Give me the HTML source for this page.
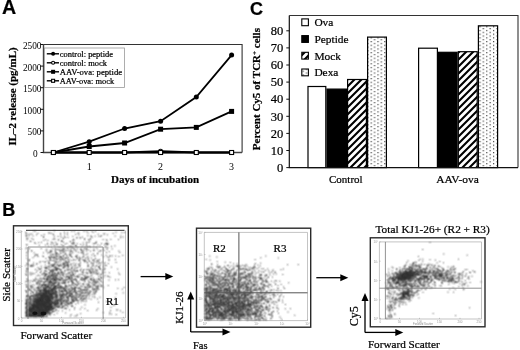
<!DOCTYPE html>
<html><head><meta charset="utf-8"><style>
html,body{margin:0;padding:0;background:#fff;width:520px;height:350px;overflow:hidden}
svg{display:block;filter:grayscale(1)}
text{stroke:#000;stroke-width:0.22px}
</style></head><body>
<svg width="520" height="350" viewBox="0 0 520 350">
<rect width="520" height="350" fill="#fff"/>
<text x="2.1" y="13.9" font-family='"Liberation Sans", sans-serif' font-weight="bold" font-size="19.6">A</text>
<text x="250" y="15.4" font-family='"Liberation Sans", sans-serif' font-weight="bold" font-size="18">C</text>
<text x="2.2" y="216" font-family='"Liberation Sans", sans-serif' font-weight="bold" font-size="18">B</text>
<path d="M43.5 44.5H242.1V152.5" fill="none" stroke="#333" stroke-width="1.1"/>
<path d="M43.5 44.5V152.5H242.1" fill="none" stroke="#444" stroke-width="1.4"/>
<path d="M40.5 152.5H43.5" stroke="#111" stroke-width="1"/>
<text x="37.6" y="157.0" text-anchor="end" font-family='"Liberation Serif", serif' font-size="9.3" style="stroke:none">0</text>
<path d="M40.5 130.9H43.5" stroke="#111" stroke-width="1"/>
<text x="41.5" y="135.4" text-anchor="end" font-family='"Liberation Serif", serif' font-size="9.3" style="stroke:none">500</text>
<path d="M40.5 109.3H43.5" stroke="#111" stroke-width="1"/>
<text x="41.5" y="113.8" text-anchor="end" font-family='"Liberation Serif", serif' font-size="9.3" style="stroke:none">1000</text>
<path d="M40.5 87.7H43.5" stroke="#111" stroke-width="1"/>
<text x="41.5" y="92.2" text-anchor="end" font-family='"Liberation Serif", serif' font-size="9.3" style="stroke:none">1500</text>
<path d="M40.5 66.1H43.5" stroke="#111" stroke-width="1"/>
<text x="41.5" y="70.6" text-anchor="end" font-family='"Liberation Serif", serif' font-size="9.3" style="stroke:none">2000</text>
<path d="M40.5 44.5H43.5" stroke="#111" stroke-width="1"/>
<text x="41.5" y="49.0" text-anchor="end" font-family='"Liberation Serif", serif' font-size="9.3" style="stroke:none">2500</text>
<text x="89.2" y="169.8" text-anchor="middle" font-family='"Liberation Serif", serif' font-size="10" style="stroke:none">1</text>
<text x="160.6" y="169.8" text-anchor="middle" font-family='"Liberation Serif", serif' font-size="10" style="stroke:none">2</text>
<text x="231.4" y="169.8" text-anchor="middle" font-family='"Liberation Serif", serif' font-size="10" style="stroke:none">3</text>
<text x="111" y="182.7" font-family='"Liberation Serif", serif' font-weight="bold" font-size="11">Days of incubation</text>
<text transform="translate(16.2 145.6) rotate(-90)" x="0" y="0" font-family='"Liberation Serif", serif' font-weight="bold" font-size="10.95">IL–2 release (pg/mL)</text>
<polyline points="53.4,152.5 89.2,152.5 124.6,152.5 160.6,152.5 196.3,152.5 231.6,152.5" fill="none" stroke="#000" stroke-width="1.8"/>
<polyline points="53.4,152.5 89.2,146.5 124.6,143.0 160.6,129.2 196.3,127.4 231.6,111.4" fill="none" stroke="#000" stroke-width="1.8"/>
<polyline points="53.4,152.5 89.2,152.5 124.6,152.5 160.6,151.2 196.3,152.5 231.6,152.5" fill="none" stroke="#000" stroke-width="1.8"/>
<polyline points="53.4,152.5 89.2,141.7 124.6,128.5 160.6,121.2 196.3,97.1 231.6,55.1" fill="none" stroke="#000" stroke-width="1.8"/>
<circle cx="53.4" cy="152.5" r="2.5" fill="#000"/>
<circle cx="89.2" cy="141.7" r="2.5" fill="#000"/>
<circle cx="124.6" cy="128.5" r="2.5" fill="#000"/>
<circle cx="160.6" cy="121.2" r="2.5" fill="#000"/>
<circle cx="196.3" cy="97.1" r="2.5" fill="#000"/>
<circle cx="231.6" cy="55.1" r="2.5" fill="#000"/>
<circle cx="53.4" cy="152.5" r="2.0" fill="#fff" stroke="#000" stroke-width="1.1"/>
<circle cx="89.2" cy="152.5" r="2.0" fill="#fff" stroke="#000" stroke-width="1.1"/>
<circle cx="124.6" cy="152.5" r="2.0" fill="#fff" stroke="#000" stroke-width="1.1"/>
<circle cx="160.6" cy="151.2" r="2.0" fill="#fff" stroke="#000" stroke-width="1.1"/>
<circle cx="196.3" cy="152.5" r="2.0" fill="#fff" stroke="#000" stroke-width="1.1"/>
<circle cx="231.6" cy="152.5" r="2.0" fill="#fff" stroke="#000" stroke-width="1.1"/>
<rect x="50.9" y="150.0" width="5.0" height="5.0" fill="#000"/>
<rect x="86.7" y="144.0" width="5.0" height="5.0" fill="#000"/>
<rect x="122.1" y="140.5" width="5.0" height="5.0" fill="#000"/>
<rect x="158.1" y="126.7" width="5.0" height="5.0" fill="#000"/>
<rect x="193.8" y="124.9" width="5.0" height="5.0" fill="#000"/>
<rect x="229.1" y="108.9" width="5.0" height="5.0" fill="#000"/>
<rect x="51.4" y="150.5" width="4.0" height="4.0" fill="#fff" stroke="#000" stroke-width="1.1"/>
<rect x="87.2" y="150.5" width="4.0" height="4.0" fill="#fff" stroke="#000" stroke-width="1.1"/>
<rect x="122.6" y="150.5" width="4.0" height="4.0" fill="#fff" stroke="#000" stroke-width="1.1"/>
<rect x="158.6" y="150.5" width="4.0" height="4.0" fill="#fff" stroke="#000" stroke-width="1.1"/>
<rect x="194.3" y="150.5" width="4.0" height="4.0" fill="#fff" stroke="#000" stroke-width="1.1"/>
<rect x="229.6" y="150.5" width="4.0" height="4.0" fill="#fff" stroke="#000" stroke-width="1.1"/>
<rect x="44.5" y="48" width="80" height="39.5" fill="#fff" stroke="#999" stroke-width="0.8"/>
<path d="M46.8 53.8H59" stroke="#000" stroke-width="1.4"/>
<circle cx="53.1" cy="53.8" r="2.0" fill="#000"/>
<text x="59.8" y="56.7" font-family='"Liberation Serif", serif' font-size="8.45">control: peptide</text>
<path d="M46.8 62.8H59" stroke="#000" stroke-width="1.4"/>
<circle cx="53.1" cy="62.8" r="1.5" fill="#fff" stroke="#000" stroke-width="1.1"/>
<text x="59.8" y="65.7" font-family='"Liberation Serif", serif' font-size="8.45">control: mock</text>
<path d="M46.8 71.8H59" stroke="#000" stroke-width="1.4"/>
<rect x="51.1" y="69.8" width="4.0" height="4.0" fill="#000"/>
<text x="59.8" y="74.7" font-family='"Liberation Serif", serif' font-size="8.45" textLength="62.3" lengthAdjust="spacingAndGlyphs">AAV-ova: peptide</text>
<path d="M46.8 80.8H59" stroke="#000" stroke-width="1.4"/>
<rect x="51.6" y="79.3" width="3.0" height="3.0" fill="#fff" stroke="#000" stroke-width="1.1"/>
<text x="59.8" y="83.7" font-family='"Liberation Serif", serif' font-size="8.45" textLength="54.4" lengthAdjust="spacingAndGlyphs">AAV-ova: mock</text>
<defs><pattern id="hatch" width="7" height="7" patternUnits="userSpaceOnUse"><rect width="7" height="7" fill="#fff"/><path d="M-1 8L8 -1M-4.5 4.5L4.5 -4.5M2.5 11.5L11.5 2.5" stroke="#000" stroke-width="2.1"/></pattern><pattern id="dots" x="370.6" y="0.3" width="6.8" height="3.7" patternUnits="userSpaceOnUse"><rect width="6.8" height="3.7" fill="#fff"/><rect x="0" y="0" width="1.2" height="1.2" fill="#444"/><rect x="3.4" y="1.85" width="1.2" height="1.2" fill="#444"/></pattern><filter id="bl" x="-5%" y="-5%" width="110%" height="110%"><feConvolveMatrix order="3" kernelMatrix="1 2 1 2 4 2 1 2 1" divisor="16" edgeMode="none"/></filter></defs>
<path d="M289.3 15.5H518V167.6" fill="none" stroke="#333" stroke-width="1.1"/>
<rect x="308.0" y="86.5" width="17.8" height="81.1" fill="#fff" stroke="#000" stroke-width="1.2"/>
<rect x="327.0" y="89.1" width="19.4" height="78.5" fill="#000" stroke="#000" stroke-width="1.2"/>
<rect x="347.6" y="79.5" width="18.8" height="88.1" fill="url(#hatch)" stroke="#000" stroke-width="1.2"/>
<rect x="367.6" y="37.1" width="18.8" height="130.5" fill="url(#dots)" stroke="#000" stroke-width="1.2"/>
<rect x="418.6" y="48.2" width="18.8" height="119.4" fill="#fff" stroke="#000" stroke-width="1.2"/>
<rect x="438.6" y="52.3" width="18.5" height="115.3" fill="#000" stroke="#000" stroke-width="1.2"/>
<rect x="458.3" y="51.7" width="18.9" height="115.9" fill="url(#hatch)" stroke="#000" stroke-width="1.2"/>
<rect x="478.4" y="25.8" width="19.2" height="141.8" fill="url(#dots)" stroke="#000" stroke-width="1.2"/>
<path d="M289.3 15.5V167.6H518" fill="none" stroke="#111" stroke-width="1.2"/>
<path d="M286.3 167.6H289.3" stroke="#111" stroke-width="1"/>
<text x="283.2" y="171.8" text-anchor="end" font-family='"Liberation Serif", serif' font-size="12.5">0</text>
<path d="M286.3 150.5H289.3" stroke="#111" stroke-width="1"/>
<text x="283.2" y="154.7" text-anchor="end" font-family='"Liberation Serif", serif' font-size="12.5">10</text>
<path d="M286.3 133.4H289.3" stroke="#111" stroke-width="1"/>
<text x="283.2" y="137.6" text-anchor="end" font-family='"Liberation Serif", serif' font-size="12.5">20</text>
<path d="M286.3 116.3H289.3" stroke="#111" stroke-width="1"/>
<text x="283.2" y="120.5" text-anchor="end" font-family='"Liberation Serif", serif' font-size="12.5">30</text>
<path d="M286.3 99.2H289.3" stroke="#111" stroke-width="1"/>
<text x="283.2" y="103.4" text-anchor="end" font-family='"Liberation Serif", serif' font-size="12.5">40</text>
<path d="M286.3 82.1H289.3" stroke="#111" stroke-width="1"/>
<text x="283.2" y="86.3" text-anchor="end" font-family='"Liberation Serif", serif' font-size="12.5">50</text>
<path d="M286.3 65.0H289.3" stroke="#111" stroke-width="1"/>
<text x="283.2" y="69.2" text-anchor="end" font-family='"Liberation Serif", serif' font-size="12.5">60</text>
<path d="M286.3 47.9H289.3" stroke="#111" stroke-width="1"/>
<text x="283.2" y="52.1" text-anchor="end" font-family='"Liberation Serif", serif' font-size="12.5">70</text>
<path d="M286.3 30.8H289.3" stroke="#111" stroke-width="1"/>
<text x="283.2" y="35.0" text-anchor="end" font-family='"Liberation Serif", serif' font-size="12.5">80</text>
<text x="329" y="182.7" font-family='"Liberation Serif", serif' font-size="11">Control</text>
<text x="436.3" y="182.8" font-family='"Liberation Serif", serif' font-size="11.3" textLength="42.6" lengthAdjust="spacingAndGlyphs">AAV-ova</text>
<text transform="translate(260 150.2) rotate(-90)" font-family='"Liberation Serif", serif' font-weight="bold" font-size="11">Percent Cy5 of TCR<tspan dy="-3.5" font-size="7">+</tspan><tspan dy="3.5"> cells</tspan></text>
<rect x="301.8" y="18.9" width="6.6" height="6.8" fill="#fff" stroke="#000" stroke-width="1.1"/>
<text x="314.4" y="26.2" font-family='"Liberation Serif", serif' font-size="11.4">Ova</text>
<rect x="301.8" y="35.6" width="6.6" height="6.8" fill="#000" stroke="#000" stroke-width="1.1"/>
<text x="314.4" y="42.9" font-family='"Liberation Serif", serif' font-size="11.4">Peptide</text>
<rect x="301.8" y="52.3" width="6.6" height="6.8" fill="url(#hatch)" stroke="#000" stroke-width="1.1"/>
<text x="314.4" y="59.6" font-family='"Liberation Serif", serif' font-size="11.4">Mock</text>
<rect x="301.8" y="69.0" width="6.6" height="6.8" fill="url(#dots)" stroke="#000" stroke-width="1.1"/>
<text x="314.4" y="76.3" font-family='"Liberation Serif", serif' font-size="11.4">Dexa</text>
<rect x="13.5" y="225.8" width="114.80000000000001" height="99.69999999999999" fill="none" stroke="#2a2a2a" stroke-width="1.4"/>
<path d="M21.3 230.4V318H125.5V230.4" fill="none" stroke="#aaa" stroke-width="0.7"/>
<path d="M26 230.4H124.5" stroke="#555" stroke-width="1.2"/>
<text x="18.6" y="233.0" text-anchor="middle" font-family='"Liberation Sans", sans-serif' font-size="3" fill="#999" style="stroke:none">250</text>
<text x="18.6" y="250.3" text-anchor="middle" font-family='"Liberation Sans", sans-serif' font-size="3" fill="#999" style="stroke:none">200</text>
<text x="18.6" y="267.6" text-anchor="middle" font-family='"Liberation Sans", sans-serif' font-size="3" fill="#999" style="stroke:none">150</text>
<text x="18.6" y="284.9" text-anchor="middle" font-family='"Liberation Sans", sans-serif' font-size="3" fill="#999" style="stroke:none">100</text>
<text x="18.6" y="302.2" text-anchor="middle" font-family='"Liberation Sans", sans-serif' font-size="3" fill="#999" style="stroke:none">50</text>
<text x="18.6" y="319.5" text-anchor="middle" font-family='"Liberation Sans", sans-serif' font-size="3" fill="#999" style="stroke:none">0</text>
<path d="M21.3 231.7h1.2M21.3 249.0h1.2M21.3 266.3h1.2M21.3 283.6h1.2M21.3 300.9h1.2M21.3 318.2h1.2" stroke="#999" stroke-width="0.5"/>
<text x="21.6" y="322.3" text-anchor="middle" font-family='"Liberation Sans", sans-serif' font-size="3" fill="#999" style="stroke:none">0</text>
<text x="41.5" y="322.3" text-anchor="middle" font-family='"Liberation Sans", sans-serif' font-size="3" fill="#999" style="stroke:none">50</text>
<text x="61.5" y="322.3" text-anchor="middle" font-family='"Liberation Sans", sans-serif' font-size="3" fill="#999" style="stroke:none">100</text>
<text x="81.4" y="322.3" text-anchor="middle" font-family='"Liberation Sans", sans-serif' font-size="3" fill="#999" style="stroke:none">150</text>
<text x="103.5" y="322.3" text-anchor="middle" font-family='"Liberation Sans", sans-serif' font-size="3" fill="#999" style="stroke:none">200</text>
<text x="123.4" y="322.3" text-anchor="middle" font-family='"Liberation Sans", sans-serif' font-size="3" fill="#999" style="stroke:none">250</text>
<path d="M21.6 318v-1.2M41.5 318v-1.2M61.5 318v-1.2M81.4 318v-1.2M103.5 318v-1.2M123.4 318v-1.2" stroke="#999" stroke-width="0.5"/>
<text x="73" y="323.6" text-anchor="middle" font-family='"Liberation Sans", sans-serif' font-size="3" fill="#888" style="stroke:none">Forward Scatter</text>
<text transform="translate(16.3 274) rotate(-90)" text-anchor="middle" font-family='"Liberation Sans", sans-serif' font-size="3" fill="#888" style="stroke:none">Side Scatter</text>
<path d="M25.8 232.2h0m0 49.5h0m0 21.8h0m0 8.6h0m0 1.4h0m.1-47.7h0m0 24.9h0m0 9.5h0m0 9.8h0m0 2.8h0m.1-38.4h0m0 28.8h0m0 1.4h0m0 2.7h0m0 .1h0m0 4.2h0m.1-62.7h0m0 59h0m0 8h0m.1-82h0m0 1.6h0m0 38.6h0m0 24.7h0m0 2h0m0 1.4h0m0 .8h0m0 1.3h0m0 4.8h0m0 5.8h0m0 .3h0m0 .7h0m0 .6h0m.1-83.2h0m0 37.3h0m0 13.8h0m0 .4h0m0 5.8h0m0 14.2h0m0 2.6h0m0 1.3h0m.1-72h0m0 8.1h0m0 2.9h0m0 24.5h0m0 24.2h0m0 .4h0m0 9.8h0m0 1.9h0m0 4h0m.1-77h0m0 20.1h0m0 36.2h0m0 .2h0m0 8.3h0m0 1.5h0m0 .7h0m0 .9h0m0 3.8h0m0 7.5h0m.1-46.2h0m0 18.8h0m0 4.5h0m0 20.8h0m0 2h0m.1-61.5h0m0 22.4h0m0 10.5h0m0 20.9h0m0 3.6h0m0 1.8h0m.1-73.7h0m0 13.6h0m0 5.9h0m0 20.9h0m0 2.4h0m0 11.5h0m0 2.8h0m0 6.5h0m0 8.4h0m0 3h0m0 1.7h0m.1-46.7h0m0 30.4h0m.1-34.2h0m0 6.4h0m0 15.4h0m0 22.1h0m0 2h0m.1-70.8h0m0 4.9h0m0 57.3h0m0 .3h0m0 1.3h0m0 1h0m0 .9h0m0 .5h0m0 5.3h0m.1-48.1h0m0 0h0m0 33.3h0m0 17.1h0m0 1.2h0m0 1.4h0m0 .4h0m.1-37.7h0m0 16.2h0m0 17.2h0m0 1.7h0m.1-17.8h0m0 14.4h0m0 5.6h0m.1-47h0m0 26.1h0m0 11.1h0m0 5.6h0m0 .3h0m.1-16.4h0m0 3.8h0m0 .4h0m0 .9h0m0 3.2h0m0 5.6h0m0 6h0m.1-47.3h0m0 41.7h0m.1-50.3h0m0 21h0m0 33.4h0m0 1.1h0m.1-77.2h0m0 70.8h0m0 1.9h0m.1-15.9h0m0 10.3h0m0 3.8h0m0 .5h0m0 2h0m0 3.2h0m0 .8h0m0 .9h0m.1-29.4h0m0 11.9h0m0 8.6h0m0 2.1h0m0 5.9h0m.1 1h0m.1-65.7h0m0 29.6h0m0 28.5h0m0 4.6h0m0 1.4h0m.1-15.9h0m0 3.4h0m0 7.1h0m0 6.7h0m0 .3h0m.1-28.4h0m0 14.1h0m0 11.2h0m0 2.4h0m0 .6h0m.1-82.3h0m0 30.4h0m0 31.5h0m0 6.8h0m0 6.9h0m0 6.6h0m.1-31.4h0m0 4.5h0m0 22.2h0m0 1.3h0m0 2.5h0m.1-54.6h0m0 29.9h0m0 15.8h0m0 3.6h0m0 4.6h0m0 1.4h0m.1-80.3h0m0 64.4h0m0 2.1h0m0 0h0m0 1.3h0m0 1.1h0m0 2.1h0m0 2.4h0m0 6.8h0m.1-4.1h0m0 1.9h0m0 2.2h0m.1-67.7h0m0 .2h0m0 40.7h0m0 15.1h0m0 4.1h0m0 3.2h0m0 .2h0m0 2.6h0m0 .8h0m.1-16.4h0m0 13.1h0m.1-52.1h0m0 29.7h0m0 7.7h0m0 3.9h0m0 12.5h0m0 .5h0m.1-18.1h0m0 13.1h0m0 1.2h0m.1-50.6h0m0 37.4h0m0 8.1h0m0 2.3h0m0 0h0m0 1.8h0m.1-6.7h0m0 4h0m.1 3.6h0m0 3.6h0m0 .8h0m.1-41.9h0m0 10h0m0 14.9h0m0 .8h0m0 6h0m0 6.3h0m.1-2h0m0 .3h0m0 2h0m0 .2h0m0 2.7h0m.1-13.8h0m0 2.4h0m0 5.7h0m0 1.1h0m0 1.7h0m.1-36.4h0m0 36.3h0m0 4.8h0m.1-74.8h0m0 63.5h0m0 5.3h0m0 3.2h0m0 3.1h0m.1-82h0m0 31.9h0m0 27.2h0m0 8.6h0m0 1.6h0m0 4.8h0m0 6.2h0m0 .1h0m0 1.9h0m.1-50.6h0m0 32h0m0 1.1h0m0 7.5h0m0 1.2h0m0 2.4h0m0 1h0m0 3h0m0 .5h0m.1-7.8h0m0 1.8h0m0 2.1h0m0 3.2h0m0 1.6h0m0 1h0m.1-28.8h0m0 10.3h0m0 2.4h0m0 10.3h0m0 .2h0m0 .9h0m.1-31h0m0 4.8h0m0 10.4h0m0 3.2h0m0 7h0m0 .4h0m0 2.9h0m0 3.1h0m0 .2h0m0 2.2h0m.1-24.9h0m0 .3h0m.1-48.9h0m0 44.7h0m0 10.2h0m0 2.8h0m0 5.1h0m0 4.7h0m0 2.7h0m0 2.9h0m0 2.2h0m.1-30.6h0m0 15.5h0m0 2.6h0m0 4h0m0 1.2h0m0 .8h0m0 .1h0m0 2.5h0m0 1.5h0m.1-41.5h0m0 20.7h0m0 8.7h0m0 .3h0m0 6.4h0m0 5.9h0m0 1.4h0m.1-20.3h0m0 .2h0m0 13.4h0m0 0h0m0 3h0m0 3.1h0m0 .8h0m.1-12.3h0m0 6.4h0m0 4.2h0m0 .7h0m0 .4h0m.1-27.6h0m0 3.1h0m0 14h0m0 2.4h0m0 .5h0m0 2h0m0 0h0m0 4.6h0m0 1.1h0m.1-10.8h0m0 4.1h0m0 2.5h0m.1-46.6h0m0 33.5h0m0 12.9h0m0 .5h0m.1-61.4h0m0 .3h0m0 14.9h0m0 38.6h0m0 3.8h0m0 .3h0m0 2.5h0m0 5.4h0m.1-50.3h0m0 8.5h0m0 25.7h0m0 11.2h0m0 1.5h0m0 3.4h0m.1-77.9h0m0 57.2h0m0 .2h0m0 13.7h0m0 2h0m.1-77.6h0m0 75.5h0m.1-4.1h0m0 1.4h0m0 .4h0m0 .5h0m0 .7h0m0 5.2h0m0 2.8h0m.1-30h0m0 19.9h0m0 .3h0m0 1.1h0m0 5.8h0m0 2.7h0m.1-24.5h0m0 8.9h0m0 2.3h0m0 1.2h0m0 3.5h0m0 .4h0m0 .5h0m0 .6h0m0 2.3h0m.1-16.1h0m0 16h0m0 1.4h0m.1-27.9h0m0 2.5h0m0 17.9h0m0 1.3h0m0 1.4h0m0 3.1h0m0 1.9h0m.1-31.6h0m0 24.8h0m0 2.3h0m0 .9h0m0 2.5h0m0 2.1h0m0 .5h0m0 .1h0m0 .7h0m0 .5h0m.1-42.5h0m0 33.4h0m0 1.9h0m0 2.4h0m0 1.9h0m.1-48h0m0 31h0m0 2.9h0m0 6.6h0m0 .1h0m0 .6h0m0 .7h0m0 .2h0m0 .8h0m0 1.2h0m0 0h0m0 1.5h0m0 2h0m0 2.6h0m.1-48.8h0m0 26.2h0m0 9.2h0m0 2.5h0m0 3.1h0m0 .7h0m.1-72h0m0 21.7h0m0 40.3h0m0 5.2h0m0 1.8h0m0 .6h0m0 1.6h0m0 .1h0m0 .3h0m0 3.4h0m0 1.2h0m0 .5h0m0 .3h0m0 2.5h0m0 .3h0m.1-23.1h0m0 16.4h0m0 3.7h0m0 0h0m.1-16h0m0 2.9h0m0 1.1h0m0 3.2h0m0 1.3h0m0 .5h0m0 2.8h0m0 2.5h0m0 1.1h0m0 .2h0m0 .5h0m0 .2h0m0 1.7h0m.1-75.2h0m0 52.7h0m0 22h0m.1-17.8h0m0 7.4h0m0 2h0m0 .4h0m0 3.1h0m0 .5h0m0 2.8h0m.1-18.5h0m0 11.9h0m0 .8h0m0 .8h0m0 .2h0m0 .9h0m0 7h0m0 0h0m.1-52.8h0m0 40h0m0 1.1h0m0 3.3h0m0 1.2h0m0 .1h0m0 2.2h0m0 1.7h0m0 2.8h0m0 1.3h0m.1-36.9h0m0 9.6h0m0 8.5h0m0 3.9h0m0 3h0m0 .9h0m0 4.7h0m0 2.9h0m0 1.9h0m.1-50h0m0 39.6h0m0 11.2h0m.1-84.9h0m0 64h0m0 5.8h0m0 .1h0m0 .9h0m0 2.4h0m0 1.7h0m0 2h0m0 4.5h0m0 .6h0m0 1.4h0m0 .7h0m0 1.6h0m.1-35.7h0m0 17.6h0m0 1h0m0 2.7h0m0 .2h0m0 5.6h0m0 6.3h0m0 1.7h0m.1-63.3h0m0 35h0m0 7h0m0 3.9h0m0 2.3h0m0 10.4h0m0 .8h0m0 .3h0m.1-38.9h0m0 23.1h0m0 7.9h0m0 3.4h0m0 1.3h0m0 .3h0m0 .2h0m0 1.8h0m0 .4h0m.1-27h0m0 11.5h0m0 5.3h0m0 5.1h0m0 5h0m0 .7h0m0 1.2h0m0 1.4h0m0 .7h0m.1-12.2h0m0 .2h0m0 .3h0m0 1.1h0m0 .4h0m0 10.6h0m.1-73.6h0m0 13.3h0m0 44.7h0m0 5.2h0m0 .3h0m0 7.3h0m0 .9h0m.1-8.4h0m0 2.3h0m0 1.6h0m0 1.9h0m0 1.8h0m0 .2h0m0 .6h0m.1-34.3h0m0 10.6h0m0 14.4h0m0 8.5h0m.1-18.8h0m0 3.6h0m0 2.1h0m0 .5h0m0 3.6h0m0 .3h0m0 2.9h0m0 .6h0m0 4.1h0m.1-22.7h0m0 8.6h0m0 5.3h0m0 1.9h0m0 .6h0m0 3.9h0m0 3.9h0m.1-15.6h0m0 3.7h0m0 2.6h0m0 2.7h0m0 .2h0m0 .3h0m0 3h0m.1-11h0m0 6.9h0m0 2.9h0m0 1.5h0m0 2h0m0 2.5h0m0 .6h0m.1-22.2h0m0 2.6h0m0 7.6h0m0 2.5h0m0 1.9h0m0 .8h0m0 1.2h0m0 0h0m0 4.4h0m.1-84h0m0 66.7h0m0 1.7h0m0 .2h0m0 2.4h0m0 5.1h0m0 0h0m0 7.6h0m0 1.2h0m.1-46.7h0m0 29.6h0m0 6.1h0m0 1.2h0m0 4.1h0m0 4.8h0m0 1.5h0m.1-61.6h0m0 46.3h0m0 6.2h0m0 2.1h0m0 6.6h0m.1-16h0m0 11.4h0m0 1.5h0m0 .1h0m0 2.1h0m.1-72.1h0m0 11h0m0 23.8h0m0 1h0m0 23.5h0m0 .3h0m0 .6h0m0 2.3h0m0 10.9h0m.1-35.7h0m0 14.2h0m0 1.4h0m0 4.6h0m0 4.7h0m0 .2h0m0 5.7h0m0 0h0m.1-12.4h0m0 1.6h0m0 1.1h0m0 3.2h0m0 .7h0m0 7.7h0m0 1.4h0m.1-19.9h0m0 1h0m0 1.1h0m0 7.6h0m0 .7h0m0 1.4h0m0 3h0m0 1.7h0m0 .5h0m0 1.3h0m0 0h0m0 1h0m.1-24.1h0m0 2.3h0m0 2.3h0m0 .3h0m0 10.8h0m0 .7h0m0 .9h0m0 2.2h0m0 1.1h0m0 .5h0m0 3.1h0m.1-26.4h0m0 14.2h0m0 2.6h0m0 6.3h0m0 1.8h0m0 1.2h0m0 1.8h0m.1-43.9h0m0 22h0m0 3.7h0m0 1h0m0 1.5h0m0 .8h0m0 .4h0m0 3.3h0m0 .6h0m0 1.2h0m0 1.3h0m0 .1h0m.1-14h0m0 8.8h0m0 .5h0m0 2.7h0m0 1h0m0 .2h0m0 1.5h0m0 1.5h0m0 1.7h0m0 .8h0m0 1.6h0m0 1.8h0m0 0h0m.1-24.3h0m0 3h0m0 4.8h0m0 .3h0m0 2h0m0 3.8h0m0 4.2h0m0 2.3h0m0 1.1h0m0 .4h0m0 2.9h0m.1-81.9h0m0 48.3h0m0 18.8h0m0 0h0m0 .8h0m0 1h0m0 1.8h0m0 1.8h0m.1-43h0m0 35.3h0m0 2.1h0m0 2.6h0m0 3.5h0m0 .3h0m0 .3h0m0 2.9h0m.1-19.5h0m0 3.4h0m0 3.2h0m0 1.3h0m0 2.1h0m0 .9h0m0 6.6h0m0 3.7h0m0 .3h0m0 3.2h0m.1-33.8h0m0 .6h0m0 18.4h0m0 .2h0m0 1.1h0m0 4.9h0m0 .2h0m.1-44.7h0m0 29.2h0m0 4.1h0m0 5.4h0m0 1h0m0 1.1h0m0 2.5h0m0 3.2h0m0 1.2h0m.1-35.3h0m0 8.9h0m0 8.9h0m0 7.9h0m0 1h0m0 .6h0m0 .5h0m.1-24.2h0m0 8h0m0 11.8h0m0 .1h0m0 4.4h0m0 3.2h0m0 4.5h0m0 2h0m0 .1h0m0 1.2h0m0 .9h0m.1-60.2h0m0 15.2h0m0 29.5h0m0 1.3h0m0 1.8h0m0 .1h0m0 .6h0m0 .6h0m0 3.8h0m0 1.6h0m0 1.9h0m0 .5h0m0 .9h0m.1-58.6h0m0 43.1h0m0 2.8h0m0 0h0m0 .3h0m0 1.2h0m0 .7h0m0 2.2h0m0 .3h0m0 1.8h0m0 3.4h0m.1-15.8h0m0 1.8h0m0 2.4h0m0 1.5h0m0 .1h0m0 1.7h0m0 .6h0m0 2.8h0m0 1h0m0 .9h0m0 1h0m0 0h0m0 5.9h0m0 2.1h0m.1-28.7h0m0 2.7h0m0 7h0m0 5.2h0m0 0h0m0 1.1h0m0 2.9h0m0 4.5h0m0 3.1h0m0 .3h0m0 0h0m.1-15.6h0m0 .6h0m0 1.3h0m0 .6h0m0 2.5h0m0 .5h0m0 3.8h0m0 .3h0m0 2.5h0m0 2.8h0m0 2.1h0m0 .2h0m.1-21.2h0m0 .9h0m0 .6h0m0 4.1h0m0 1.5h0m0 4.2h0m0 .4h0m0 1.1h0m0 6h0m0 .8h0m0 1.6h0m.1-82.7h0m0 50.2h0m0 4.4h0m0 13.1h0m0 7.7h0m0 2.5h0m0 3.2h0m0 .2h0m0 1.9h0m.1-60h0m0 11.2h0m0 21h0m0 11.1h0m0 1.1h0m0 5.3h0m0 1.3h0m0 1h0m0 .6h0m0 .1h0m0 .3h0m0 1.7h0m0 1.6h0m0 .7h0m0 1.6h0m.1-33.8h0m0 19.3h0m0 1.7h0m0 .2h0m0 1.2h0m0 1.1h0m0 .8h0m0 .6h0m0 .2h0m0 4h0m0 .5h0m.1-9.9h0m0 .1h0m0 3.5h0m0 7.4h0m.1-30.1h0m0 5.3h0m0 5.9h0m0 3.9h0m0 1.3h0m0 .3h0m0 2.7h0m0 .8h0m0 1.4h0m0 2.6h0m0 1.4h0m0 2.1h0m0 3.5h0m0 1.9h0m.1-33.1h0m0 10.8h0m0 2.4h0m0 4.5h0m0 .6h0m0 4.2h0m0 7.3h0m0 .5h0m0 4h0m.1-41.2h0m0 14h0m0 5.1h0m0 7.7h0m0 2.2h0m0 1.4h0m0 2.9h0m0 .7h0m0 6.2h0m.1-29h0m0 8.4h0m0 1.6h0m0 2.5h0m0 1.7h0m0 .2h0m0 1.2h0m0 3h0m0 2.4h0m0 4h0m0 3.6h0m0 .4h0m.1-27.8h0m0 .5h0m0 2.2h0m0 4h0m0 6h0m0 2.6h0m0 3.7h0m0 1.3h0m0 0h0m0 .7h0m0 3.8h0m0 .5h0m0 .8h0m0 1.9h0m0 .6h0m0 .3h0m.1-73.7h0m0 61.2h0m0 1.1h0m0 2.2h0m0 .3h0m0 3.5h0m0 .4h0m0 1.5h0m0 2.7h0m.1-34.8h0m0 12.4h0m0 4.7h0m0 .2h0m0 1.3h0m0 1.1h0m0 1h0m0 1.3h0m0 1.6h0m0 5.1h0m0 1.1h0m0 1h0m0 4.3h0m0 .2h0m.1-25.2h0m0 4.9h0m0 4h0m0 .7h0m0 3.3h0m0 3.5h0m0 3.1h0m0 4.9h0m.1-21.3h0m0 .4h0m0 .6h0m0 4.1h0m0 2.6h0m0 2.8h0m0 4.1h0m0 4h0m0 1.3h0m0 2h0m.1-47.5h0m0 11.6h0m0 5.7h0m0 14.5h0m0 .3h0m0 3.8h0m0 3.4h0m0 .3h0m0 1.9h0m0 1.3h0m0 .2h0m.1-66h0m0 24.1h0m0 13.9h0m0 5.5h0m0 2.4h0m0 7.8h0m0 4.1h0m0 .6h0m0 1.9h0m0 6h0m0 2h0m0 .2h0m0 .9h0m.1-30.7h0m0 13.3h0m0 2.3h0m0 1.3h0m0 2.6h0m0 0h0m0 1.5h0m0 .1h0m0 2.6h0m0 7.2h0m0 .3h0m.1-16.8h0m0 1.4h0m0 1.5h0m0 .2h0m0 .7h0m0 .3h0m0 .4h0m0 5.7h0m0 1.1h0m0 1.4h0m0 1.6h0m.1-14.6h0m0 5.8h0m0 3.1h0m0 1.9h0m0 .4h0m0 .4h0m0 1.2h0m0 .3h0m0 .6h0m0 1.3h0m0 1.3h0m0 1.5h0m.1-27.2h0m0 4.5h0m0 .9h0m0 4.6h0m0 0h0m0 3.2h0m0 5.4h0m0 6.5h0m0 .3h0m0 .6h0m.1-24.3h0m0 6.8h0m0 2.2h0m0 5.9h0m0 2h0m0 1.8h0m0 1h0m0 .5h0m0 .4h0m0 .3h0m0 1.3h0m0 0h0m0 3.8h0m.1-53.8h0m0 16h0m0 14.2h0m0 2h0m0 2.1h0m0 7.6h0m0 2h0m0 .5h0m0 .9h0m0 1.8h0m0 .9h0m0 .4h0m0 1h0m0 1.5h0m.1-37.7h0m0 15.3h0m0 9.7h0m0 .4h0m0 3.3h0m0 4.7h0m0 2.8h0m0 .5h0m0 2.4h0m0 1.1h0m0 .5h0m.1-32.1h0m0 6h0m0 3.8h0m0 2.6h0m0 .3h0m0 .2h0m0 3.4h0m0 3.7h0m0 .5h0m0 4.7h0m0 3.3h0m0 .7h0m0 1.1h0m0 .6h0m0 1.1h0m.1-55.1h0m0 29.2h0m0 5h0m0 3h0m0 .3h0m0 1.5h0m0 1h0m0 2.5h0m0 .9h0m0 .1h0m0 1.5h0m0 .3h0m0 2.6h0m0 .2h0m.1-37.1h0m0 9.1h0m0 16.3h0m0 .7h0m0 2.5h0m0 1.1h0m0 2.5h0m0 1.3h0m0 .5h0m0 6.3h0m.1-20.2h0m0 3.2h0m0 3.5h0m0 1.3h0m0 1h0m0 2.3h0m0 1.7h0m0 2.4h0m0 5.9h0m0 .9h0m0 1.3h0m.1-46.8h0m0 3h0m0 14.6h0m0 3.6h0m0 1.5h0m0 1.5h0m0 2.1h0m0 1.3h0m0 3.8h0m0 .5h0m0 2.6h0m0 1h0m0 3.1h0m0 1.3h0m0 .6h0m0 .3h0m0 .6h0m0 5.3h0m0 .3h0m.1-33.5h0m0 11.7h0m0 1.7h0m0 2.7h0m0 1.3h0m0 1.9h0m0 2.1h0m0 .8h0m0 5.1h0m0 2h0m.1-33.8h0m0 2.7h0m0 6.7h0m0 2.1h0m0 1.9h0m0 7.2h0m0 3.8h0m0 1.3h0m0 1.5h0m0 3.7h0m0 .7h0m0 2.2h0m0 .5h0m0 1.9h0m.1-26.8h0m0 7.6h0m0 3.6h0m0 0h0m0 1.6h0m0 4.9h0m0 5.3h0m0 5.2h0m0 0h0m.1-11.9h0m0 1.5h0m0 3.8h0m0 1.9h0m0 4.1h0m0 1.5h0m.1-23.9h0m0 1.3h0m0 4.7h0m0 1.7h0m0 2.7h0m0 1.7h0m0 1.2h0m0 1h0m0 4.7h0m.1-14.4h0m0 4.3h0m0 3.2h0m0 .2h0m0 1.6h0m0 9.6h0m.1-50.1h0m0 35.2h0m0 .5h0m0 .7h0m0 1.3h0m0 3.7h0m0 .7h0m0 .8h0m0 0h0m0 2.6h0m0 .6h0m.1-63.7h0m0 42.5h0m0 1.3h0m0 5.9h0m0 .5h0m0 .9h0m0 1.6h0m0 0h0m0 1.5h0m0 4.7h0m0 2.6h0m0 .3h0m0 .4h0m0 .8h0m0 .1h0m0 1.3h0m0 1.4h0m0 1.3h0m.1-30.8h0m0 9.2h0m0 .1h0m0 .1h0m0 3.8h0m0 8.2h0m0 .2h0m0 1h0m0 7.3h0m.1-79.2h0m0 6.7h0m0 25.9h0m0 28.6h0m0 .2h0m0 .3h0m0 .1h0m0 2h0m0 .1h0m0 .4h0m0 0h0m0 .2h0m0 .5h0m0 2.8h0m0 .8h0m0 2.8h0m0 1.6h0m0 3.9h0m0 1.2h0m0 2.2h0m0 .1h0m.1-45h0m0 14.9h0m0 4.2h0m0 5.5h0m0 4h0m0 2.1h0m0 1.8h0m0 9.7h0m0 .7h0m0 2.6h0m.1-36.4h0m0 5.6h0m0 12.8h0m0 2h0m0 .3h0m0 .8h0m0 1.4h0m0 7h0m0 .4h0m0 2.7h0m0 0h0m0 3.5h0m.1-42.4h0m0 4.7h0m0 9.9h0m0 7.2h0m0 .4h0m0 .4h0m0 .5h0m0 4.7h0m0 1.3h0m0 3.4h0m0 1.8h0m0 .1h0m0 3.2h0m0 .9h0m0 3.3h0m.1-20.7h0m0 .2h0m0 7.4h0m0 1.9h0m0 .9h0m0 .6h0m0 2h0m0 4.2h0m0 1.5h0m.1-32.4h0m0 18.2h0m0 3.3h0m0 0h0m0 1.4h0m0 1.5h0m0 8.4h0m.1-29h0m0 .3h0m0 4.8h0m0 2h0m0 6.1h0m0 1.4h0m0 1.9h0m0 .4h0m0 3.2h0m0 1.5h0m0 2.7h0m0 2.6h0m.1-22h0m0 1.8h0m0 3.6h0m0 .5h0m0 .1h0m0 1.5h0m0 1.1h0m0 1.3h0m0 .4h0m0 .3h0m0 2.2h0m0 2.9h0m0 .8h0m0 3.6h0m0 1.1h0m0 1.8h0m0 2.7h0m.1-22h0m0 1h0m0 .8h0m0 2h0m0 2.1h0m0 1.5h0m0 3h0m0 .6h0m0 3.7h0m0 2h0m0 5h0m.1-28.5h0m0 8.6h0m0 .4h0m0 1.3h0m0 6.1h0m0 .1h0m0 .7h0m0 .8h0m0 5.9h0m0 .7h0m0 .4h0m0 .8h0m0 .2h0m0 2.3h0m.1-19.6h0m0 .2h0m0 .4h0m0 .2h0m0 4.2h0m0 3h0m0 2.2h0m0 1.3h0m0 2h0m0 .7h0m0 .4h0m0 2.2h0m0 .8h0m0 3h0m.1-22.2h0m0 .2h0m0 .7h0m0 1.2h0m0 .8h0m0 1h0m0 .6h0m0 3h0m0 1.2h0m0 2.3h0m0 3.3h0m0 .4h0m0 .2h0m0 2.4h0m0 .8h0m0 1.7h0m0 2.4h0m.1-31.7h0m0 1h0m0 12.9h0m0 .3h0m0 2.9h0m0 1.7h0m0 5.7h0m0 .7h0m0 6.7h0m0 0h0m.1-41.9h0m0 19.3h0m0 3.1h0m.1-41.1h0m0 5.3h0m0 20.3h0m0 2.7h0m0 7.8h0m0 1.7h0m0 5.1h0m0 1.2h0m0 3.3h0m0 .6h0m0 1.5h0m0 5.1h0m0 3h0m0 2.8h0m.1-38.1h0m0 14.8h0m0 .8h0m0 6.2h0m0 .2h0m0 1.7h0m0 0h0m0 2.2h0m0 .2h0m0 3.2h0m0 .6h0m0 .1h0m0 2.6h0m0 .6h0m0 0h0m0 2.8h0m.1-40.8h0m0 12h0m0 4.2h0m0 2.8h0m0 5.8h0m0 3.3h0m0 .9h0m0 6.5h0m0 1.5h0m.1-19.7h0m0 2.5h0m0 4.4h0m0 1.3h0m0 1.3h0m0 .9h0m0 .8h0m0 2h0m0 .1h0m0 6.7h0m.1-18.3h0m0 3.9h0m0 3.5h0m0 4.8h0m0 1.3h0m0 1.3h0m0 2.8h0m0 2.8h0m0 2.8h0m.1-62.9h0m0 41.6h0m0 1.8h0m0 3.1h0m0 2.6h0m0 2.5h0m0 1.8h0m0 3.1h0m0 5h0m0 .7h0m0 .6h0m0 1.1h0m.1-60.2h0m0 30.7h0m0 8.7h0m0 1.8h0m0 1.6h0m0 2h0m0 2.1h0m0 1.5h0m0 4.7h0m0 .6h0m0 1.5h0m0 4.2h0m.1-79.5h0m0 .9h0m0 50.5h0m0 1.5h0m0 .8h0m0 3h0m0 1.8h0m0 .4h0m0 4.1h0m0 3.6h0m0 2.4h0m0 2.3h0m0 2.8h0m.1-70.3h0m0 44.1h0m0 5h0m0 10.2h0m0 5.3h0m0 1.8h0m0 5.2h0m.1-29.5h0m0 1.5h0m0 3.9h0m0 3.1h0m0 3h0m0 4h0m0 .5h0m0 2.2h0m0 5h0m0 .3h0m0 5.5h0m0 .6h0m0 1.4h0m.1-40.1h0m0 17.5h0m0 2.5h0m0 .2h0m0 5h0m0 2.7h0m0 4.6h0m0 .3h0m0 .5h0m.1-28.2h0m0 9.7h0m0 0h0m0 3.1h0m0 .5h0m0 1.7h0m0 1.3h0m0 4.6h0m0 1.4h0m0 3h0m0 .9h0m0 2.4h0m0 2.8h0m0 .7h0m0 .8h0m0 .9h0m0 2.7h0m.1-80.4h0m0 42.5h0m0 12.6h0m0 3.4h0m0 1.9h0m0 .2h0m0 1h0m0 1.1h0m0 .1h0m0 7.9h0m0 2.2h0m0 8.5h0m.1-42.6h0m0 5.1h0m0 1.1h0m0 14.5h0m0 7.8h0m0 6.6h0m0 3.5h0m.1-21.8h0m0 5.5h0m0 6.8h0m0 .5h0m0 7.2h0m0 .2h0m0 .1h0m0 3.2h0m.1-46.3h0m0 8.3h0m0 6.9h0m0 1.8h0m0 3.7h0m0 1.9h0m0 1.4h0m0 1.8h0m0 1.3h0m0 3.9h0m0 5.8h0m0 .5h0m0 .3h0m0 .8h0m0 .4h0m0 1.6h0m0 4.8h0m0 2.4h0m.1-28.7h0m0 7.2h0m0 2.8h0m0 .4h0m0 2.2h0m0 2.3h0m0 1.1h0m0 .5h0m0 3.6h0m0 1.6h0m0 .3h0m0 2.9h0m0 2.1h0m.1-34.3h0m0 5.5h0m0 5.4h0m0 1.3h0m0 3.4h0m0 9.6h0m0 .2h0m0 1.6h0m0 2.9h0m0 1.6h0m0 .5h0m0 1.1h0m0 1.1h0m.1-42h0m0 1h0m0 9.7h0m0 3.5h0m0 7.5h0m0 3.5h0m0 1.5h0m0 2.8h0m0 .6h0m0 1.8h0m0 .5h0m0 2.3h0m0 0h0m0 .9h0m0 3.1h0m.1-47.7h0m0 31.5h0m0 2.7h0m0 2.4h0m0 4.8h0m0 .2h0m0 4.8h0m0 4.3h0m0 .3h0m0 .3h0m.1-24.5h0m0 1.1h0m0 5.4h0m0 1h0m0 2.1h0m0 .3h0m0 4.4h0m0 .5h0m0 4.4h0m0 3.5h0m0 2.1h0m0 .8h0m0 2h0m.1-43h0m0 14.9h0m0 2.9h0m0 3.8h0m0 .7h0m0 1.1h0m0 .2h0m0 1.3h0m0 .1h0m0 .2h0m0 3.8h0m0 .4h0m0 .1h0m0 2.6h0m0 .4h0m0 1.3h0m0 1.1h0m0 .2h0m0 2.3h0m0 1h0m.1-22.4h0m0 1.3h0m0 2.9h0m0 2.6h0m0 5.5h0m0 .1h0m0 4.6h0m0 1.3h0m0 1.5h0m0 1.2h0m0 0h0m0 1.6h0m0 .4h0m.1-42h0m0 3.9h0m0 2.1h0m0 17.5h0m0 1.2h0m0 .4h0m0 6.2h0m0 3h0m0 1.1h0m0 2.2h0m0 3.4h0m0 2h0m0 .9h0m.1-49.4h0m0 27.7h0m0 4.9h0m0 2.5h0m0 4.6h0m0 .2h0m0 .7h0m0 3.8h0m0 1.2h0m.1-70.9h0m0 5.4h0m0 23.4h0m0 12.8h0m0 3.4h0m0 2h0m0 1.6h0m0 2h0m0 3.4h0m0 1.5h0m0 1.1h0m0 1.9h0m0 .7h0m0 12.4h0m0 5h0m.1-54.4h0m0 12.4h0m0 7.2h0m0 7.4h0m0 2h0m0 1.2h0m0 1.8h0m0 4.4h0m0 .9h0m0 6.1h0m0 5.4h0m0 2.6h0m.1-38.1h0m0 6.4h0m0 3h0m0 .7h0m0 .5h0m0 5.7h0m0 .8h0m0 8h0m0 1.9h0m0 1.4h0m0 1.7h0m0 .9h0m0 2h0m0 2.1h0m0 .9h0m0 2.7h0m.1-21.9h0m0 5.2h0m0 2.5h0m0 .4h0m0 .5h0m0 1.7h0m0 .8h0m0 .1h0m0 4.4h0m0 2.1h0m0 1.7h0m0 2h0m.1-45.8h0m0 21h0m0 .9h0m0 5.4h0m0 1.2h0m0 3.7h0m0 6.5h0m0 2h0m0 .9h0m0 .7h0m0 .9h0m0 .2h0m0 1.3h0m0 1.7h0m.1-55.6h0m0 16.2h0m0 .6h0m0 12.6h0m0 2.5h0m0 1.6h0m0 1.3h0m0 3.5h0m0 .3h0m0 5h0m0 .5h0m0 3.8h0m0 1.3h0m0 1h0m0 .4h0m0 1h0m0 1.5h0m0 .4h0m0 .5h0m0 1.5h0m.1-45.6h0m0 6.2h0m0 18.2h0m0 1.9h0m0 4.8h0m0 .4h0m0 1.2h0m0 2.9h0m0 2.8h0m0 3h0m0 .5h0m0 .5h0m.1-60.5h0m0 34.4h0m0 4.2h0m0 2.7h0m0 12.2h0m0 .9h0m0 2.5h0m0 1.5h0m0 3.3h0m.1-41.1h0m0 16h0m0 5.8h0m0 4.2h0m0 .9h0m0 3.7h0m0 2.2h0m0 2h0m0 .2h0m0 2.2h0m0 .4h0m0 3.9h0m0 .6h0m.1-34.8h0m0 1.2h0m0 .2h0m0 .5h0m0 7.1h0m0 .3h0m0 5.1h0m0 .7h0m0 5.8h0m0 0h0m0 2.5h0m0 2.1h0m0 .5h0m0 2.8h0m0 1.6h0m0 1.1h0m0 1.4h0m0 1.1h0m0 1.2h0m.1-38.8h0m0 15.7h0m0 1.2h0m0 2h0m0 2.7h0m0 .6h0m0 1.1h0m0 2.8h0m0 2.4h0m0 6.7h0m0 1.8h0m0 .6h0m0 2.4h0m0 2h0m.1-48.1h0m0 13.7h0m0 2.2h0m0 5.8h0m0 0h0m0 .9h0m0 .7h0m0 1.1h0m0 .7h0m0 .3h0m0 1.2h0m0 2.3h0m0 3.6h0m0 2.3h0m0 .2h0m0 1.9h0m0 1.5h0m0 .6h0m.1-40.5h0m0 4.7h0m0 2.4h0m0 19.2h0m0 .5h0m0 1.7h0m0 1.1h0m0 5.3h0m0 5.7h0m0 2.4h0m.1-42.7h0m0 25h0m0 3.7h0m0 .7h0m0 2.6h0m0 1.5h0m0 1.2h0m0 2.1h0m0 2.2h0m0 1.9h0m0 1.2h0m0 .7h0m0 .1h0m0 .3h0m0 .9h0m0 .6h0m0 4.3h0m.1-38h0m0 .9h0m0 9.2h0m0 8.2h0m0 2.5h0m0 1.7h0m0 1.1h0m0 2h0m0 1.4h0m0 1.1h0m0 3h0m0 1h0m0 2.5h0m0 .5h0m.1-64.1h0m0 2.5h0m0 28.1h0m0 5.9h0m0 .6h0m0 9h0m0 .5h0m0 .3h0m0 5.7h0m0 .3h0m0 3.4h0m0 1h0m0 .7h0m0 1.5h0m0 1.9h0m0 1.1h0m.1-24.5h0m0 7.4h0m0 6.2h0m0 9.7h0m0 1.8h0m0 0h0m.1-35.5h0m0 17.4h0m0 1.3h0m0 .4h0m0 .3h0m0 4h0m0 .2h0m0 2.5h0m0 2.6h0m0 3.4h0m0 2h0m0 1.3h0m0 .5h0m0 3.9h0m.1-55.8h0m0 19.5h0m0 15.1h0m0 .2h0m0 2.9h0m0 .4h0m0 4.2h0m0 1h0m0 2h0m0 .7h0m0 .4h0m0 2.7h0m.1-19.8h0m0 5.3h0m0 .7h0m0 .5h0m0 4.8h0m0 1.1h0m0 .5h0m0 2.1h0m0 .6h0m0 .1h0m0 1.1h0m0 .4h0m0 .7h0m0 3.8h0m0 .9h0m.1-15.2h0m0 1.3h0m0 .4h0m0 .1h0m0 .4h0m0 .7h0m0 1.3h0m0 1.6h0m0 .2h0m0 2.9h0m0 .8h0m0 .3h0m0 2.5h0m.1-66.8h0m0 1h0m0 35.4h0m0 11.3h0m0 5.9h0m0 .3h0m0 2.4h0m0 1.7h0m0 .4h0m0 5.5h0m0 .4h0m0 2.9h0m0 .2h0m0 .1h0m0 4.2h0m.1-38.3h0m0 1.9h0m0 15h0m0 3.2h0m0 .4h0m0 1.3h0m0 .3h0m0 .1h0m0 3.5h0m0 .5h0m0 4.2h0m0 5.6h0m.1-38.5h0m0 7.4h0m0 3.9h0m0 1.2h0m0 7.5h0m0 3.6h0m0 5.9h0m0 6.5h0m0 .1h0m0 2.5h0m.1-72.3h0m0 38.9h0m0 7.6h0m0 3.5h0m0 1.1h0m0 .8h0m0 2.8h0m0 .6h0m0 .3h0m0 11.8h0m0 .4h0m0 2.6h0m0 1h0m0 .3h0m.1-43.7h0m0 8.1h0m0 3.4h0m0 7.3h0m0 4.4h0m0 5.8h0m0 1.6h0m0 1.7h0m0 2.9h0m0 5h0m.1-55.4h0m0 24.1h0m0 14.1h0m0 1.4h0m0 1h0m0 5.5h0m0 1.7h0m0 1.4h0m0 1.7h0m0 1.8h0m0 4.6h0m.1-22.4h0m0 4.5h0m0 9.2h0m0 3.7h0m0 1.6h0m0 2.4h0m0 .7h0m0 .6h0m0 1.2h0m.1-28.5h0m0 1.4h0m0 5.3h0m0 1.7h0m0 .6h0m0 3.4h0m0 .2h0m0 1.4h0m0 2.8h0m0 .1h0m0 4.8h0m0 1h0m0 .6h0m0 1.6h0m0 1.4h0m0 .8h0m.1-24.1h0m0 4.4h0m0 4.8h0m0 1h0m0 .1h0m0 .8h0m0 2h0m0 0h0m0 1.4h0m0 3.2h0m0 1.2h0m0 .4h0m0 1.3h0m.1-22.7h0m0 2.6h0m0 .6h0m0 2.9h0m0 6.1h0m0 2.5h0m0 .9h0m0 .1h0m0 1.1h0m0 2h0m0 2.2h0m0 4.7h0m.1-43.5h0m0 24h0m0 7.9h0m0 4.7h0m0 .7h0m0 4.7h0m0 1.9h0m0 1.7h0m.1-79.3h0m0 13.5h0m0 17.3h0m0 12h0m0 1.5h0m0 8.8h0m0 3.2h0m0 3h0m0 4.2h0m0 3.3h0m0 1.7h0m0 .5h0m0 5.2h0m0 0h0m0 1.3h0m0 .7h0m.1-46.9h0m0 13.9h0m0 3.6h0m0 7h0m0 3.1h0m0 9.4h0m0 1.4h0m0 2.4h0m0 4.6h0m0 .4h0m0 1.5h0m.1-52.5h0m0 29.2h0m0 8h0m0 4.1h0m0 .5h0m0 4h0m0 2.4h0m0 1.3h0m0 .2h0m0 3.3h0m.1-31.6h0m0 4.3h0m0 8.9h0m0 .5h0m0 1h0m0 2.9h0m0 2.6h0m0 .4h0m0 .5h0m0 .7h0m0 .8h0m0 .7h0m0 3.3h0m0 .9h0m0 .6h0m0 1h0m0 2.2h0m0 2.3h0m0 1.3h0m0 .9h0m.1-61.9h0m0 13.6h0m0 3.6h0m0 6.4h0m0 6h0m0 .1h0m0 9.1h0m0 2.5h0m0 .7h0m0 3.6h0m0 5.7h0m0 .8h0m0 1.5h0m0 .6h0m0 .7h0m0 1.8h0m0 .5h0m0 1.4h0m.1-48.6h0m0 5.1h0m0 5.3h0m0 12.6h0m0 3.8h0m0 2h0m0 1.1h0m0 .3h0m0 .2h0m0 4h0m0 9.7h0m0 .2h0m0 2.9h0m0 .7h0m0 4h0m.1-44.2h0m0 11.8h0m0 1.4h0m0 10.9h0m0 3.1h0m0 .3h0m0 3.6h0m0 5.2h0m0 .7h0m0 3.2h0m.1-53.2h0m0 16.4h0m0 11.6h0m0 5.2h0m0 4.1h0m0 3.8h0m0 3.5h0m0 1.5h0m0 3.5h0m0 3.6h0m0 1.9h0m0 .4h0m.1-51.9h0m0 32.2h0m0 1h0m0 9.7h0m0 1.8h0m0 .6h0m0 3.4h0m.1-21.4h0m0 3.2h0m0 2.5h0m0 2.3h0m0 1.5h0m0 .3h0m0 3h0m0 2.1h0m0 0h0m0 6.3h0m.1-51.5h0m0 15h0m0 9.1h0m0 10.7h0m0 6h0m0 3.4h0m0 0h0m0 .4h0m0 1.9h0m0 4.4h0m0 .6h0m.1-50.5h0m0 5h0m0 16.4h0m0 7.9h0m0 5.6h0m0 4.4h0m0 1.5h0m0 4.3h0m0 3.6h0m0 1.2h0m.1-75.5h0m0 49.8h0m0 12h0m0 5.5h0m0 .3h0m0 .2h0m0 1.9h0m0 0h0m0 1.6h0m0 1.7h0m0 .4h0m0 .6h0m0 1.2h0m0 2.5h0m0 2.4h0m0 1.5h0m.1-62.3h0m0 21.9h0m0 3.1h0m0 2.5h0m0 12.5h0m0 3.2h0m0 1.5h0m0 .5h0m0 1.1h0m0 1h0m0 1.5h0m0 .4h0m0 .3h0m0 4h0m0 7.9h0m.1-38.4h0m0 2.2h0m0 12.4h0m0 4.2h0m0 1.3h0m0 .3h0m0 3.7h0m0 1.9h0m0 2h0m0 1.4h0m0 .6h0m0 1.1h0m0 2.5h0m.1-31.8h0m0 4.8h0m0 5.9h0m0 4h0m0 3.1h0m0 1.2h0m0 2.1h0m0 2.2h0m0 4.1h0m.1-16.8h0m0 5.9h0m0 .2h0m0 7.2h0m0 .6h0m0 5.3h0m0 1.2h0m.1-42.8h0m0 13.5h0m0 15h0m0 3.8h0m0 1.8h0m0 4.2h0m0 .7h0m0 1.3h0m0 2h0m0 7.5h0m.1-64.3h0m0 4.5h0m0 4.3h0m0 12.5h0m0 11.8h0m0 4.1h0m0 3.3h0m0 8.2h0m0 0h0m0 7.6h0m0 .8h0m0 .1h0m.1-50h0m0 17.8h0m0 1.7h0m0 2.8h0m0 10.3h0m0 6.3h0m0 4.1h0m0 3.1h0m0 1.7h0m0 1.3h0m0 2.6h0m.1-39h0m0 16.4h0m0 6.7h0m0 6.8h0m0 2.6h0m0 3.6h0m0 .3h0m.1-47h0m0 11.5h0m0 10.2h0m0 .8h0m0 11.6h0m0 1.8h0m0 7.6h0m0 3.3h0m0 5.9h0m.1-61h0m0 .2h0m0 15.4h0m0 2.9h0m0 11.1h0m0 2.8h0m0 6.4h0m0 8.4h0m0 2.1h0m0 3.4h0m0 .2h0m0 3.9h0m.1-54.5h0m0 34.6h0m0 4.3h0m0 .9h0m0 2.1h0m0 4.2h0m0 .4h0m0 3.6h0m0 5.5h0m0 .6h0m0 .5h0m.1-53.1h0m0 24h0m0 4.7h0m0 2.3h0m0 .7h0m0 4.9h0m0 2.5h0m0 1.3h0m0 3.7h0m0 2.4h0m0 4.1h0m.1-63.8h0m0 31.4h0m0 6.1h0m0 2.8h0m0 11h0m0 2.6h0m0 7.6h0m0 1.4h0m.1-74.1h0m0 16.9h0m0 32h0m0 3.2h0m0 8.2h0m0 7.5h0m0 .3h0m0 1.5h0m0 2.5h0m0 1.8h0m.1-65h0m0 47.5h0m0 3.1h0m0 .4h0m0 3.4h0m0 9.4h0m0 7.1h0m.1-66.1h0m0 29.1h0m0 2.8h0m0 .6h0m0 5.9h0m0 6.2h0m0 1.7h0m0 1.9h0m0 2.2h0m0 2.2h0m0 4.3h0m0 1.4h0m0 1h0m0 2.8h0m.1-52.2h0m0 17.8h0m0 7.1h0m0 21.4h0m0 1.1h0m0 3.6h0m0 2.5h0m.1-23.4h0m0 2.9h0m0 .5h0m0 3.4h0m0 .7h0m.1-38.3h0m0 15.5h0m0 11.5h0m0 10.2h0m0 2h0m0 2h0m0 .7h0m0 5.4h0m0 1.3h0m0 1.4h0m0 1h0m.1-42.1h0m0 11h0m0 5.1h0m0 8.9h0m0 2.1h0m0 2.7h0m0 2.7h0m0 4.3h0m0 6.5h0m0 .4h0m.1-57.3h0m0 19h0m0 20.8h0m0 10.6h0m0 .8h0m0 3.4h0m0 .3h0m0 .5h0m0 5.7h0m.1-69.9h0m0 23.4h0m0 3.6h0m0 16.4h0m0 10.2h0m0 .6h0m.1-36.2h0m0 3.9h0m0 9h0m0 2h0m0 3h0m0 10h0m0 7h0m0 1.4h0m0 2.2h0m0 4.5h0m.1-30.4h0m0 15.9h0m0 6.4h0m0 1.3h0m.1-17.6h0m0 3h0m0 9h0m0 10.2h0m0 3.3h0m0 1.3h0m0 1.6h0m.1-37.8h0m0 2h0m0 17.6h0m0 6.3h0m0 2.7h0m0 0h0m0 3.4h0m0 7.3h0m.1-42.8h0m0 6.3h0m0 17.3h0m0 .7h0m0 6.6h0m0 5.9h0m0 3.7h0m0 4.5h0m.1-56.9h0m0 20.9h0m0 .1h0m0 14.2h0m0 .4h0m0 .6h0m0 8.1h0m0 9.3h0m0 1.7h0m.1-38.4h0m0 2.5h0m0 10.4h0m0 5.7h0m0 .7h0m0 2.5h0m0 5.2h0m0 1.3h0m0 8.6h0m0 3.3h0m.1-40.2h0m0 6.3h0m0 7.7h0m0 7.5h0m0 .6h0m0 .3h0m0 .4h0m0 1h0m0 11.4h0m0 1h0m0 1.1h0m.1-54.5h0m0 10.4h0m0 1.3h0m0 0h0m0 12.9h0m0 6.2h0m0 4.1h0m0 1.8h0m0 3.5h0m0 7.7h0m0 .3h0m0 .5h0m0 6.4h0m.1-60.4h0m0 8h0m0 19.8h0m0 1h0m0 2.7h0m0 3.1h0m0 8.6h0m0 10.2h0m.1-62.9h0m0 18.7h0m0 13h0m0 3.9h0m0 8.7h0m0 9.4h0m0 7h0m0 .6h0m0 2.1h0m0 .9h0m.1-69.6h0m0 9.1h0m0 25.9h0m0 6.3h0m0 2.8h0m0 9.7h0m0 .2h0m0 .9h0m0 22.5h0m.1-53.6h0m0 2.5h0m0 14.5h0m0 8.2h0m0 .3h0m0 3.7h0m0 .5h0m0 1h0m0 4.3h0m0 3.4h0m0 15h0m.1-76.6h0m0 54.3h0m0 4.5h0m0 4.2h0m0 .6h0m0 4.6h0m0 5.5h0m.1-26.7h0m0 24.2h0m0 2.6h0m.1-32.4h0m0 15.8h0m0 1.5h0m0 .8h0m0 3.4h0m0 5.2h0m.1-31.5h0m0 7.9h0m0 10.4h0m0 1.2h0m0 1.7h0m0 17.1h0m.1-54.5h0m0 11.3h0m0 6.9h0m0 14.3h0m0 0h0m0 1.9h0m.1-44.2h0m0 24.5h0m0 10.4h0m0 4.2h0m0 7.8h0m0 7.5h0m.1-42.3h0m0 7.2h0m0 .9h0m0 17.5h0m0 .6h0m0 1.9h0m0 18.2h0m.1-65.5h0m0 32.2h0m0 7.8h0m0 7h0m0 .8h0m0 16.9h0m.1-72h0m0 33.7h0m0 11.1h0m0 4.3h0m0 0h0m0 13.2h0m0 .3h0m0 2.6h0m0 6h0m0 2.7h0m0 3.1h0m0 6.8h0m.1-78.5h0m0 50.3h0m0 4.6h0m0 13.6h0m.1-25h0m0 7.8h0m0 10.3h0m0 4.6h0m0 2.6h0m0 1.8h0m.1-39.2h0m0 15.2h0m0 6h0m0 12.7h0m.1-44.6h0m0 16.9h0m0 3.1h0m0 2.7h0m0 7.8h0m0 2.5h0m0 15.4h0m0 6h0m.1-32.7h0m0 1.9h0m0 3.5h0m0 4.3h0m0 12.5h0m0 2.7h0m0 1.4h0m0 3.3h0m.1-47.9h0m0 1.5h0m0 2.2h0m0 41h0m0 2.2h0m.1-68h0m0 7.1h0m0 17.6h0m0 9h0m0 .1h0m0 1.2h0m0 3.7h0m0 9.3h0m0 4.7h0m0 1.1h0m0 1.4h0m0 .2h0m0 1.2h0m0 7.9h0m.1-46.2h0m0 1.2h0m0 3.5h0m0 31h0m.1-40h0m0 22.7h0m0 4.1h0m0 9h0m.1-22h0m0 2.3h0m0 7.9h0m0 1.5h0m0 3.2h0m0 4.8h0m0 1.1h0m0 1.2h0m0 2.3h0m0 6h0m0 5.5h0m0 1.7h0m0 3.5h0m.1-59h0m0 2.7h0m0 17.5h0m0 11.8h0m0 1.8h0m0 13.5h0m0 2.3h0m0 1.2h0m0 2.4h0m0 2.2h0m.1-53.9h0m0 17h0m0 2.5h0m0 13h0m0 3.9h0m0 .2h0m0 1.8h0m0 1.6h0m0 10.3h0m.1-52.2h0m0 6.2h0m0 28.2h0m0 10.5h0m0 2.6h0m0 3h0m0 2.2h0m0 4.4h0m.1-32h0m0 6.4h0m0 .4h0m0 2h0m0 3.6h0m0 17h0m0 .6h0m.1-61.4h0m0 25.8h0m0 12.4h0m0 6.8h0m0 4.3h0m0 11.2h0m.1-43.8h0m0 7.9h0m0 8.7h0m0 10.1h0m0 5.1h0m0 9.3h0m.1-5.9h0m0 2.9h0m0 .2h0m.1-21.9h0m0 1.8h0m0 2.4h0m0 12.2h0m0 .5h0m0 2.4h0m0 .4h0m0 5.3h0m0 6.5h0m0 3.1h0m0 .6h0m.1-34.3h0m0 9.4h0m0 .6h0m0 .1h0m0 2.8h0m0 2.5h0m0 .2h0m0 11.7h0m.1-51h0m0 22.8h0m0 5.1h0m0 13.7h0m0 2h0m0 7.6h0m.1-59.1h0m0 10.6h0m0 1.7h0m0 5.8h0m0 20.2h0m0 8.3h0m0 9h0m0 6.3h0m0 2.9h0m.1-56.6h0m0 8.6h0m0 16.1h0m0 1.5h0m0 12.7h0m0 4.2h0m0 .4h0m0 1.3h0m.1-44.4h0m0 3.5h0m0 13.4h0m0 7.7h0m0 .1h0m0 10.3h0m0 7.1h0m0 .6h0m0 6.9h0m0 2.7h0m.1-43.5h0m0 8.7h0m0 7.4h0m0 14.4h0m0 11.8h0m.1-50.6h0m0 5.8h0m0 10h0m0 4.5h0m0 18.9h0m0 11.5h0m.1-39.3h0m0 3.8h0m0 .5h0m0 18.5h0m0 10.7h0m0 1.5h0m0 2.7h0m0 4.1h0m.1-39.3h0m0 .6h0m0 25.8h0m0 6.6h0m0 .6h0m0 .8h0m.1-47h0m0 13.2h0m0 13.6h0m0 .3h0m0 6.5h0m0 2.4h0m.1-47.2h0m0 .4h0m0 25.8h0m0 22.5h0m0 10.9h0m0 9.6h0m.1-63.6h0m0 15h0m0 21.3h0m0 17.8h0m.1-34.9h0m0 6.5h0m0 20.2h0m0 3.6h0m0 2.8h0m0 .3h0m0 2.8h0m.1-46h0m0 16.4h0m0 21.6h0m0 .7h0m0 .3h0m0 3.7h0m.1-28h0m0 5.2h0m0 15.6h0m0 6.6h0m0 1h0m0 2.1h0m.1-54.4h0m0 19.4h0m0 18.2h0m0 12.3h0m0 .6h0m0 6.8h0m.1-47.9h0m0 25.2h0m0 11.8h0m0 5.3h0m.1-47.9h0m0 26.6h0m0 20.1h0m.1-53.2h0m0 9.4h0m0 16.8h0m0 22.9h0m0 10.2h0m0 .8h0m.2-70.7h0m0 40.4h0m0 7.5h0m0 .8h0m0 2.1h0m0 15.5h0m.1-30.2h0m0 6.5h0m.1 5.8h0m0 1h0m0 14.8h0m0 1.6h0m0 1.4h0m0 1.7h0m0 2.3h0m.1-67.7h0m0 23.2h0m0 2.3h0m0 13.5h0m0 23.5h0m0 5h0m0 3.4h0m.1-28.2h0m0 4.8h0m.1-47.6h0m0 32.1h0m0 12.1h0m0 3.2h0m0 3.1h0m0 13.2h0m.1-42h0m0 4h0m0 .4h0m0 2.6h0m0 5.1h0m0 25.9h0m0 4.2h0m.1-30.9h0m0 1.2h0m0 8.6h0m0 10h0m0 7.4h0m0 3.9h0m.1-49.3h0m0 11.9h0m0 14.2h0m0 7.8h0m0 16.7h0m.1-16.4h0m0 11.9h0m.1-21.3h0m.1-29.5h0m0 7.8h0m0 7.7h0m0 .1h0m0 3.7h0m0 16.9h0m0 20.2h0m.1-11.7h0m0 4.1h0m0 2.9h0m.1-54.5h0m0 9h0m0 28.1h0m0 6.6h0m0 6.8h0m0 8.7h0m.1-23.3h0m.1-33.1h0m0 8.9h0m0 10.4h0m0 17.9h0m.1-8h0m0 13.8h0m0 .9h0m0 1.7h0m.1-21.1h0m0 16.9h0m0 8h0m0 .2h0m0 6.7h0m.1-29.3h0m0 13h0m0 17.8h0m.1-56.6h0m0 18.6h0m0 20.5h0m0 5.2h0m.1-35.6h0m0 19.7h0m0 1h0m0 4.7h0m0 10.9h0m0 4.5h0m.1-23.1h0m.1 2.3h0m.1-20h0m0 6.1h0m0 9.6h0m0 10.9h0m0 1.1h0m0 .3h0m0 11.8h0m0 1.8h0m.1-68h0m0 20.3h0m0 3.1h0m0 39.6h0m.1-44.5h0m0 13.1h0m0 14.5h0m0 .9h0m0 11.5h0m0 7.1h0m0 5.8h0m.1-69.7h0m0 21.9h0m0 4.8h0m0 2.3h0m0 6.9h0m0 1.9h0m.1 14.2h0m0 1.4h0m0 5.8h0m0 6.4h0m0 2.3h0m.1-32.8h0m0 16h0m0 1.4h0m0 15.6h0m0 1.3h0m.1-67.4h0m0 49.1h0m0 7.8h0m0 3.5h0m.1-50h0m0 2.9h0m0 19.1h0m0 13.1h0m0 14.3h0m0 5.4h0m0 5.2h0m.1-12.4h0m0 2.3h0m.1-52.7h0m0 27.8h0m0 25.5h0m0 5.5h0m.1-62.7h0m0 15.8h0m0 21.8h0m0 20.3h0m.1-57.3h0m0 16h0m0 31.1h0m0 14.7h0m.1-25.5h0m0 8.8h0m0 4.4h0m0 4.9h0m0 1h0m0 2.6h0m0 1h0m0 .9h0m0 1.6h0m.1-52.9h0m0 15.9h0m0 8h0m0 17.4h0m0 .2h0m0 3.5h0m0 7.8h0m0 .5h0m.1-44.6h0m0 29.8h0m0 10h0m0 6.1h0m0 .3h0m.1-44.9h0m0 11.5h0m0 7.5h0m.1 4.3h0m0 24.8h0m.1-49.5h0m0 14.2h0m0 17.6h0m0 .6h0m0 .3h0m0 .8h0m0 11h0m.1-50h0m0 42.9h0m0 .8h0m0 8.8h0m.1-33.2h0m0 2.6h0m0 5.4h0m0 14h0m0 13h0m.1-61.5h0m0 5h0m0 27.2h0m0 4.9h0m0 4h0m0 3.3h0m0 .7h0m0 3.6h0m0 4.2h0m0 12.1h0m.1-69.9h0m0 66.1h0m.1-19.5h0m0 19.2h0m.1-31.8h0m0 3.6h0m0 16.8h0m0 8h0m0 3.6h0m.1-41.9h0m0 29.9h0m0 .9h0m0 2.9h0m.1-50.2h0m0 1.6h0m0 1h0m0 8.2h0m0 33.5h0m0 .1h0m.1-29.6h0m0 3.9h0m0 26.7h0m.1-55.8h0m0 43.7h0m0 6.5h0m0 7.9h0m0 4h0m.1-53.5h0m0 21.3h0m0 4.9h0m0 2.8h0m0 7.6h0m0 17.3h0m0 1.4h0m.1-46.6h0m0 .6h0m0 7.8h0m0 16.1h0m0 8.9h0m0 12.8h0m.1-37.3h0m0 30.1h0m0 11.7h0m.1-67.5h0m0 3.6h0m0 7.1h0m0 48.2h0m.1-40.7h0m0 17.9h0m0 6.1h0m0 20.6h0m.1-38.5h0m0 1.6h0m0 3h0m0 21.5h0m0 2.3h0m.1-33.1h0m0 24.2h0m0 15.1h0m0 3.8h0m.1-55.6h0m0 6.7h0m0 7.7h0m0 27.7h0m0 12.4h0m0 .1h0m.1-33.8h0m0 6.9h0m.1-25.3h0m0 14.3h0m0 5.5h0m0 20h0m0 5.9h0m0 2.7h0m.1-45.5h0m0 36.8h0m.1-56h0m0 44.9h0m0 6.7h0m0 7.8h0m0 17.3h0m.1-19.2h0m0 4.6h0m0 4.7h0m0 4.8h0m.1-67.3h0m0 46.8h0m0 17.6h0m0 5.6h0m.1-42.1h0m0 18.9h0m0 7h0m0 5.6h0m.1-61.8h0m0 31.3h0m0 5.6h0m0 19.6h0m0 .8h0m0 2.8h0m.1-39.3h0m0 10.6h0m0 6.7h0m.1-21h0m0 9.2h0m0 6.3h0m0 .5h0m0 12.9h0m0 1.8h0m.1-32.7h0m0 37h0m0 2.3h0m0 17.2h0m.1-24.9h0m0 21.7h0m.1-58.3h0m0 22h0m0 14.2h0m0 2.4h0m0 22h0m.1-67h0m0 15.8h0m0 36.5h0m.1-26.3h0m0 27.5h0m.1-33.2h0m0 .8h0m0 27.9h0m0 1.5h0m0 2.3h0m.2-6.2h0m0 24.1h0m0 4.7h0m.1-50.7h0m0 8.1h0m0 25.2h0m0 3.9h0m0 8.8h0m.1-54.4h0m0 7.3h0m0 16.3h0m0 1.8h0m0 6.2h0m0 9.2h0m.1-19.8h0m0 7.2h0m0 3.7h0m0 15.1h0m0 .1h0m0 1.7h0m.1-41h0m0 28.6h0m0 7h0m0 4.7h0m0 3.2h0m.2-43.5h0m0 32.7h0m.1-7.8h0m0 10.7h0m0 5.2h0m0 2.5h0m0 4h0m.1-53.6h0m0 33.2h0m0 2.8h0m0 1.5h0m0 1.6h0m0 6.1h0m.1-49.9h0m0 23.5h0m0 2.7h0m0 3h0m0 14.1h0m0 .5h0m.1-18.1h0m0 14.5h0m0 1h0m.1-34.1h0m0 7.6h0m0 .1h0m0 30.6h0m0 1.1h0m.1-53.7h0m0 19.5h0m0 23.9h0m0 6h0m0 .2h0m0 0h0m.1-24.9h0m0 9.1h0m0 2.4h0m0 11.4h0m0 3h0m0 3.2h0m.1-41.6h0m0 2.1h0m0 7.8h0m0 11h0m0 17.5h0m.1-46.6h0m0 16.5h0m0 35.4h0m0 3.8h0m.1-38.9h0m0 36.8h0m0 2.5h0m0 .2h0m.1-69.1h0m0 13.1h0m.1-15h0m0 65.4h0m0 3.6h0m0 4h0m.2-57h0m0 10.7h0m0 3h0m0 .6h0m0 16.7h0m0 17h0m0 1.6h0m.1-28.6h0m.1-32.4h0m0 29.1h0m0 3.5h0m0 .3h0m0 36.8h0m.1-41.1h0m0 22.1h0m0 9.7h0m.1-31.9h0m0 7.6h0m0 12.9h0m0 12.8h0m.1-34.6h0m0 12h0m0 12.9h0m0 3.4h0m.1-25h0m0 11.1h0m0 3.6h0m.1-25.1h0m0 17.5h0m0 7h0m0 .1h0m0 18.7h0m0 .1h0m.1-36h0m0 17.5h0m0 7.2h0m0 14.1h0m.1-53.2h0m0 27.5h0m0 19.2h0m0 3.3h0m0 4h0m.1-31.9h0m0 12.4h0m0 8.1h0m0 7h0m.1-39.2h0m0 .7h0m0 5.2h0m0 11.3h0m0 18.3h0m.1-4.1h0m0 3.5h0m0 2.7h0m0 4.2h0m0 1.1h0m.1-57.4h0m0 16.2h0m.1-3.1h0m0 30.6h0m0 1.4h0m0 2.8h0m.1-17.7h0m0 1.2h0m.1 .7h0m.1-.1h0m0 15.8h0m0 9.9h0m.1-26.9h0m0 14.2h0m.1-22h0m0 16.1h0m0 10.4h0m0 14.1h0m.1-61.8h0m0 6.1h0m0 .8h0m0 36.2h0m.1-18.3h0m.1-20.2h0m0 2.2h0m0 22.7h0m0 18.1h0m0 .7h0m.1-17h0m0 1.8h0m0 7h0m0 4.8h0m.1-20.2h0m0 16.4h0m0 6.1h0m.1-48.9h0m0 23.7h0m0 23.1h0m0 .4h0m0 1.9h0m0 6.5h0m.1-60.5h0m0 38.1h0m0 36.5h0m.1-74.5h0m0 9.7h0m0 13h0m0 10.4h0m0 11.3h0m0 9.6h0m.1-45.4h0m0 5.2h0m0 40.2h0m.1-49h0m0 47.1h0m0 9.3h0m.1-47.2h0m0 19h0m0 16.8h0m0 11.4h0m.2-27.2h0m0 20.6h0m0 6.3h0m.1-30.7h0m0 6h0m0 12.7h0m0 14.6h0m.1-39.6h0m.1 9.9h0m0 18h0m0 21h0m.1-60.8h0m0 27.2h0m0 9.2h0m0 2h0m0 2.4h0m0 8.2h0m.1-42.4h0m0 18.6h0m0 2.2h0m0 6.8h0m0 6.5h0m0 3.4h0m0 1.3h0m.1-48.1h0m0 5.4h0m0 12.1h0m0 8.1h0m.1-32.9h0m0 2.6h0m0 2.4h0m0 21.5h0m0 5.6h0m0 5.1h0m0 3.9h0m0 11.8h0m0 4.3h0m0 2.6h0m.1-39.8h0m0 4.1h0m0 19.3h0m0 9.2h0m0 6.7h0m.1-12.6h0m0 3.4h0m.1-62.5h0m.1 36.9h0m0 9.4h0m0 0h0m0 1h0m0 3.1h0m0 3.4h0m0 2.4h0m0 10.4h0m0 8.6h0m.1-59.4h0m0 10.1h0m0 40.1h0m0 1.9h0m0 3.9h0m.1-51.6h0m0 29.6h0m0 12.9h0m0 .8h0m0 4.3h0m.1-17.1h0m0 1.5h0m0 18h0m0 4h0m.1-62.4h0m0 23.8h0m0 5.1h0m0 .2h0m0 1.8h0m0 32.2h0m.1-32.1h0m0 14.7h0m0 .9h0m0 2.4h0m0 7.8h0m.2-18.3h0m0 7h0m0 5.7h0m0 1.7h0m.1-59.7h0m0 3.9h0m0 43.4h0m0 16.6h0m.1-52.9h0m0 5.5h0m0 27.1h0m0 2.5h0m.1-9.5h0m0 2.5h0m0 21.5h0m.1-.5h0m.1-54.3h0m0 .9h0m0 36.4h0m0 3.3h0m0 5.6h0m0 11.8h0m0 1.2h0m0 .3h0m.1-56.9h0m0 25.9h0m0 30.9h0m.1-53.5h0m0 48h0m.1-56.8h0m0 20.8h0m.1 14.3h0m0 24.9h0m0 2.4h0m.1-16.6h0m0 7.3h0m.1-32.8h0m0 3.5h0m0 13.2h0m0 22h0m.1-48.2h0m0 15.2h0m0 4.3h0m0 31.5h0m.1-61h0m0 3.1h0m0 31.4h0m0 14.2h0m0 1.3h0m0 1.4h0m.1-48.5h0m.1 40.4h0m.1 2.6h0m.1-54.7h0m0 48.7h0m.1-31.1h0m0 18.9h0m0 20h0m0 3.9h0m0 17.4h0m.1-20.4h0m0 .7h0m0 8.8h0m0 2.8h0m.1-22h0m0 28.6h0m.1-37.7h0m0 21.1h0m0 5.1h0m0 4.2h0m.1-28.8h0m0 19h0m.1-3.2h0m0 8.1h0m0 2.1h0m0 18.6h0m.1-27.9h0m0 9h0m.1-31.4h0m0 10.5h0m0 13.3h0m0 10.2h0m.1-26.5h0m0 10.7h0m.1-38.6h0m0 33.6h0m0 15.2h0m.1-15.4h0m0 9.3h0m.1-38h0m0 42h0m.1-57.7h0m0 11.9h0m0 10.2h0m0 3.5h0m0 5.2h0m0 25.3h0m0 1.8h0m0 11.8h0m.1-11.3h0m.1-29.1h0m0 20.8h0m.1-28.2h0m0 11.7h0m0 3.3h0m0 5.2h0m0 10.7h0m0 10.7h0m.1-52.4h0m0 47.9h0m0 6.9h0m.1-48.8h0m0 19.2h0m0 9.6h0m0 18.2h0m.1-51.6h0m0 37.9h0m0 8h0m.1 6.2h0m.1-19.3h0m0 1h0m.1 .8h0m0 6h0m0 10.4h0m0 1h0m0 .5h0m0 16.5h0m.1-20.3h0m0 4.8h0m.1-62.4h0m0 18.9h0m.1-.8h0m0 29.5h0m0 9.5h0m.1-57.6h0m0 17.7h0m0 12.9h0m0 23.4h0m0 5h0m.1-47.2h0m0 8.5h0m.1-14.1h0m0 50.3h0m.1-22.7h0m0 22.2h0m.1-35.1h0m0 12.3h0m0 5.1h0m0 1.3h0m0 5.3h0m0 32.4h0m.1-38.4h0m0 24.2h0m.1-15.3h0m.1-14.5h0m.1-3.7h0m.2-33.8h0m0 14.1h0m0 29h0m0 1h0m0 11.1h0m0 13.7h0m.1-19h0m0 8.2h0m0 9.2h0m0 2.6h0m.2-19.1h0m0 10.6h0m0 3h0m.2-45.4h0m.1 12.3h0m0 19.4h0m.1 3.8h0m0 .9h0m0 8.4h0m.1-64.1h0m0 48.4h0m0 15.6h0m.1-62h0m.1 25h0m0 14.9h0m0 13.5h0m0 2.7h0m0 .1h0m0 9.1h0m.1-39.9h0m0 3.4h0m.1 30.3h0m.1-35.9h0m.1 7.6h0m0 11.1h0m.1 18.9h0m.1-38.6h0m.2 2.2h0m.1-21.5h0m0 28.7h0m0 26.5h0m0 3.2h0m.1-35.1h0m0 26.1h0m0 4.1h0m.1 3.3h0m.1-29.6h0m0 9.3h0m0 8.9h0m0 25.8h0m.1-38.5h0m0 18.5h0m.1 10h0m.1-49.6h0m0 13.5h0m0 7h0m.1-32.2h0m0 48h0m0 3h0m.1-44.4h0m0 35h0m0 9.9h0m0 9.7h0m0 14.7h0m.1-64.4h0m0 9h0m0 32.8h0m0 3.9h0m.2-15.4h0m0 13.2h0m.1-45.2h0m0 43.3h0m0 4.6h0m.1-43.2h0m0 16.5h0m0 24.9h0m0 3.7h0m0 .5h0m0 .6h0m0 3.5h0m.2-49.2h0m0 25h0m0 1.6h0m.2-29.4h0m0 .4h0m.1 42.8h0m0 7.3h0m.1-22.9h0m0 29.6h0m.1-56.6h0m.1 21.5h0m0 5.6h0m0 8.6h0m0 3.3h0m.1 1.2h0m.1-16.3h0m0 5.7h0m0 6.6h0m.1-40.6h0m0 50.1h0m.1-23.9h0m0 2.1h0m0 25.6h0m.1-63h0m0 20.1h0m0 26.9h0m0 8.1h0m0 .9h0m.1-12.9h0m.2-20.6h0m0 12.9h0m0 23.3h0m0 .8h0m.1-44.7h0m0 .8h0m.1 25.9h0m.1-7.8h0m0 19.6h0m0 2.1h0m0 5.9h0m0 1.4h0m.1-56.9h0m0 46.7h0m.1-36.3h0m0 17h0m0 28h0m.1-43.9h0m0 41.4h0m.1-16.9h0m0 5.7h0m.1-11.7h0m.1-28h0m0 6h0m0 50.5h0m.1-44.5h0m0 22.8h0m0 3.8h0m0 11.6h0m.1-39h0m0 19.3h0m.1-15.2h0m0 39.4h0m.1-68.2h0m0 29.2h0m0 8.9h0m.1-21.6h0m0 1.1h0m0 40.6h0m0 4h0m.1-3.3h0m.1-30.3h0m0 21h0m.1-19.2h0m.1-22.2h0m0 37.2h0m0 1.5h0m0 7.9h0m.1-47.6h0m.1 41.4h0m0 7.7h0m0 9.3h0m.1-17.7h0m0 29.4h0m.1-27.1h0m0 8.8h0m0 2h0m0 6h0m0 .5h0m0 6h0m.1-12.2h0m0 2.8h0m.1-34.3h0m0 17.9h0m.1-3.8h0m0 3.6h0m.1 10.2h0m.1-11.5h0m0 9.8h0m.1-40.5h0m.1 11.6h0m0 19.4h0m0 14.3h0m.1-4.8h0m.1-26.8h0m0 29.4h0m0 11.7h0m.1-47.2h0m0 43.5h0m.1-48.9h0m0 27.5h0m.1-4.1h0m0 21.4h0m0 2h0m.1-53.6h0m0 35.2h0m0 6.7h0m.1-5.6h0m0 21.4h0m.1-55.9h0m.1 1h0m0 3.6h0m0 2.5h0m0 41.4h0m0 4.7h0m.1-47.8h0m0 20.5h0m0 3h0m0 14h0m.1-55.4h0m.1 30.6h0m0 27h0m0 1.4h0m0 5.2h0m.1-38.7h0m0 12.2h0m0 21.2h0m.4-43.5h0m0 26.9h0m0 2.7h0m0 1.6h0m0 10.4h0m0 3.3h0m.1-29.2h0m.1-16.1h0m0 48.4h0m.1-41.1h0m0 56.7h0m.1-44.2h0m0 18.4h0m0 1.9h0m.1-50.9h0m0 40.8h0m0 9.2h0m.1-52.7h0m0 31.4h0m0 24.8h0m.1-46.8h0m0 14.3h0m0 2.8h0m0 13.4h0m0 20.1h0m.1-16h0m0 3.2h0m.1-21.9h0m0 7.6h0m.1-16.1h0m0 16.2h0m0 17.8h0m0 .3h0m.1-14.9h0m.1 24.9h0m.1-8.7h0m.1-45.9h0m0 .4h0m0 47.5h0m0 5.3h0m0 5.8h0m.1-16.5h0m.1 11.7h0m.1-33.1h0m0 16.4h0m0 4.8h0m.1 10.4h0m0 4.1h0m.1-25.8h0m0 1.1h0m.2-25.2h0m.2-4.8h0m0 19.9h0m0 23.3h0m0 6h0m.2-3.3h0m0 7.2h0m.1-24.4h0m.1 16.1h0m0 .6h0m0 4h0m.1-21.7h0m0 16.7h0m.1-3.4h0m.1-43.7h0m0 40.4h0m0 .2h0m0 13.1h0m.1-20.4h0m0 6.5h0m.1-39.9h0m0 8.2h0m0 4h0m.2 22.4h0m0 2.4h0m.1-8.2h0m0 4.3h0m0 .7h0m.1 .4h0m0 13.1h0m.1-50.2h0m0 .5h0m0 35h0m0 27.7h0m.1-41.2h0m0 5.8h0m.1 27.5h0m.1-22.3h0m.1 9.1h0m.1-15.6h0m0 17.9h0m.1-1.2h0m.1-24.2h0m.1 20.6h0m.1-44.3h0m0 35.4h0m.1 16.4h0m.1-45.9h0m.2 57.2h0m0 2.3h0m.1-9.1h0m0 1.8h0m.2-24.2h0m0 18.6h0m0 4.3h0m.1-16.2h0m0 1.9h0m.1-13.6h0m0 0h0m0 8.8h0m0 1.4h0m0 10.5h0m.1-11.8h0m0 16.8h0m.1-53.5h0m0 31.3h0m.2-20h0m0 20h0m0 15.7h0m0 2.7h0m0 2.9h0m.1-34.5h0m0 27.4h0m.1-24.1h0m.1 11.9h0m0 6.5h0m0 17.2h0m0 2.5h0m.1 1.2h0m.1-46.9h0m.1 2.4h0m0 13.6h0m0 19.5h0m.1-1h0m0 10.1h0m.1-31.2h0m0 12.3h0m0 7.7h0m.2-29.2h0m0 5.5h0m0 29h0m.1-23.8h0m0 24h0m0 11h0m.1-16.5h0m0 14.4h0m.1-12.4h0m0 6.6h0m0 1.2h0m.1-45.9h0m.1 54.2h0m.1-14.3h0m0 5.8h0m.1-15.8h0m0 10.5h0m.1-47.8h0m0 19.8h0m0 26.8h0m.1-15.5h0m0 26.3h0m.1-12.2h0m.1-49.9h0m0 38.1h0m0 22h0m.1-33h0m.1-15.5h0m0 49.3h0m.1-20.9h0m0 14.5h0m.2 3.9h0m.2-3.1h0m.1-44h0m0 31.1h0m0 8.3h0m0 9.3h0m.1-25.7h0m0 4.5h0m0 10.8h0m.1-39h0m0 5.3h0m0 25.5h0m.2 10.3h0m0 27.1h0m.1-31h0m0 7.8h0m0 1.6h0m0 2.5h0m.1-30.3h0m0 1h0m0 1.1h0m.1 3h0m0 16.5h0m0 7.4h0m.1-2.8h0m.1 1.8h0m.1-39.8h0m0 36.2h0m.1-14h0m.1-1.4h0m.2-15.9h0m0 19.7h0m0 25.4h0m.1-45.8h0m0 6.8h0m0 14.4h0m0 6.9h0m.1-36.3h0m.1 42.6h0m0 21.2h0m.2-22.3h0m0 2.3h0m.1-54.6h0m0 52.8h0m.1-26.1h0m0 21h0m.2-15.1h0m0 35.5h0m.1-40.5h0m0 16.7h0m0 1.1h0m.1-15.7h0m0 12.5h0m0 9.2h0m.1-49.3h0m0 36.7h0m0 16.5h0m.2-38.1h0m.2 16.1h0m0 16.2h0m.1-16.1h0m.1-1.2h0m.1-6.7h0m.2 3.1h0m0 16.4h0m.2 .7h0m.1-11.3h0m0 .4h0m0 5.8h0m0 22.4h0m.1-51.5h0m.2 5.1h0m.1 14.4h0m0 4h0m.1-32.9h0m.2 44.9h0m0 3.8h0m.2-8.2h0m0 9.8h0m.1-23.5h0m.1-12.3h0m0 26.7h0m.1-2.9h0m.1 6.4h0m.1-2.9h0m.1-34.5h0m0 30.7h0m.1-38.5h0m.1 19.2h0m0 23.3h0m.1 6.8h0m.2 1.2h0m.3-15.1h0m.1-9.1h0m.2 20.3h0m.1-9.1h0m.1-3.7h0m0 16.3h0m.2-13.4h0m.1-32.9h0m0 9.5h0m.2 63.6h0m.3-55.9h0m0 31h0m.2-53.9h0m.1 33h0m.1 10.1h0m.2-26.4h0m.1 19.4h0m.3-6.1h0m.1-30h0m0 10.8h0m0 24.2h0m.1-.5h0m0 6.9h0m.1-28h0m0 15.4h0m0 2.7h0m0 7h0m.5-29h0m.4 3h0m.3 8.8h0m.3-15.4h0m0 25.7h0m.1-21.5h0m0 8.4h0m.1-9.2h0m.1 58.3h0m.1-53.6h0m.3-7.2h0m.1 4.1h0m0 4.7h0m0 7.3h0m.1 19.3h0m.1-41.3h0m.2 9h0m.2 .8h0m0 3h0m.1-4.3h0m.4 20.3h0m0 21.9h0m.3-9h0m.2-19h0m0 2.4h0m.2 20.1h0m.1-20h0m.1-8.3h0m.1 21.1h0m.2 41.2h0m.4-1.6h0m.1-56.7h0m0 21.5h0m.1-21h0m.5 54.3h0m.2-71.1h0m.2 68h0m.3-40.3h0m0 47h0m.2-67.7h0m.6 2.5h0m.3 7h0m.8-22.5h0m0 72h0m1.5-.4h0m.2-59.1h0m.2-9.9h0m.3 23.6h0m0 38.2h0m.1-17.9h0m.2-23.8h0m.3-23.9h0m.1 30.2h0m0 31.4h0m.2 20.8h0m.2-4.7h0m1.2-40.8h0m.1 19.3h0m.1 21.5h0m.6-70.3h0m0 40.1h0m.2-6.7h0m.2-22h0m0 5.5h0m.8 17.9h0m.1-22h0m.7 58.5h0m.1-73.2h0m.2-1.7h0m1.2-3.3h0m.3 56.5h0m.5-33.8h0m.1 57h0m.1-75.4h0m.2 55.9h0m.9-5.5h0m.5-54.9h0" stroke="#333" stroke-width="0.9" stroke-linecap="square" fill="none" filter="url(#bl)"/>
<ellipse cx="34.9" cy="313.2" rx="2.6" ry="1.8" fill="#111"/>
<ellipse cx="43.4" cy="313.5" rx="2.8" ry="1.9" fill="#111"/>
<path d="M28 319V247H103.1V319" fill="none" stroke="#888" stroke-width="0.9"/>
<text x="106" y="305.3" font-family='"Liberation Serif", serif' font-size="11">R1</text>
<text transform="translate(10.3 301.8) rotate(-90)" font-family='"Liberation Serif", serif' font-size="11.2">Side Scatter</text>
<text x="20.4" y="339.3" font-family='"Liberation Serif", serif' font-size="11.2">Forward Scatter</text>
<path d="M140.6 276.6H166.3" stroke="#000" stroke-width="1.3"/>
<path d="M165.3 273.1L173.3 276.6L165.3 280.1z" fill="#000"/>
<path d="M316.3 277.7H341.3" stroke="#000" stroke-width="1.3"/>
<path d="M340.3 274.2L348.3 277.7L340.3 281.2z" fill="#000"/>
<rect x="196.5" y="228.2" width="114.19999999999999" height="99.0" fill="none" stroke="#2a2a2a" stroke-width="1.4"/>
<path d="M204.3 232.4V320.6H307.5V232.4H204.3" fill="none" stroke="#aaa" stroke-width="0.7"/>
<text x="200.6" y="233.7" text-anchor="middle" font-family='"Liberation Sans", sans-serif' font-size="3" fill="#999" style="stroke:none">10⁴</text>
<text x="200.6" y="255.8" text-anchor="middle" font-family='"Liberation Sans", sans-serif' font-size="3" fill="#999" style="stroke:none">10³</text>
<text x="200.6" y="277.8" text-anchor="middle" font-family='"Liberation Sans", sans-serif' font-size="3" fill="#999" style="stroke:none">10²</text>
<text x="200.6" y="299.9" text-anchor="middle" font-family='"Liberation Sans", sans-serif' font-size="3" fill="#999" style="stroke:none">10¹</text>
<text x="200.6" y="321.9" text-anchor="middle" font-family='"Liberation Sans", sans-serif' font-size="3" fill="#999" style="stroke:none">10⁰</text>
<path d="M204.3 232.4h1.2M204.3 254.5h1.2M204.3 276.5h1.2M204.3 298.6h1.2M204.3 320.6h1.2" stroke="#999" stroke-width="0.5"/>
<text x="204.8" y="324.6" text-anchor="middle" font-family='"Liberation Sans", sans-serif' font-size="3" fill="#999" style="stroke:none">10⁰</text>
<text x="230.6" y="324.6" text-anchor="middle" font-family='"Liberation Sans", sans-serif' font-size="3" fill="#999" style="stroke:none">10¹</text>
<text x="256.4" y="324.6" text-anchor="middle" font-family='"Liberation Sans", sans-serif' font-size="3" fill="#999" style="stroke:none">10²</text>
<text x="282.2" y="324.6" text-anchor="middle" font-family='"Liberation Sans", sans-serif' font-size="3" fill="#999" style="stroke:none">10³</text>
<text x="307.5" y="324.6" text-anchor="middle" font-family='"Liberation Sans", sans-serif' font-size="3" fill="#999" style="stroke:none">10⁴</text>
<path d="M204.8 320.6v-1.2M230.6 320.6v-1.2M256.4 320.6v-1.2M282.2 320.6v-1.2M307.5 320.6v-1.2" stroke="#999" stroke-width="0.5"/>
<path d="M204.8 275.8h0m0 24.3h0m0 8.2h0m.1-19.1h0m0 4.5h0m0 13h0m0 10.9h0m.1-38.6h0m0 12h0m0 7.8h0m0 11.9h0m0 6.5h0m.1-36.3h0m0 8.5h0m0 6.6h0m0 .7h0m0 5.2h0m0 2.9h0m0 .5h0m0 8.3h0m0 .6h0m.1-26h0m0 .3h0m0 11.9h0m0 2.3h0m0 15h0m.1-46.6h0m0 .2h0m0 8.4h0m0 6.1h0m0 9.4h0m0 8.9h0m0 1.1h0m0 6.2h0m.1-34.4h0m0 19.9h0m0 3.6h0m0 8.9h0m0 1.5h0m.1-32.2h0m0 21.3h0m0 7.6h0m0 1.7h0m0 9.9h0m.1-34.1h0m0 22h0m.1-29.9h0m0 7.2h0m0 8.7h0m0 4.1h0m0 1.3h0m0 2.1h0m0 4.7h0m0 4.8h0m0 8.8h0m.1-19.3h0m0 .1h0m0 2.5h0m0 11h0m0 2.2h0m.1-31.5h0m0 4h0m0 .2h0m0 11.2h0m0 .3h0m0 17.2h0m.1-38.4h0m0 12.9h0m0 .2h0m0 1.7h0m0 1.5h0m0 7.8h0m0 6.9h0m.1-37.4h0m0 18.5h0m0 1.9h0m0 7.8h0m0 1.3h0m0 4.9h0m0 .4h0m0 3.4h0m0 3.5h0m0 0h0m.1-54.3h0m0 21.7h0m0 6.9h0m0 1.8h0m0 7.3h0m0 3.4h0m0 1.4h0m.1-11h0m0 1.1h0m0 6.3h0m0 6.1h0m0 14.4h0m.1-47.2h0m0 13h0m0 11.5h0m0 0h0m0 1.9h0m0 4.8h0m0 9h0m0 4.7h0m.1-43.5h0m0 .2h0m0 .1h0m0 12.3h0m0 8h0m0 25.4h0m.1-41.8h0m0 11.7h0m0 2.9h0m0 2.2h0m0 0h0m0 6h0m0 1.6h0m0 7.7h0m0 .2h0m0 3.1h0m.1-17.2h0m0 4h0m0 5.9h0m0 14.4h0m.1-38h0m0 .4h0m0 7.8h0m0 11.6h0m0 1.6h0m0 6.1h0m0 3.9h0m0 1.4h0m0 1.8h0m0 .5h0m.1-47.8h0m0 12.9h0m0 7.6h0m0 6.9h0m0 11.8h0m0 .2h0m0 .5h0m.1-35.3h0m0 14.6h0m0 12.9h0m0 11.1h0m0 4.8h0m0 1.7h0m.1-30.1h0m0 25.9h0m0 3.2h0m.1-46.5h0m0 7.1h0m0 13.7h0m0 3.4h0m0 14.6h0m0 3.2h0m0 5.2h0m.1-23.4h0m0 8.5h0m0 8.3h0m0 .7h0m0 5.9h0m.1-16.2h0m.1-28.6h0m0 .2h0m0 2.6h0m0 2.9h0m0 9h0m0 14.1h0m0 3.4h0m0 3.1h0m0 10h0m.1-35.7h0m0 3.6h0m0 6.3h0m0 9.6h0m0 15.6h0m.1-44.1h0m0 2.4h0m0 11.7h0m0 28.8h0m.1-48.8h0m0 1.9h0m0 9.6h0m0 .2h0m0 9.9h0m0 13.8h0m0 4h0m0 9.7h0m.1-40.3h0m0 14.7h0m.1-1.8h0m0 6.5h0m0 7.7h0m0 1.7h0m0 9.1h0m.1-22h0m0 11.5h0m0 1.8h0m0 12.9h0m.1-41.9h0m0 34.7h0m.1-15.6h0m0 .5h0m0 7.8h0m0 1h0m.1-37.3h0m0 36.3h0m0 6.2h0m.1-16.4h0m0 11.4h0m0 13.3h0m.1-50.2h0m0 14.4h0m0 9.1h0m0 17.7h0m0 .7h0m.1-10.2h0m0 10.5h0m0 1.1h0m0 1h0m.1-34.3h0m0 12.8h0m0 .2h0m0 1.1h0m0 2.7h0m0 .8h0m0 23.4h0m.1-47h0m0 11.5h0m0 2.9h0m0 6.2h0m0 12.5h0m.1-25h0m0 1.1h0m0 23.3h0m0 5.5h0m0 7h0m.1-31.1h0m0 8.4h0m0 7.9h0m0 .6h0m.1-14.7h0m0 .6h0m0 7.1h0m0 .1h0m0 10.6h0m0 2.9h0m0 1h0m0 1.1h0m0 1.6h0m0 .3h0m0 1.3h0m0 3.1h0m0 .5h0m.1-41.7h0m0 1.8h0m0 15.4h0m0 7.9h0m0 1.8h0m0 3.5h0m0 .5h0m0 2h0m0 .7h0m0 2.5h0m0 3.7h0m0 .6h0m.1-40.4h0m0 17.7h0m0 2.5h0m0 2.1h0m0 6.7h0m0 4.4h0m.1-42h0m0 11.1h0m0 13h0m0 11.8h0m0 3.2h0m0 1.1h0m0 .1h0m0 2.2h0m.1-26.2h0m0 6.3h0m0 6.3h0m.1-.9h0m0 17.5h0m.1-58.4h0m0 11.1h0m0 9h0m0 4.5h0m0 .5h0m0 7.7h0m0 .5h0m0 3.2h0m0 8.6h0m0 15.9h0m0 .2h0m.1-42.2h0m0 7.9h0m0 3.1h0m0 .5h0m0 12.2h0m0 6.7h0m0 7.7h0m0 .4h0m.1-26.3h0m0 5h0m0 .7h0m0 15.1h0m0 .3h0m0 .6h0m0 1.8h0m0 7.5h0m.1-58.3h0m0 19.3h0m0 14.7h0m0 4.1h0m0 17.4h0m0 2.2h0m.1-21.2h0m0 10h0m.1-27.9h0m0 12.6h0m0 7.5h0m0 3.1h0m0 7.7h0m0 6.6h0m0 1.2h0m.1-23.8h0m0 1.4h0m0 7.2h0m0 17.5h0m.1-32.4h0m0 1.5h0m0 1.9h0m0 24.8h0m0 .9h0m.1-40.5h0m0 4.6h0m0 12.4h0m0 6.3h0m0 .8h0m0 5.2h0m0 3.1h0m0 .4h0m0 7.2h0m.1-38.5h0m0 16.5h0m0 3h0m0 1h0m0 2.4h0m0 3.1h0m0 6h0m0 2.1h0m0 3.3h0m0 0h0m.1-40.9h0m0 3.6h0m0 38.8h0m.1-36.6h0m0 9.7h0m0 1.8h0m0 1.5h0m0 4.3h0m0 6.2h0m0 2.8h0m.1-34h0m0 9.8h0m0 3.2h0m0 9.4h0m0 3.8h0m0 20.9h0m.1-45.5h0m0 9h0m0 13.2h0m0 2.9h0m0 4.7h0m.1-1.3h0m0 2.3h0m0 10.2h0m0 3.7h0m.1-43.8h0m0 .1h0m.1-7.3h0m0 11.1h0m0 15.5h0m0 12.3h0m0 4.6h0m0 1.6h0m0 3.5h0m.1-9.4h0m0 2.4h0m0 10h0m.1-55h0m0 17.3h0m0 6.7h0m0 10.3h0m.1-26.8h0m0 10h0m0 .8h0m0 3.8h0m0 19.3h0m0 5h0m.1-45.6h0m0 10.1h0m0 16.8h0m0 3.4h0m0 9.7h0m0 1.2h0m0 13h0m.1-31.1h0m0 6.1h0m0 5.5h0m0 8.5h0m0 .6h0m0 2.9h0m0 .4h0m.1-32.8h0m0 10.4h0m0 7.6h0m0 5h0m0 6.1h0m0 .2h0m0 9.7h0m.1-44.8h0m0 10.5h0m0 12.5h0m0 12h0m.1-38.4h0m0 7.5h0m0 .8h0m0 13.6h0m0 19.9h0m0 .3h0m0 7.2h0m.1-50.9h0m0 7.3h0m0 8.4h0m0 4.5h0m0 9.8h0m0 1.1h0m0 2h0m0 .6h0m0 2.5h0m0 10.4h0m0 .2h0m0 .4h0m.1-41.9h0m0 3.5h0m0 13.6h0m0 .6h0m0 13h0m0 3.6h0m0 2.6h0m0 .7h0m0 1.6h0m.1-33h0m0 12h0m0 .5h0m0 3.9h0m0 12.7h0m.1-29.3h0m0 1.1h0m0 5.1h0m0 8.1h0m0 3.5h0m0 1.6h0m0 1.2h0m.1-21.4h0m0 3.1h0m0 .2h0m0 9.9h0m0 3h0m0 4h0m0 2.5h0m0 6.8h0m0 5.3h0m0 1.5h0m.1-24.7h0m0 6.2h0m0 3h0m0 10.8h0m0 7h0m.1-33.9h0m0 6.1h0m0 9.4h0m0 1.4h0m0 4.4h0m0 .2h0m0 5.4h0m0 3h0m.1-38.7h0m0 17.5h0m0 1.6h0m0 8h0m0 2.8h0m0 10.7h0m0 3.7h0m.1-20.2h0m0 4.6h0m0 6.2h0m0 .9h0m0 2.4h0m0 1.2h0m.1-30.9h0m0 1h0m0 7.1h0m0 14.1h0m0 5h0m0 7.7h0m.1-39.8h0m0 12.6h0m0 5.4h0m0 4.1h0m0 1.4h0m0 9.2h0m0 2.5h0m.1-34.6h0m0 7h0m0 8.2h0m0 7.2h0m0 3.4h0m0 4.3h0m0 1.7h0m.1-33.8h0m0 5.8h0m0 6.1h0m0 1.6h0m0 11.8h0m0 0h0m0 8.7h0m.1-37.5h0m0 16.6h0m0 14.3h0m0 11.2h0m0 .1h0m0 1h0m.1-40.6h0m0 4.2h0m0 9.8h0m0 3.4h0m0 23.3h0m.1-26.1h0m0 9.4h0m0 15.5h0m.1-45.1h0m0 14.9h0m0 6h0m0 2.2h0m0 8.2h0m0 3.2h0m0 8.8h0m0 .1h0m0 3.5h0m.1-39.7h0m0 3.8h0m0 1.8h0m0 12.8h0m0 2.3h0m0 11.3h0m0 2.8h0m.1-32.5h0m0 4.4h0m0 13.7h0m0 5.5h0m0 1.7h0m0 6.7h0m0 3.3h0m.1-34.8h0m0 15.6h0m0 6.4h0m0 .7h0m0 .7h0m0 .4h0m0 1.7h0m0 1.8h0m0 1.1h0m0 3.3h0m.1-40.8h0m0 4.1h0m0 13.1h0m0 4.1h0m0 7.7h0m0 5.4h0m0 11.3h0m.1-20.9h0m0 .4h0m0 11.5h0m0 6.1h0m.1-38h0m0 7.9h0m0 12.8h0m0 1h0m0 .5h0m0 7.8h0m0 6.1h0m.1-18.1h0m0 5h0m0 1.4h0m0 5.7h0m0 1.4h0m.1-35.3h0m0 2.3h0m0 3.4h0m0 4.3h0m0 16.3h0m0 1.5h0m0 4.9h0m0 2.3h0m0 3h0m0 2h0m0 7.3h0m.1-34h0m0 4.1h0m0 12.5h0m.1-11.9h0m0 1.4h0m0 6.3h0m0 5.1h0m.1-13.4h0m0 11.1h0m0 5.2h0m0 6.7h0m0 5.2h0m.1-31h0m0 4.3h0m0 3.6h0m0 9h0m0 4.3h0m0 3.9h0m.1-36.4h0m0 7.8h0m0 5.3h0m0 5.6h0m0 .7h0m0 9h0m0 4.4h0m0 6.3h0m.1-37.1h0m0 4.2h0m0 9.7h0m0 1.1h0m0 .5h0m0 22.6h0m0 1.1h0m.1-46.8h0m0 14.3h0m0 16.1h0m0 4.4h0m0 3.6h0m.1-18.6h0m0 .3h0m0 5.2h0m0 2h0m0 1.6h0m0 2.1h0m0 2.4h0m0 11.7h0m0 .5h0m0 .1h0m.1-14.7h0m0 .2h0m0 4h0m0 2.3h0m0 .2h0m0 1h0m0 2.4h0m0 1.5h0m0 .7h0m0 2.7h0m.1-14.9h0m0 6.3h0m.1-32.2h0m0 20h0m0 11.5h0m0 .1h0m0 8.5h0m0 .7h0m.1-45h0m0 14.4h0m0 10.4h0m0 .5h0m0 6.4h0m0 .1h0m0 5.1h0m0 .5h0m0 5.2h0m0 4h0m.1-47.2h0m0 8.3h0m0 4.6h0m0 8.6h0m0 .9h0m0 9.8h0m0 12.7h0m.1-17.7h0m0 7.7h0m0 3.6h0m0 5.6h0m0 1.7h0m.1-32.1h0m0 1.1h0m0 24.2h0m.1-30.4h0m0 17.7h0m0 9.9h0m0 10.7h0m0 .4h0m.1-24h0m0 2.1h0m0 1.9h0m0 5.5h0m0 .8h0m0 9h0m.1-32.6h0m0 8.9h0m0 5.8h0m0 4.4h0m0 11.4h0m0 2h0m0 4.9h0m.1-39h0m0 5.9h0m0 8.2h0m0 18.8h0m0 5.9h0m.1-45h0m0 4.5h0m0 17.5h0m0 2.2h0m0 8h0m0 6.3h0m.1-20.8h0m0 8.7h0m0 2.7h0m0 1.7h0m0 3.4h0m.1-49.6h0m0 9.6h0m0 13.6h0m0 .9h0m0 7.1h0m0 2h0m0 1.7h0m0 1.5h0m0 .5h0m0 12.9h0m0 0h0m0 2.9h0m0 5.5h0m.1-26.6h0m0 6.7h0m0 15.5h0m.1-35.2h0m0 8.5h0m0 10.7h0m0 11.8h0m0 2.4h0m0 4.5h0m0 5.8h0m.1-23.9h0m0 4.8h0m.1-38.5h0m0 14.3h0m0 9.3h0m0 5.1h0m0 .3h0m0 .5h0m0 1.3h0m0 9.9h0m0 3.4h0m0 2.6h0m0 10.2h0m.1-42.7h0m0 17.3h0m0 7.2h0m0 4.5h0m.1-23.8h0m0 7.6h0m0 30.2h0m.1-54.2h0m0 19.5h0m0 14.1h0m0 1.6h0m0 5.3h0m0 .8h0m0 1.6h0m0 2h0m0 9.4h0m.1-45.9h0m0 18.4h0m0 .2h0m0 6.7h0m0 2.9h0m0 1.8h0m0 .6h0m0 1.7h0m0 4.2h0m0 2.6h0m0 2.6h0m.1-25.9h0m0 8.4h0m0 3.8h0m0 4.1h0m0 1.1h0m0 5.1h0m0 7.9h0m.1-52.9h0m0 19.9h0m0 .2h0m0 8.3h0m0 3.2h0m0 3.6h0m0 5.6h0m0 1.8h0m0 2.3h0m.1-44h0m0 29.1h0m0 14.6h0m.1-7.4h0m0 10h0m0 2.7h0m.1-29.1h0m0 10h0m0 6.4h0m0 8.8h0m0 3.5h0m.1-47.9h0m0 6.8h0m0 4.9h0m0 12.8h0m0 5.2h0m0 7.1h0m0 13h0m.1-32.3h0m0 17.2h0m0 .8h0m0 2.9h0m0 2.6h0m0 7.8h0m0 .5h0m.1-31.1h0m0 10.1h0m0 14.7h0m0 .7h0m0 3h0m0 2h0m.1-34.4h0m0 2h0m0 5.8h0m0 5.8h0m0 5.3h0m0 6.3h0m0 3.4h0m0 1.7h0m.1-39.5h0m0 7.9h0m0 10.8h0m0 .1h0m0 4.6h0m0 .8h0m0 6.8h0m0 2.8h0m0 3.9h0m0 1.8h0m0 3.6h0m.1-44.8h0m0 7.4h0m0 12.8h0m0 14.7h0m0 3.3h0m0 4.4h0m.1-43.2h0m0 6.2h0m0 22.2h0m0 1.4h0m0 10.3h0m0 1.3h0m.1-35.5h0m0 14.5h0m0 3.9h0m0 .4h0m0 22.8h0m.1-36h0m0 .4h0m0 1.1h0m0 3.8h0m0 2.1h0m0 12.7h0m.1 15.1h0m.1-36h0m0 11.5h0m0 17.6h0m0 4.5h0m.1-38.9h0m0 21.5h0m0 6.2h0m0 .2h0m0 1.7h0m0 9.4h0m.1-20.4h0m0 .6h0m0 8.8h0m0 2h0m0 12.4h0m.1-52h0m0 16.7h0m0 2.9h0m0 21.2h0m0 6.9h0m0 .3h0m0 .5h0m.1-47.4h0m0 10.8h0m0 19.8h0m0 2h0m0 .6h0m0 3.2h0m0 3.4h0m0 5.4h0m.1-33.9h0m0 10.4h0m0 11h0m0 11.7h0m.1-45.7h0m0 21.7h0m0 3.6h0m0 3.4h0m0 3h0m0 9.1h0m0 5.3h0m0 3.8h0m.1-42.3h0m0 2.2h0m0 9.7h0m0 4.6h0m0 6.1h0m0 5.5h0m0 1.2h0m0 .4h0m0 2.5h0m0 7h0m0 5.3h0m.1-40h0m0 5.9h0m0 6.1h0m0 3.8h0m0 6.3h0m0 .2h0m0 15.2h0m.1-35.6h0m0 7.8h0m0 3.2h0m.1 3.6h0m0 16.5h0m0 4.2h0m.1-19.1h0m0 5.3h0m0 1.5h0m0 1.7h0m0 9.2h0m0 5.6h0m.1-35.5h0m0 3.7h0m0 10.4h0m0 10.1h0m0 4.8h0m.1-32.4h0m0 6.8h0m0 .2h0m0 3.7h0m0 2.2h0m0 .8h0m0 5.5h0m0 1h0m0 2.1h0m.1-33.4h0m0 6.5h0m0 4.6h0m0 2.9h0m0 15.6h0m0 2.5h0m0 3.7h0m0 8.1h0m.1-31.9h0m0 20.8h0m0 4.6h0m0 0h0m0 4.2h0m0 .8h0m.1-37.9h0m0 22.6h0m0 2.3h0m0 2.5h0m0 8.1h0m0 4.9h0m0 .2h0m.1-29.6h0m0 19.1h0m0 11.1h0m.1-31.1h0m0 5.8h0m0 6.3h0m0 1.1h0m0 3.3h0m0 4.8h0m0 6.7h0m0 2.2h0m.1-20.6h0m0 .5h0m0 5.4h0m0 5.2h0m0 3.8h0m0 5.1h0m0 2.5h0m0 .5h0m.1-48.8h0m0 28h0m0 13.5h0m0 4.3h0m.1-27.7h0m0 3.6h0m0 12.7h0m0 6.4h0m0 4.8h0m0 .1h0m0 3.9h0m.1-18.6h0m0 2.5h0m0 3h0m0 .3h0m0 10.5h0m.1-35.8h0m0 9.2h0m0 .2h0m0 1.7h0m0 6.5h0m0 6.2h0m0 1.4h0m0 .5h0m0 3.5h0m0 5.1h0m0 1.7h0m0 .3h0m0 2.5h0m0 1.1h0m.1-36.1h0m0 8.1h0m0 5h0m0 4.3h0m0 3.8h0m0 8.8h0m.1-22.4h0m0 .8h0m0 5h0m0 5.2h0m0 3.2h0m0 10.8h0m.1-43h0m0 4.2h0m0 22.2h0m.1-30.4h0m0 21.4h0m0 10.2h0m0 3.3h0m0 9.1h0m.1-36.5h0m0 .7h0m0 10.2h0m0 21.7h0m0 .4h0m0 2.8h0m.1-24.6h0m0 5.2h0m0 2h0m0 4.6h0m0 11h0m0 1.7h0m.1-39.8h0m0 6.2h0m0 1.2h0m0 15.3h0m0 .1h0m0 .2h0m0 12.5h0m0 9.7h0m.1-37.3h0m0 16h0m0 16.8h0m0 1.5h0m0 1.3h0m0 1.9h0m.1-21.1h0m0 5.8h0m0 2.9h0m.1-23.1h0m0 19.3h0m0 13.1h0m0 4.9h0m.1-46.5h0m0 13.3h0m.1-3.9h0m0 1.1h0m0 13.7h0m0 14.9h0m0 7.1h0m.1-34.4h0m0 12.1h0m0 1.3h0m0 5h0m0 1.6h0m0 1.2h0m.1-9.6h0m0 7h0m0 9.9h0m0 2.5h0m.1-45.5h0m0 13.3h0m0 16h0m0 5.5h0m0 10.2h0m.1-48h0m0 14.8h0m0 3h0m0 8.6h0m0 1h0m0 4.6h0m0 11.6h0m0 3h0m.1-35.4h0m0 7.5h0m0 .9h0m0 10.7h0m0 .1h0m0 6.1h0m0 .2h0m0 10.5h0m0 .7h0m0 1.8h0m.1-38.5h0m0 .5h0m0 12.3h0m0 4h0m0 .7h0m0 3.2h0m.1 1.7h0m0 9.9h0m0 5.5h0m.1-25.4h0m0 .6h0m0 2.3h0m0 4.6h0m0 3.1h0m.1-12.8h0m0 7.2h0m0 3.8h0m0 2.4h0m0 1.1h0m0 .4h0m0 2.6h0m0 0h0m0 .2h0m0 4.8h0m0 2.9h0m0 4.1h0m0 .4h0m.1-22.9h0m0 6.7h0m0 2h0m0 12.5h0m0 .2h0m.1-39.8h0m0 .1h0m0 13.4h0m0 11.4h0m0 6.3h0m.1-22.6h0m0 15.4h0m0 2.1h0m0 2.9h0m0 7.4h0m0 4.8h0m.1-39.1h0m0 6.2h0m0 6.1h0m0 1.7h0m0 10.6h0m0 2.7h0m0 7.9h0m0 3.7h0m.1-44.9h0m0 15.8h0m0 .1h0m0 5.6h0m0 1.4h0m0 8.3h0m0 .4h0m0 4.5h0m0 1.4h0m0 1.1h0m.1-31.5h0m0 8.3h0m0 5.6h0m0 15.5h0m.1-33.9h0m0 13.9h0m0 .3h0m0 20.9h0m.1-45.2h0m0 22h0m0 6.6h0m0 8.3h0m0 7.5h0m0 4h0m0 2.2h0m0 1.3h0m.1-47.3h0m0 27.6h0m0 1.5h0m0 3.3h0m0 5.1h0m0 3h0m.1-19.3h0m0 5.9h0m0 13.8h0m0 7.8h0m.1-42h0m0 4.5h0m0 7.6h0m0 14.8h0m0 .4h0m0 4.2h0m0 1.5h0m0 4.1h0m.1-38.2h0m0 3.3h0m0 2.7h0m0 1.7h0m0 .2h0m0 8.1h0m0 5.3h0m0 4.3h0m0 8.6h0m0 4.1h0m0 4h0m.1-35.1h0m0 16.2h0m0 9h0m.1-35.6h0m0 1h0m0 11.7h0m0 12.7h0m0 5.5h0m0 8.2h0m.1-50.1h0m0 18.3h0m0 27.4h0m0 5.2h0m0 .1h0m.1-45.8h0m0 7.4h0m0 7.9h0m0 6.2h0m0 3.3h0m0 4h0m0 4.8h0m0 3.6h0m0 7.8h0m0 3.9h0m.1-36.8h0m0 4.9h0m0 .4h0m0 11.2h0m0 2.3h0m0 13.5h0m0 1.2h0m.1-36.5h0m0 8.5h0m0 4.2h0m0 9.2h0m0 1.5h0m0 5.2h0m0 2h0m0 5.6h0m0 2h0m.1-43.3h0m0 3.4h0m0 26.8h0m0 .6h0m0 5.7h0m0 1.6h0m0 7.6h0m.1-38.1h0m0 10.8h0m0 2.3h0m0 1h0m0 12h0m0 2.7h0m0 5.2h0m0 2.8h0m.1-27.3h0m0 18.9h0m.1-38.6h0m0 19.3h0m0 8.4h0m0 2.2h0m0 .1h0m0 13.5h0m0 5.7h0m.1-37.7h0m0 2h0m0 4.6h0m0 9.8h0m0 2.4h0m0 2.8h0m0 9.2h0m0 .3h0m0 5.1h0m0 1.3h0m.1-48.4h0m0 6.9h0m0 3.4h0m0 10.3h0m0 13h0m0 3h0m0 8.8h0m0 .8h0m0 2.5h0m.1-28.2h0m0 7.7h0m0 4.3h0m0 1.9h0m0 .8h0m0 .5h0m0 5.6h0m.1-21.1h0m0 16.9h0m0 5.5h0m0 3.3h0m.1-23h0m0 2.1h0m0 9.9h0m.1-35.5h0m0 11.4h0m0 1.9h0m0 6.7h0m.1-14.3h0m0 14.4h0m0 4.7h0m0 7h0m.1-28h0m0 8.2h0m0 7.6h0m0 9.7h0m0 3.9h0m0 11.4h0m.1-4.6h0m0 .5h0m0 1.3h0m.1-38.3h0m0 5.8h0m0 7.8h0m0 4.1h0m0 1.2h0m0 1.6h0m0 7.9h0m0 .1h0m0 1.5h0m0 2.4h0m0 8.5h0m.1-33.8h0m0 3.5h0m0 .5h0m0 8.7h0m0 10.2h0m0 13.3h0m.1-24.2h0m0 3.4h0m0 5.5h0m0 13.1h0m0 4.5h0m.1-27.2h0m0 7.2h0m0 0h0m0 9.6h0m.1-36.2h0m0 14.6h0m0 2.9h0m0 1.2h0m0 9.6h0m0 2.6h0m0 6.8h0m0 9.6h0m.1-53.1h0m0 4.6h0m0 13.1h0m0 2.2h0m0 5.8h0m0 12.1h0m0 7.4h0m0 5.6h0m.1-32.9h0m0 6.8h0m0 3.3h0m0 17.2h0m.1-40.5h0m0 6.9h0m0 13.2h0m0 .5h0m0 5.4h0m0 1.6h0m0 1.5h0m0 7.1h0m.1-36.9h0m0 29h0m0 .7h0m0 7.3h0m0 1.3h0m0 3.7h0m0 2.6h0m.1-41.9h0m0 11.2h0m0 1.7h0m0 3.6h0m0 15h0m0 2.7h0m0 3.6h0m0 1.9h0m.1-6.4h0m0 5h0m0 1.1h0m0 .7h0m.1-41.2h0m0 28.9h0m0 10.4h0m.1-34.1h0m0 2.7h0m0 1.8h0m0 12.1h0m0 3.6h0m0 6.9h0m0 1h0m0 4.5h0m0 3.6h0m.1-36.9h0m0 17.9h0m0 6.9h0m0 1.8h0m0 2.2h0m0 .6h0m0 3.1h0m0 2.2h0m0 5.2h0m.1-42.2h0m0 6.5h0m0 31.4h0m.1-25.4h0m0 3.5h0m0 9.7h0m0 7.7h0m.1-41.3h0m0 5.2h0m0 3.4h0m0 6.6h0m0 4h0m0 .8h0m0 17h0m0 6.4h0m.1-33.9h0m0 22.5h0m0 1.5h0m0 2.3h0m0 3.7h0m0 2.3h0m0 12.5h0m.1-38.5h0m0 9.4h0m0 3.5h0m0 1.3h0m0 4.8h0m0 2.9h0m0 3.2h0m0 9h0m.1-21.2h0m0 1.6h0m0 8.7h0m0 5.2h0m.1-28.9h0m0 3.6h0m0 21h0m0 13.3h0m.1-41.8h0m0 2.9h0m0 7.5h0m0 1.2h0m0 2.6h0m0 3.4h0m0 5.3h0m0 .8h0m0 3.3h0m0 .5h0m0 9.9h0m0 2.6h0m.1-33.7h0m0 4.5h0m0 1.2h0m0 7.9h0m0 4.9h0m0 1.1h0m0 .2h0m.1-14.9h0m0 4h0m0 .1h0m0 13.3h0m0 3.8h0m0 3.6h0m.1-36.6h0m0 14.1h0m0 11.9h0m0 2.7h0m0 5.1h0m0 7.1h0m.1-49.6h0m0 3h0m0 4.1h0m0 13.1h0m0 23.3h0m0 0h0m0 2.6h0m0 .3h0m.1-31h0m0 14.7h0m0 .9h0m0 8.5h0m0 2.7h0m0 .6h0m0 .5h0m0 7.1h0m0 2h0m.1-46.5h0m0 13h0m0 1.3h0m0 22.7h0m0 4.3h0m0 4.6h0m.1-31.2h0m0 2.9h0m0 11.6h0m0 5.1h0m0 1.3h0m0 1.6h0m0 3.7h0m.1-32.6h0m0 8.8h0m0 10.8h0m0 1.2h0m.1-29.8h0m0 4h0m0 6.3h0m0 12h0m0 1h0m0 3.9h0m0 8.3h0m0 3.7h0m0 1.6h0m0 1.7h0m0 3.2h0m.1-29.7h0m0 .2h0m0 4.4h0m0 11.6h0m0 1.8h0m0 1.4h0m0 .1h0m0 1.6h0m.1-23.2h0m0 30.6h0m0 1.6h0m.1-47.6h0m0 21h0m0 .3h0m0 2.6h0m0 15.4h0m.1-48h0m0 28.4h0m0 .2h0m0 .7h0m0 .2h0m0 1.1h0m0 .7h0m0 .6h0m0 7.9h0m0 3.4h0m.1-26.2h0m0 17h0m0 1.6h0m0 11.2h0m.1-26.1h0m0 8.2h0m0 7.9h0m0 6h0m0 5.4h0m.1-35.5h0m0 2.5h0m0 12.1h0m0 25h0m.1-28.4h0m0 3.1h0m0 1.8h0m0 28h0m.1-47.1h0m0 25.8h0m0 .3h0m0 16.1h0m.1-36.3h0m0 6.2h0m0 9.4h0m0 3.8h0m0 1.4h0m0 3h0m0 1.9h0m0 2.8h0m0 1h0m0 1.7h0m0 .9h0m.1-34h0m0 29h0m0 10.1h0m.1-49.3h0m.1 7.2h0m0 19.9h0m0 8.1h0m0 12.9h0m.1-20.1h0m0 .5h0m0 .1h0m0 14.8h0m0 4.8h0m0 .3h0m.1-17.4h0m0 4.3h0m0 1.3h0m0 2.8h0m0 .6h0m0 7.7h0m0 3.8h0m0 1.2h0m.1-49.4h0m0 1.1h0m0 30.4h0m0 15.9h0m.1-33h0m0 .7h0m0 11h0m0 7h0m0 5.3h0m0 7.7h0m.1-36.4h0m0 2.7h0m0 15.4h0m0 8.4h0m0 .7h0m0 1.3h0m0 .9h0m0 1.3h0m0 .3h0m0 1.1h0m0 1.7h0m0 2h0m0 4.9h0m.1-36.1h0m0 9.6h0m0 13.9h0m0 1.2h0m.1-20.3h0m0 5.3h0m0 5.8h0m0 4.1h0m0 .9h0m.1-17.3h0m0 26.1h0m0 1.7h0m0 4.8h0m.1-43.4h0m0 2.6h0m0 4.9h0m0 11h0m0 14.7h0m0 2.4h0m0 .3h0m0 4.8h0m.1-19.7h0m0 5.5h0m0 5.5h0m0 3.5h0m.1-19.2h0m0 2.5h0m0 10.3h0m0 3.2h0m.1-24.7h0m0 6.6h0m0 .8h0m0 2.9h0m0 1.1h0m0 10.8h0m0 6.3h0m0 1.7h0m.1-37.3h0m0 .1h0m0 4.2h0m0 8.9h0m0 5.9h0m0 .6h0m0 5.5h0m0 1.6h0m0 4.7h0m0 7.4h0m.1-40.4h0m0 8.6h0m0 3.2h0m0 5.3h0m0 12.5h0m0 .5h0m0 .7h0m0 4.5h0m0 1.8h0m0 .5h0m0 1.4h0m.1-45.2h0m0 18.2h0m0 10.9h0m0 3.1h0m0 3.3h0m0 6.7h0m0 .2h0m.1-29.2h0m0 14h0m0 .1h0m0 9.6h0m.1-30.2h0m0 6.7h0m0 3.3h0m0 8.8h0m0 4.8h0m0 7.7h0m0 1.1h0m0 5.3h0m0 2.2h0m.1-22.7h0m0 .8h0m0 1.4h0m0 2.6h0m0 7.4h0m0 1.6h0m0 1.4h0m0 3.2h0m0 1.3h0m0 .4h0m0 .1h0m0 6.1h0m.1-32.5h0m0 .6h0m0 12.6h0m0 10.6h0m.1-12.7h0m0 5.3h0m0 1.2h0m0 4.2h0m0 1.3h0m.1-24.8h0m0 2h0m0 4.1h0m0 1.9h0m0 .8h0m0 .4h0m0 13.6h0m0 2.1h0m.1-29.3h0m0 .8h0m0 2.8h0m0 14h0m0 .9h0m0 7h0m0 7.1h0m.1-16.6h0m0 14.4h0m.1-47h0m0 2.3h0m0 7h0m0 1.7h0m0 3.2h0m0 .6h0m0 1.8h0m0 9.8h0m0 3h0m0 15.4h0m0 2.7h0m0 1.6h0m0 .9h0m.1-44.1h0m0 15.2h0m0 16.2h0m0 10.2h0m0 1.2h0m0 2h0m0 1.9h0m0 1.6h0m.1-49.6h0m0 9.7h0m0 .3h0m0 8.3h0m0 18.1h0m.1-37h0m0 11.2h0m0 15.4h0m0 3.2h0m0 2.6h0m0 4.4h0m0 1.7h0m0 2.7h0m0 6.1h0m0 .4h0m.1-36.7h0m0 .8h0m0 9.2h0m0 10h0m0 4.7h0m0 1.6h0m0 1.3h0m0 8.8h0m.1-41.6h0m0 6h0m0 11.3h0m0 2.5h0m0 5.8h0m0 2.2h0m0 5.1h0m.1-30.6h0m0 18.8h0m0 12.5h0m0 1.1h0m.1-30.7h0m0 4.7h0m0 7.4h0m0 23.6h0m0 5.4h0m.1-46.7h0m0 2.8h0m0 4.8h0m0 21.9h0m0 1.7h0m0 3.6h0m0 5h0m0 5.6h0m.1-18.7h0m0 8.4h0m0 3.6h0m0 5.6h0m.1-40.6h0m0 6.3h0m0 6.4h0m0 1.8h0m0 2h0m0 2.1h0m0 4.1h0m0 2.8h0m0 8.6h0m0 7.1h0m.1-44.1h0m0 19.4h0m0 5.1h0m0 15.3h0m.1-38.8h0m0 4.7h0m0 19h0m0 9h0m0 1.2h0m.1-17.8h0m0 7h0m0 2.9h0m0 3h0m0 5.6h0m0 6.2h0m0 2.7h0m0 .8h0m.1-19.7h0m0 .9h0m.1-8.1h0m0 .1h0m0 4.2h0m0 5.2h0m0 2.3h0m0 5.9h0m0 9.8h0m.1-40.3h0m0 20.8h0m0 5.2h0m0 11.8h0m.1-41.9h0m0 29.3h0m0 7.7h0m.1-6.5h0m0 5.7h0m.1-35.4h0m0 5.7h0m0 30.6h0m.1-38.2h0m0 9.5h0m0 2h0m0 5.1h0m0 .9h0m0 .8h0m0 3h0m0 10.4h0m0 1.4h0m0 4.8h0m.1-17.3h0m0 9.1h0m0 6.7h0m.1-24.8h0m0 7.7h0m0 4.7h0m0 3.4h0m0 1.8h0m0 .1h0m0 .1h0m0 .4h0m0 5h0m0 1.5h0m0 .1h0m0 2.1h0m.1-9.3h0m0 1h0m0 4h0m0 .4h0m0 3.8h0m0 3.2h0m.1-48.7h0m0 24.8h0m0 6.3h0m0 12h0m0 3.3h0m0 2.8h0m.1-40.6h0m0 4.7h0m0 3.3h0m0 1.5h0m0 13.2h0m0 3.2h0m0 3.1h0m0 5.3h0m0 10.9h0m.1-48.2h0m0 .6h0m0 26.6h0m0 10.8h0m0 3.7h0m.1-15.1h0m0 8.8h0m0 1.2h0m0 3.2h0m0 .4h0m0 6.8h0m.1-29.4h0m0 6h0m0 2h0m0 8h0m0 6.8h0m0 3.1h0m0 1.4h0m.1-28.6h0m0 23.2h0m0 2h0m0 .7h0m.1-11.9h0m0 2.9h0m0 .5h0m0 2.3h0m0 4h0m0 .6h0m0 4.2h0m.1-25.9h0m0 4.9h0m0 15.7h0m0 4.1h0m0 2.3h0m.1-51.9h0m0 14.5h0m0 10.8h0m0 2.8h0m0 .2h0m0 5.3h0m0 5.5h0m0 9.9h0m0 3.2h0m.1-44.5h0m0 7.9h0m0 10.5h0m0 1.2h0m0 1.5h0m0 1.5h0m0 1.9h0m0 4.8h0m0 1h0m0 .8h0m0 2.1h0m0 2.1h0m0 7.7h0m.1-24.9h0m0 1.2h0m0 .2h0m0 10.6h0m0 7.3h0m.1-40.3h0m0 16.2h0m0 23.8h0m0 6.9h0m.1-53.9h0m0 6.2h0m0 17h0m0 25.1h0m.1-36.2h0m0 11.6h0m0 1.9h0m0 15h0m0 2h0m0 .2h0m0 2.2h0m0 3.9h0m.1-46.3h0m0 12.5h0m0 19.8h0m0 3.7h0m.1-16.5h0m0 7.9h0m0 9.5h0m0 8.7h0m.1-28h0m0 13h0m0 3.7h0m0 1.6h0m0 7.5h0m.1-44.1h0m0 18.7h0m0 10.3h0m.1-11.9h0m0 5.1h0m0 18.2h0m0 .3h0m.1-28.5h0m0 3.2h0m0 15.5h0m0 4.3h0m0 6.4h0m0 11.1h0m.1-30.2h0m0 5.3h0m0 5.6h0m0 3h0m0 7h0m0 1.4h0m0 1.8h0m0 1.2h0m.1-46.4h0m0 28.4h0m0 3.1h0m0 6.9h0m0 0h0m0 8.9h0m0 2.6h0m0 1.4h0m.1-4.9h0m.1-46.7h0m0 20.3h0m0 24.3h0m0 2.7h0m0 1h0m.1-31.9h0m0 4.6h0m0 5.1h0m0 2h0m0 1.9h0m0 4.8h0m0 .6h0m0 6.2h0m0 3h0m0 2.8h0m.1-22.2h0m0 4.7h0m0 6.4h0m0 5h0m0 .4h0m.1-42.5h0m0 31.7h0m0 1.5h0m0 12.7h0m0 1.8h0m0 .4h0m0 1h0m0 3.4h0m0 1.5h0m.1-42.5h0m0 2.6h0m0 4.9h0m0 5.8h0m0 15.4h0m0 2.5h0m0 5.8h0m.1-29.6h0m0 1.2h0m0 .8h0m0 3.2h0m0 2.4h0m0 14h0m0 2.2h0m0 0h0m0 4.7h0m0 .7h0m0 3.1h0m0 1.7h0m.1-50h0m0 6.2h0m0 16.4h0m0 6.9h0m0 21.2h0m.1-51h0m0 14.9h0m0 15.8h0m0 1.5h0m0 6.6h0m0 .6h0m.1-8.9h0m0 2.5h0m0 1.2h0m0 .1h0m0 9.5h0m0 2.3h0m0 .2h0m0 1.7h0m.1-48.2h0m0 15.5h0m0 5.5h0m0 1.5h0m0 7.5h0m0 3h0m0 3.9h0m0 .8h0m0 1.4h0m0 1.6h0m0 1.3h0m.1-37.2h0m0 7.6h0m0 10.3h0m0 .7h0m0 1.4h0m0 .2h0m0 10.9h0m0 4.3h0m.1-21h0m0 13.9h0m0 1.9h0m0 1.5h0m0 .1h0m.1-20.3h0m0 12.3h0m0 1.3h0m0 .7h0m0 0h0m0 3.5h0m0 6h0m0 .4h0m0 9.3h0m.1-47.5h0m0 5.7h0m0 21.4h0m0 .5h0m0 .9h0m0 5h0m0 2.1h0m0 4.8h0m0 3.6h0m.1-39.6h0m0 6.6h0m0 3.7h0m0 3.8h0m0 12.4h0m0 2.3h0m0 14.3h0m.1-52h0m0 11.2h0m0 .7h0m0 14.1h0m0 4.5h0m0 7.5h0m0 10.7h0m0 .6h0m0 .7h0m.1-22.5h0m0 .8h0m0 4.3h0m0 4.7h0m0 1h0m0 6.8h0m0 3.4h0m0 2.5h0m.1-43.3h0m0 2h0m0 11.4h0m0 2.7h0m0 2h0m0 6.5h0m0 3.5h0m0 1.6h0m0 3.7h0m0 2.8h0m.1-30.1h0m0 .5h0m0 1.6h0m0 18.5h0m0 5.9h0m0 2.4h0m.1-29.5h0m0 4.6h0m0 7.8h0m0 7.3h0m0 1.7h0m0 13.1h0m0 6.2h0m.1-51h0m0 22.9h0m0 14.6h0m0 1.7h0m0 2.7h0m0 .7h0m0 4.5h0m.1-42.8h0m0 7.2h0m0 6.2h0m0 24.9h0m0 7.2h0m.1-44.5h0m0 5.5h0m0 30.2h0m0 2.9h0m0 2.4h0m0 .7h0m.1-46.9h0m0 8.6h0m0 1.8h0m0 7.3h0m0 1.1h0m0 29.1h0m.1-50.6h0m0 38.1h0m0 3.6h0m0 1.4h0m0 3.7h0m.1-17.8h0m0 2h0m0 3.2h0m0 8.5h0m.1-40h0m0 24.6h0m0 9.1h0m0 7.8h0m0 2.3h0m.1-30.4h0m0 2.8h0m0 11.5h0m0 9.3h0m0 8.4h0m.1-26.2h0m0 16.9h0m0 1.1h0m0 9.8h0m.2-38.9h0m0 25.6h0m0 2.3h0m0 1.6h0m0 12.4h0m.1-34.2h0m0 .5h0m0 22.4h0m0 7.4h0m.1-28.2h0m0 5.2h0m0 .5h0m0 3.8h0m0 10.6h0m0 6.8h0m0 2.2h0m0 .4h0m.1-38.2h0m0 1.2h0m0 7.2h0m0 8.8h0m0 7.8h0m0 7.5h0m.1-37h0m0 9.2h0m0 15.3h0m0 .4h0m0 3.1h0m0 7.7h0m0 5.2h0m.1-45.2h0m0 22.7h0m0 2.2h0m0 3.8h0m.1-24.5h0m0 13.2h0m0 16.1h0m.1-28.3h0m0 3.3h0m0 13.3h0m0 3.5h0m0 3.6h0m0 2.7h0m0 1h0m0 6.9h0m0 5.6h0m.1-42.2h0m0 22h0m0 1.3h0m0 6.9h0m0 .2h0m0 .6h0m0 8.4h0m.1-34.7h0m0 22.7h0m0 1.5h0m0 2.1h0m0 2.3h0m0 .6h0m0 3.5h0m0 7.7h0m.1-52.1h0m0 8.4h0m0 11.3h0m0 10.9h0m0 11.1h0m0 4.1h0m0 1.5h0m0 3.3h0m.1-33.5h0m0 19.3h0m0 1.3h0m0 6.8h0m0 2.2h0m0 2.2h0m.1-45.4h0m0 33.4h0m0 .2h0m0 5.6h0m.1-14h0m0 12.9h0m0 5.2h0m0 .9h0m0 4.4h0m.1-32.9h0m0 9.9h0m0 3.6h0m0 7h0m0 7.8h0m.1-7.9h0m0 2.8h0m0 1h0m0 2.9h0m.1-4.9h0m.1-29.5h0m0 7.4h0m0 0h0m0 14.2h0m0 6.5h0m0 1.8h0m0 1.3h0m0 6.4h0m.1-40.4h0m0 7.8h0m0 3.1h0m0 2.9h0m0 .7h0m0 20.2h0m0 6.4h0m0 3.2h0m.1-29h0m0 14.8h0m0 4h0m0 6.5h0m0 .5h0m0 .2h0m0 .1h0m.1-32.1h0m0 5.1h0m0 4.5h0m0 9.6h0m0 2.9h0m.1-18.9h0m0 11.8h0m0 16.9h0m.1-47.3h0m0 10.5h0m0 30.9h0m.1-24.1h0m0 5.9h0m0 2.4h0m0 6.1h0m0 1.2h0m0 2.7h0m0 .9h0m0 9.8h0m.1-45.9h0m0 4.1h0m0 15.5h0m0 3.7h0m0 .9h0m0 .5h0m0 13.1h0m0 6.8h0m0 .2h0m0 .9h0m0 .3h0m.1-17.2h0m0 6.1h0m0 .3h0m0 3h0m0 8.4h0m.1-38.8h0m0 1h0m0 19.8h0m0 2.8h0m0 4.6h0m0 .4h0m0 2.6h0m0 10h0m.1-47.6h0m0 7.3h0m0 11h0m0 8.3h0m0 1.8h0m0 2.2h0m0 9h0m0 5.3h0m.1-49.2h0m0 15.6h0m0 13.2h0m0 .6h0m0 9.2h0m0 6.7h0m0 2.3h0m.1-26.5h0m0 18.6h0m0 6h0m.1-38.6h0m0 21h0m0 8.6h0m0 .7h0m0 2.3h0m0 1.4h0m0 9.4h0m.1-34h0m0 9.9h0m0 3h0m0 1.3h0m0 5.1h0m.1-5h0m0 4h0m0 .4h0m0 8.6h0m.1-31.9h0m0 5.8h0m0 9.7h0m0 1.8h0m0 1.2h0m0 2.2h0m0 7.8h0m0 12.2h0m.1-40.8h0m0 26.4h0m0 10.1h0m.1-42.8h0m0 20.2h0m0 4.5h0m0 2.5h0m0 6.6h0m0 2.8h0m0 1.3h0m.1-10.6h0m0 9.1h0m0 8.9h0m.1-38.7h0m0 22.1h0m0 .2h0m.1-28.1h0m0 3h0m0 6.5h0m0 2.9h0m0 11.7h0m0 9.9h0m0 8h0m0 1.8h0m.1-50.1h0m0 26.2h0m0 3.2h0m0 3.3h0m.1-29.4h0m0 17.3h0m0 4.3h0m0 2.8h0m0 3.9h0m0 9.5h0m.1-40h0m0 28h0m0 13.1h0m.1-35.5h0m0 5.5h0m0 5.2h0m0 18.2h0m0 1.5h0m0 6h0m0 .9h0m0 1.7h0m0 7.3h0m.1-37.4h0m0 8.1h0m0 10.6h0m.1-30.9h0m0 6.9h0m0 1.2h0m0 2.4h0m0 3.9h0m0 10.4h0m0 2.7h0m0 19.1h0m.1-40.8h0m0 21.9h0m0 7.8h0m0 14.5h0m.1-31.4h0m0 20.5h0m0 5.1h0m.1-35.3h0m0 7.6h0m0 .3h0m0 9.6h0m0 8.6h0m.1-39.8h0m0 31h0m0 9.4h0m0 .4h0m0 1.3h0m.1-37.2h0m0 16.3h0m0 2h0m0 4.6h0m0 3.3h0m0 16.2h0m.1-24h0m0 17.7h0m0 6.9h0m.1-35.3h0m0 2.4h0m0 13.2h0m0 4.7h0m0 3.3h0m.1-24.3h0m0 8.3h0m0 16.1h0m0 6.6h0m0 4.5h0m.1-36h0m0 14h0m0 19.7h0m.1-33.8h0m0 10.2h0m0 8.3h0m0 5.9h0m.1-22.9h0m0 37.8h0m.1-45.5h0m0 16.7h0m0 19.3h0m0 6.1h0m0 2.3h0m0 3.6h0m.1-33.2h0m0 2.7h0m0 1.5h0m0 1.6h0m0 3.5h0m0 4.9h0m0 9.6h0m0 4.8h0m.1-43.6h0m0 17.6h0m0 4.5h0m0 6.4h0m0 8.4h0m0 4.3h0m0 7.6h0m.1-37.8h0m0 2h0m0 7.7h0m0 9.4h0m0 6.3h0m0 4h0m0 10.2h0m.1-53.9h0m0 21h0m0 1.8h0m0 11.2h0m0 15.2h0m.1-20.1h0m0 22.9h0m.1-47.3h0m0 8.5h0m0 26.3h0m0 6.1h0m0 2.1h0m0 1.1h0m.1-40.8h0m0 28.1h0m0 .5h0m0 1.9h0m0 4.9h0m.1-18.9h0m0 7.6h0m0 2.9h0m0 18.9h0m.1-25.1h0m0 8.8h0m0 1.8h0m0 2.7h0m0 5.2h0m.1-36.9h0m0 19.3h0m0 7h0m0 7h0m0 .9h0m0 6.1h0m.1-46h0m0 12.8h0m0 4.6h0m0 7.2h0m0 4.4h0m0 10.4h0m0 3.2h0m0 1.4h0m.1-24.1h0m0 2.2h0m0 1.3h0m0 10.8h0m0 9.1h0m.1-31.3h0m0 .4h0m0 .5h0m0 1h0m0 3.2h0m0 4.4h0m0 6.9h0m0 4h0m0 5.7h0m0 6.8h0m0 3.1h0m.1-34.2h0m0 10.2h0m0 5.7h0m0 14.6h0m.1-27.6h0m0 10.6h0m0 2h0m0 10.7h0m.1-36.8h0m0 3.5h0m0 13.1h0m0 4h0m0 10.5h0m0 9.9h0m.1-39.6h0m0 .2h0m0 25.9h0m0 .8h0m0 10.3h0m.1-25.7h0m0 2.1h0m0 16h0m0 2h0m0 9.3h0m.1-48.3h0m0 12.8h0m0 13.3h0m0 1.8h0m0 8.1h0m0 2.8h0m0 3.6h0m.1-36.4h0m0 1.5h0m0 14.5h0m0 3.1h0m0 1.6h0m0 7.3h0m0 2.5h0m0 4.2h0m0 .9h0m.1-28.2h0m0 11.1h0m0 11h0m0 1.1h0m0 .8h0m0 .6h0m0 1.8h0m0 1.7h0m.1-30.9h0m0 25.9h0m0 6.6h0m0 8.6h0m.1-45.9h0m0 31.6h0m.1-28.6h0m0 23.8h0m.1 12h0m0 4.8h0m.1-47.3h0m0 27h0m0 7.1h0m0 10.3h0m.1-33.7h0m0 25.6h0m0 3.4h0m.1-40.1h0m0 10.5h0m0 26.3h0m0 5.7h0m.1-19.2h0m0 5.9h0m0 15.2h0m.1-39.7h0m0 6.4h0m0 3.2h0m0 3.5h0m0 16.3h0m0 7.3h0m0 6h0m.1-47.2h0m0 5h0m.1 14.6h0m0 1.1h0m0 24.5h0m.1-30h0m0 8.3h0m0 .2h0m0 4.4h0m0 7.4h0m0 10.5h0m.1-48.4h0m0 21.5h0m0 12.5h0m0 2.4h0m0 10.7h0m.1-37.1h0m0 2.3h0m0 .7h0m0 8.9h0m0 5.7h0m0 8.4h0m0 3.8h0m0 3.1h0m.1-33.4h0m0 13.3h0m0 14.6h0m0 1h0m0 9.5h0m0 1.4h0m.1-42.9h0m0 2.1h0m0 1.6h0m0 10.5h0m0 2.8h0m0 .6h0m0 1.3h0m0 1.1h0m.1-1.2h0m0 5.4h0m0 11.2h0m.1-17.5h0m0 8.8h0m0 1.5h0m0 4.9h0m0 2.9h0m0 9.8h0m.1-38.2h0m0 1.1h0m0 14.3h0m0 10.7h0m0 3.6h0m0 2.5h0m.1-16h0m0 9.8h0m0 11.7h0m.1-30h0m0 3.6h0m.1-10.1h0m0 .6h0m0 3h0m0 1.1h0m0 9.7h0m0 6.1h0m0 2h0m.1-9.2h0m0 5.4h0m0 3h0m0 4.6h0m0 3.2h0m.1-38.8h0m0 15.7h0m0 6.5h0m0 22h0m.1-30.6h0m0 5h0m.1 6.1h0m0 5.9h0m0 1.6h0m0 6.3h0m.1-43.1h0m0 22.7h0m0 11.1h0m.1-30.2h0m0 10.7h0m0 25.1h0m0 .7h0m0 9.7h0m.1-8.7h0m0 4.2h0m.1-38.9h0m.1-.2h0m0 24.7h0m0 3.2h0m0 11.2h0m.1-43.1h0m0 13.4h0m0 13.3h0m0 .8h0m0 16.6h0m.1-18.1h0m0 22.9h0m.1-51.5h0m0 25.7h0m0 11.1h0m.2-12.3h0m0 3.7h0m0 6.5h0m0 10.2h0m.1-41h0m0 1h0m0 4.8h0m0 6.7h0m0 6.2h0m0 17.5h0m0 2.2h0m0 1.3h0m.1-25.5h0m.1-18.7h0m0 8.9h0m.1 .4h0m0 24.9h0m0 12.1h0m.1-35.4h0m0 7.9h0m0 2.7h0m0 25.3h0m0 .2h0m.1-12.9h0m0 12.9h0m.1-45.7h0m0 15.4h0m0 6.6h0m0 11.3h0m.1-25.7h0m0 17.3h0m0 7.9h0m0 1.6h0m.1-36.3h0m0 15h0m0 14.7h0m0 16.5h0m0 .4h0m.1-37.1h0m0 3.2h0m0 5.6h0m0 14.4h0m0 5.1h0m0 2.3h0m.1-22.5h0m.1-3.2h0m0 23.2h0m.1-14.8h0m0 13h0m0 .7h0m0 10.2h0m.1-13.6h0m.1 12.2h0m.1-22.8h0m0 16.2h0m0 8.7h0m0 5.4h0m.1-52h0m0 12.7h0m0 20.5h0m0 1.1h0m0 5.8h0m.1-23.2h0m0 .9h0m0 25.6h0m.1-46.4h0m0 19.5h0m0 23.1h0m.1-40.9h0m0 23h0m0 10.9h0m0 2.4h0m0 14.8h0m.1-47.6h0m0 17.5h0m0 2.8h0m0 15.3h0m0 8.6h0m.1-36.4h0m0 28.3h0m0 6.1h0m.1-27.9h0m0 23h0m0 5.9h0m0 5.8h0m.1-47.2h0m0 10.7h0m0 25.5h0m0 8.2h0m.1-56.7h0m0 7.7h0m0 7.1h0m0 25.4h0m.1-11.6h0m0 8.5h0m.1-16.5h0m0 34.2h0m0 2h0m.1-52.8h0m0 15h0m0 6.2h0m0 17.1h0m0 11.4h0m0 3.8h0m.1-21.1h0m0 16.5h0m0 1.7h0m.1-37.7h0m0 13.7h0m0 16.2h0m0 4.5h0m0 4.4h0m.1-37.6h0m0 19.4h0m0 12h0m0 10.8h0m.1-29.9h0m0 13.2h0m0 5.9h0m0 .8h0m0 3.4h0m0 3.6h0m0 2.6h0m.1-38.2h0m0 1.4h0m0 2.5h0m.1 13.9h0m0 .7h0m0 3.3h0m0 1h0m0 11.8h0m.1-36.9h0m0 10.1h0m0 9h0m0 1.6h0m0 1.1h0m.1 2.1h0m0 .5h0m0 2.3h0m0 7.4h0m.1-22.3h0m0 11.7h0m.1-29.5h0m0 14.9h0m0 26.5h0m0 2h0m.1-28.8h0m0 5.8h0m0 1.2h0m0 6.4h0m0 0h0m0 2.6h0m0 3.8h0m0 2.4h0m.1 4.6h0m.3-45.7h0m0 20.6h0m0 11.1h0m0 9.1h0m0 3.4h0m0 1h0m.1-23.8h0m0 13.3h0m0 7.2h0m0 .8h0m0 .4h0m.1-30.2h0m0 23.7h0m.1-20.9h0m0 12.6h0m0 9.4h0m0 13h0m.1-36.6h0m0 20.2h0m0 3.4h0m.1 8.8h0m.1-21.1h0m0 15.9h0m.1-23.7h0m0 9.5h0m0 16.4h0m0 4.5h0m0 2.8h0m.1-27.5h0m0 14.8h0m.1-9.4h0m.1-32.3h0m0 12.3h0m0 33.1h0m.1-25.3h0m0 15.9h0m0 4.6h0m0 2.1h0m0 9.3h0m.1-15.3h0m0 9.2h0m.1-1.9h0m0 .4h0m.1-19.8h0m0 6.5h0m0 2.4h0m0 3.9h0m0 9.8h0m.1-39.8h0m0 8.1h0m.1 8.6h0m0 5.1h0m0 4.8h0m0 1.4h0m0 1.8h0m.1-8.3h0m.1 11.1h0m.1-37.4h0m0 47.9h0m0 1.5h0m.1-46.5h0m0 47.8h0m.1-16.4h0m0 6h0m0 11.4h0m.1-31.1h0m0 9.4h0m0 .1h0m0 5.1h0m0 16.9h0m.1-41.7h0m0 18h0m0 7.4h0m0 7.4h0m0 3.1h0m0 2.8h0m0 3h0m.2-43.7h0m0 11.4h0m0 21h0m.1-33.7h0m0 13.5h0m0 8.3h0m0 10.9h0m.1-12.4h0m0 15.7h0m0 3.8h0m.2-36.6h0m0 9h0m0 2.5h0m0 10.7h0m0 5.9h0m0 10.1h0m.2-22.3h0m.1-16.3h0m0 30.9h0m0 6.1h0m.1-48.8h0m0 24.1h0m0 24.7h0m.1-34.9h0m0 3.7h0m0 16.7h0m0 5.9h0m0 5.6h0m0 4.8h0m.1-24.1h0m0 16.2h0m0 4.4h0m.1-37.6h0m0 3h0m0 14h0m0 20.8h0m.1 6.8h0m.1-56.7h0m0 15.9h0m0 13.9h0m0 6.6h0m0 2.3h0m0 4.3h0m0 9.7h0m.1-58.1h0m0 30.7h0m0 2.6h0m0 5.9h0m0 3.9h0m.1 17.7h0m.1-21.6h0m0 8.4h0m.1-31.2h0m0 15h0m.1-17.5h0m0 2.9h0m0 35.2h0m.1-32h0m0 6.6h0m0 19.2h0m0 3.2h0m0 5.1h0m0 .9h0m.1-20.3h0m.1-17.1h0m0 2.7h0m0 5.2h0m0 7h0m0 8.7h0m0 13.2h0m0 5.3h0m.1-22.2h0m0 1.3h0m0 3.7h0m0 3.6h0m.1-35.1h0m0 15.4h0m0 21.5h0m.1-26.9h0m0 14.4h0m0 3.4h0m0 .5h0m.1-10.1h0m0 27.6h0m0 1.1h0m.1-36.8h0m0 17.4h0m0 1.9h0m0 8.5h0m0 3.3h0m0 .7h0m.1-4.1h0m0 11.1h0m.1-36.7h0m0 1.4h0m0 16.3h0m0 1.7h0m0 14.9h0m.1-26.4h0m0 8.2h0m.2-17.1h0m0 37.8h0m.1-21.6h0m0 22h0m.1-11.1h0m.1-19.8h0m0 .4h0m0 6.2h0m0 4.7h0m.1 .5h0m0 11.4h0m.1-18.6h0m0 15.8h0m0 1.4h0m.1-13.2h0m.1-23.8h0m0 8.2h0m0 1.6h0m0 3.1h0m0 14.1h0m.1-14.8h0m0 2.6h0m0 .8h0m0 3.5h0m0 28.6h0m.2-51h0m0 30h0m0 4.8h0m0 15.1h0m.1-9.2h0m.1 1.2h0m.1-13.2h0m0 5.9h0m0 9.8h0m.1-41.4h0m0 17.8h0m.1-.3h0m.1-11.4h0m0 7.1h0m0 .1h0m0 17.9h0m0 .7h0m.1-22.3h0m.1 7.2h0m0 6.2h0m.1-10.3h0m0 9.8h0m0 3.8h0m0 18.3h0m.1-30.2h0m.2-10.9h0m0 19.3h0m0 2.5h0m0 18.3h0m.1 4.2h0m.1-26h0m.1 5.8h0m.1 1.2h0m0 11.7h0m.1-12.8h0m.1-23.4h0m0 31.9h0m.1-8.1h0m.1-29.6h0m0 26.3h0m.1 .2h0m.1-10.4h0m.1-30.4h0m0 23.7h0m0 14h0m0 13.3h0m0 .5h0m0 6.2h0m0 3.9h0m.1-36.5h0m0 10.8h0m0 17.6h0m0 10h0m.2-39.2h0m0 5.4h0m0 6.4h0m0 9.5h0m.1-19.7h0m0 38h0m.1-37.6h0m0 22.5h0m.1-30.2h0m0 22.3h0m0 10.5h0m.2-32.1h0m0 .4h0m.1 5.6h0m0 10.3h0m0 14.9h0m0 2.5h0m0 .5h0m.1-28.4h0m0 13.3h0m.1-16.1h0m0 13.4h0m0 7.6h0m.1 1.5h0m.1-19h0m0 10h0m0 15.4h0m.2-16h0m0 11.4h0m.1-1.2h0m0 8.2h0m.1-1.9h0m.1-21.2h0m0 12.8h0m.1-30.3h0m.1 33.3h0m.4-16.5h0m.1-8.7h0m.1 5.7h0m.1-5.6h0m0 24.2h0m0 13.1h0m.1-2.7h0m.1-24.2h0m0 13.5h0m.1-30.3h0m0 14h0m0 8.7h0m.1 8.8h0m0 8h0m.1-11.8h0m0 11.6h0m.1-1.7h0m.2-35.5h0m.1 31.9h0m0 1.4h0m.1 8.3h0m.3-22.1h0m0 13.5h0m.1-21.2h0m0 5.5h0m0 18.6h0m0 5.5h0m.1-39.4h0m0 20.6h0m.1 4.5h0m.1-1.9h0m.4-13.5h0m0 13.9h0m0 16.7h0m.2-22.8h0m0 26.2h0m.2 .1h0m.3-46.3h0m.1 8.8h0m0 9.3h0m0 24.2h0m.1-15.3h0m.2-13.2h0m0 3.6h0m.1 22.7h0m0 .8h0m.1-11.2h0m0 14.7h0m.1-13.8h0m0 9.2h0m.2-18h0m.1 22.8h0m.1-46h0m.1 6h0m0 38.3h0m.5-20.6h0m.1 12.9h0m0 .1h0m.1-37.7h0m.2 41.6h0m.1-37.6h0m.1 27.4h0m0 9.8h0m.1-16.9h0m0 1.9h0m.1 1.5h0m.1-5.5h0m0 10.7h0m.1-13.2h0m.1 5.4h0m.1-12.9h0m0 11.8h0m.2 10.4h0m.5-32.4h0m.3 8.6h0m.1-8.3h0m0 23.5h0m.2-11.5h0m.2-.1h0m0 17.5h0m.4-27.7h0m.5 7h0m0 9.5h0m.1 11.9h0m.2 5.2h0m.1-2.3h0m0 2.8h0m.4 3h0m.3-22.8h0m0 6.1h0m.3-8.8h0m.2 3h0m0 11.3h0m.1-41.9h0m0 32.9h0m.2 18.1h0m0 4.3h0m.2-12.6h0m.5-.1h0m.2-1.8h0m.1-2.2h0m.3-15.4h0m.2 35.8h0m.6-21.3h0m.3-4.8h0m.1-21.2h0m.1 14.7h0m.1 34.5h0m.1-24.8h0m1.2 6.1h0m.2 2.1h0m.1-27.8h0m.6-5.5h0m.1 27.8h0m.1-9.8h0m1 1.5h0m.7 20.3h0m.1-4.3h0m2.2-39.8h0m.4 47.3h0m.7-29.2h0m1.7 25.9h0m4.3 6.6h0m3.6-50.7h0" stroke="#333" stroke-width="0.9" stroke-linecap="square" fill="none" filter="url(#bl)"/>
<path d="M238.9 232.4V320.6M204.3 292.8H307.5" stroke="#555" stroke-width="1"/>
<text x="212.9" y="251.7" font-family='"Liberation Serif", serif' font-size="11">R2</text>
<text x="273.6" y="251.7" font-family='"Liberation Serif", serif' font-size="11">R3</text>
<path d="M190.7 331.9V298.5" stroke="#000" stroke-width="1.3"/>
<path d="M187.2 299.5L190.7 291.5L194.2 299.5z" fill="#000"/>
<path d="M190.7 331.9H223.5" stroke="#000" stroke-width="1.3"/>
<path d="M222.5 328.4L230.5 331.9L222.5 335.4z" fill="#000"/>
<text transform="translate(183 323.8) rotate(-90)" font-family='"Liberation Serif", serif' font-size="11">KJ1-26</text>
<text x="193" y="348.6" font-family='"Liberation Serif", serif' font-size="10.5">Fas</text>
<text x="375.5" y="233" font-family='"Liberation Serif", serif' font-size="11.3">Total KJ1-26+ (R2 + R3)</text>
<rect x="370.3" y="237.8" width="114.69999999999999" height="89.0" fill="none" stroke="#2a2a2a" stroke-width="1.4"/>
<path d="M379.4 241.9V319H481.5V241.9H379.4" fill="none" stroke="#aaa" stroke-width="0.7"/>
<text x="375.8" y="243.2" text-anchor="middle" font-family='"Liberation Sans", sans-serif' font-size="3" fill="#999" style="stroke:none">10⁴</text>
<text x="375.8" y="262.5" text-anchor="middle" font-family='"Liberation Sans", sans-serif' font-size="3" fill="#999" style="stroke:none">10³</text>
<text x="375.8" y="281.8" text-anchor="middle" font-family='"Liberation Sans", sans-serif' font-size="3" fill="#999" style="stroke:none">10²</text>
<text x="375.8" y="301.1" text-anchor="middle" font-family='"Liberation Sans", sans-serif' font-size="3" fill="#999" style="stroke:none">10¹</text>
<text x="375.8" y="320.3" text-anchor="middle" font-family='"Liberation Sans", sans-serif' font-size="3" fill="#999" style="stroke:none">10⁰</text>
<path d="M379.4 241.9h1.2M379.4 261.2h1.2M379.4 280.5h1.2M379.4 299.8h1.2M379.4 319.0h1.2" stroke="#999" stroke-width="0.5"/>
<text x="380.4" y="322.8" text-anchor="middle" font-family='"Liberation Sans", sans-serif' font-size="3" fill="#999" style="stroke:none">0</text>
<text x="399.5" y="322.8" text-anchor="middle" font-family='"Liberation Sans", sans-serif' font-size="3" fill="#999" style="stroke:none">50</text>
<text x="419.5" y="322.8" text-anchor="middle" font-family='"Liberation Sans", sans-serif' font-size="3" fill="#999" style="stroke:none">100</text>
<text x="439.5" y="322.8" text-anchor="middle" font-family='"Liberation Sans", sans-serif' font-size="3" fill="#999" style="stroke:none">150</text>
<text x="460.0" y="322.8" text-anchor="middle" font-family='"Liberation Sans", sans-serif' font-size="3" fill="#999" style="stroke:none">200</text>
<text x="479.0" y="322.8" text-anchor="middle" font-family='"Liberation Sans", sans-serif' font-size="3" fill="#999" style="stroke:none">250</text>
<path d="M380.4 319v-1.2M399.5 319v-1.2M419.5 319v-1.2M439.5 319v-1.2M460.0 319v-1.2M479.0 319v-1.2" stroke="#999" stroke-width="0.5"/>
<text x="423" y="324.6" text-anchor="middle" font-family='"Liberation Sans", sans-serif' font-size="2.8" fill="#888" style="stroke:none">Forward Scatter</text>
<path d="M385.9 282.9h0m0 6.2h0m.4-1.4h0m.1-13.4h0m0 12.7h0m.1-12.5h0m0 43.8h0m.2-22.3h0m0 12.9h0m.1-29.1h0m0 6h0m.1 32.7h0m.1-33.6h0m0 3.7h0m.1 9.9h0m.1-2.2h0m.1-19.7h0m.2 4.2h0m.2 2.3h0m0 22.6h0m.1-9.5h0m.1-7.6h0m0 18.1h0m.1-31.2h0m.1 4.1h0m0 9.8h0m0 17.8h0m.2-19h0m0 1.1h0m0 18.4h0m0 8.1h0m.1-32.8h0m.1 9.9h0m.1-11h0m0 0h0m0 6h0m0 .3h0m0 28h0m.1-44.3h0m0 6.8h0m0 2.6h0m0 .5h0m.1-12.7h0m0 22.8h0m.1 4h0m0 14.3h0m.1-36.6h0m0 5.3h0m0 28.7h0m.1 2.5h0m.1-16.9h0m0 8.5h0m0 16.6h0m.1-21h0m0 7.3h0m0 12.3h0m.1-34.4h0m.1-7.3h0m0 23.9h0m0 9.2h0m.1-28h0m0 10.4h0m0 20.3h0m.1-27.7h0m0 3.6h0m0 29h0m.1-36.5h0m0 13.9h0m.1-15.7h0m0 35.1h0m.1-27.4h0m.1-7.6h0m0 7.4h0m0 24.6h0m.1-32.4h0m0 28.8h0m0 .2h0m0 8.1h0m.1-37.1h0m0 .6h0m0 4.7h0m0 2.3h0m0 .5h0m0 15.6h0m0 9.2h0m.1-16.3h0m.1 8.6h0m.1 2.9h0m.1-27.4h0m0 5.2h0m0 3.9h0m0 .9h0m0 8.2h0m.1-11.2h0m.2 21.8h0m0 8.1h0m0 2.7h0m.1-9.1h0m.1-32.4h0m0 12.9h0m.1-2.7h0m.1-8.2h0m0 26.9h0m0 2.4h0m.1-13.2h0m0 21.3h0m0 .9h0m.1-10.5h0m.2-27.1h0m0 .7h0m0 18.9h0m0 3.1h0m0 2.8h0m0 13.1h0m.1-43.5h0m0 10.5h0m0 7.3h0m0 15.7h0m.1-25.9h0m0 1.6h0m.1-16h0m0 19.7h0m.1-15.9h0m0 36.8h0m.1-8.9h0m0 11.8h0m.1-31.4h0m0 6.7h0m.1-8h0m0 .2h0m0 7.7h0m.1-12.4h0m0 7h0m0 7.3h0m.1-9.6h0m0 21.8h0m.1-26.5h0m0 4.1h0m0 11.1h0m0 9.1h0m0 3.7h0m0 7.9h0m.1-12.2h0m.1-29.2h0m0 20.2h0m.2-9.9h0m0 2.2h0m0 .2h0m.1-3.1h0m0 .8h0m0 1h0m.1-3.9h0m0 3.4h0m0 3.1h0m0 15.7h0m.1-18.4h0m0 1.8h0m0 13.9h0m.1-7.5h0m.1-6.6h0m0 .6h0m0 .1h0m0 21.3h0m0 3.1h0m.1-29.3h0m0 5h0m0 1.9h0m.1-7.9h0m0 1.9h0m0 10.4h0m0 14.8h0m.1-28.5h0m0 5.5h0m0 1.1h0m0 11.9h0m.1-9.8h0m0 4.8h0m0 3.2h0m.1 8.5h0m.1-25h0m.1 2.3h0m0 2.7h0m0 13.5h0m.1-13.7h0m0 20.6h0m.1-20h0m.1 25h0m0 8.9h0m.1-30.9h0m0 24.8h0m.1-7.4h0m0 3.8h0m0 10.7h0m.1-42.1h0m0 35.9h0m.1-6.7h0m.1-16.5h0m.1-12h0m0 3.9h0m0 3h0m0 7.2h0m0 4.4h0m0 10.8h0m.1-24h0m0 .9h0m0 1.1h0m.1-1.3h0m0 4h0m0 .1h0m0 16h0m.1-21.8h0m0 .6h0m0 .4h0m0 5.1h0m0 14.5h0m.1-21.3h0m0 27.3h0m.1-20.3h0m0 15.6h0m.1-18h0m0 15.9h0m.1-24.4h0m0 4.3h0m.1-4.8h0m0 5.7h0m0 .5h0m0 21.6h0m.1-13.4h0m.2-11.2h0m0 7h0m0 1.1h0m0 10.6h0m.1-19.5h0m0 2.3h0m0 21.1h0m.1-28.5h0m0 2.5h0m0 1.9h0m0 8.5h0m0 4.1h0m0 15.6h0m.1-28.6h0m0 9.6h0m0 .1h0m0 .2h0m0 16.4h0m.1-31.5h0m0 .6h0m0 5.2h0m0 7.3h0m0 4.6h0m0 .6h0m.1-11.5h0m0 .9h0m0 11.9h0m.1 .9h0m.1-11.7h0m0 4.7h0m0 .7h0m0 10.7h0m.1-16.7h0m0 3.2h0m.1-3.5h0m0 1.5h0m.1 5.5h0m0 3.5h0m.1-12.8h0m0 .2h0m0 5.2h0m.1 1.9h0m0 1h0m.1-.2h0m0 13.3h0m0 3.9h0m0 .5h0m.1-26.2h0m0 4.5h0m.1-1.7h0m0 1.7h0m0 4.8h0m.1-6.9h0m0 2.6h0m0 1.4h0m0 2.6h0m0 .4h0m.1-9.3h0m0 3.5h0m0 .7h0m0 2.8h0m.1 .9h0m0 1h0m0 .1h0m0 4.8h0m0 7.2h0m.1-17.2h0m.1-5.8h0m0 4h0m0 3.3h0m.1-5.2h0m0 2h0m0 1.3h0m0 1.2h0m0 2.3h0m0 8.6h0m0 4.8h0m0 4.3h0m.1-23.6h0m0 1.9h0m0 1.1h0m0 23.7h0m.1-23.3h0m0 .1h0m0 .5h0m0 6.5h0m.2-7.4h0m0 1.1h0m0 2.6h0m.1-2.2h0m0 .4h0m0 .7h0m0 16.7h0m.1-21.8h0m0 3.1h0m0 7.1h0m0 5.1h0m0 3.8h0m0 9.3h0m0 1.6h0m.1-22h0m0 .5h0m.1-12.2h0m0 2.6h0m0 3.4h0m0 1.3h0m0 .1h0m0 27.5h0m.1-30.9h0m0 2h0m0 23.6h0m.1-31.3h0m0 5.8h0m0 .9h0m.1 1.4h0m0 5h0m0 11.6h0m.1-17.2h0m0 .8h0m0 .6h0m0 3h0m0 2.3h0m0 15.1h0m.1-14.2h0m0 5.2h0m0 8h0m.1-30.9h0m0 6.1h0m0 5.2h0m0 .4h0m0 8.1h0m.1-14.6h0m0 .6h0m0 4.2h0m0 1h0m0 1.7h0m0 7.9h0m.1-12.7h0m0 .2h0m0 1.4h0m0 .7h0m0 1.1h0m0 22.4h0m.1-29.1h0m0 0h0m0 2.8h0m0 2.2h0m0 7.4h0m0 1.2h0m0 3.6h0m0 14.3h0m.1-9.5h0m0 3.3h0m0 .9h0m0 1.3h0m.1-28h0m.1-2h0m0 3.9h0m0 2.6h0m0 3.6h0m.1-6.5h0m0 .4h0m0 .4h0m0 1.4h0m0 19h0m.1-23.2h0m0 2.6h0m0 .1h0m0 1.4h0m0 2.3h0m0 8.4h0m0 7.7h0m.1-22.5h0m0 5.7h0m0 2h0m0 1.9h0m0 17h0m.1-24.6h0m0 7.2h0m0 1.9h0m0 10h0m.1-13.7h0m0 14.3h0m0 4.1h0m.1-21.9h0m0 3.2h0m0 .4h0m0 23.3h0m.1-23.9h0m0 .3h0m0 .1h0m0 2.5h0m0 2.4h0m0 18.1h0m.1-26.6h0m0 1.6h0m0 3.3h0m0 3.9h0m0 14.9h0m.1-21.9h0m0 .2h0m.1-.5h0m0 4.2h0m0 16.8h0m.1-22.6h0m0 2h0m0 1h0m0 1.7h0m0 6.4h0m0 13.4h0m.1-26.4h0m0 2.9h0m0 .5h0m0 19.9h0m0 3.1h0m.1-23.5h0m0 1h0m0 22.8h0m.1-26.7h0m0 2.2h0m0 18.4h0m0 .7h0m0 4.2h0m0 .8h0m.1-23.9h0m0 3.6h0m0 .8h0m0 5.9h0m0 12.3h0m.1-23.4h0m0 2.8h0m0 1.1h0m0 .8h0m0 .7h0m0 16.4h0m.1-21.2h0m0 .5h0m0 2.1h0m0 1.4h0m0 1.5h0m0 1.9h0m0 16.3h0m.1-21.7h0m0 12.9h0m0 6.2h0m0 5.9h0m.1-29h0m0 1.6h0m0 .5h0m0 1.4h0m0 0h0m0 .2h0m0 4.8h0m0 3.8h0m.1-14.4h0m0 6.6h0m0 .4h0m0 4.9h0m0 6.3h0m0 4.1h0m0 .9h0m0 1h0m.1-25.8h0m0 5.2h0m0 1h0m0 .1h0m0 .8h0m0 1h0m0 2.1h0m0 9.2h0m0 3.5h0m0 3h0m.1-26.7h0m0 2.3h0m0 6.8h0m0 .5h0m0 14.9h0m0 11.4h0m.1-31h0m0 .2h0m0 1.4h0m0 .5h0m0 7.1h0m.1-8.3h0m0 2.1h0m0 6h0m0 11.6h0m0 1.2h0m0 1.8h0m.1-22.7h0m0 1.3h0m0 18.5h0m.1-22.3h0m0 2.1h0m0 1.4h0m0 10.6h0m0 6.8h0m.1-18.7h0m0 .3h0m0 1.6h0m0 2.3h0m0 2h0m0 4.3h0m0 .7h0m0 1.7h0m0 2.8h0m0 1.7h0m0 1.4h0m0 1.7h0m0 2.4h0m0 .6h0m.1-23h0m0 19.5h0m0 3.4h0m0 .5h0m.1-23.8h0m0 1.3h0m0 3.3h0m0 5.6h0m0 6.8h0m0 1.5h0m0 1.1h0m0 4.3h0m.1-25.7h0m0 1.3h0m0 .1h0m0 2.9h0m0 4.6h0m0 11.1h0m0 1.9h0m0 1h0m0 .1h0m0 7.4h0m.1-28h0m0 .4h0m0 1.5h0m0 1.9h0m0 0h0m0 .9h0m0 8.4h0m0 6.2h0m0 2.3h0m.1-20.3h0m0 1.4h0m0 .2h0m0 2.6h0m0 .6h0m0 1.5h0m0 12.8h0m0 4.3h0m.1-23.1h0m0 1.4h0m0 8.6h0m0 7h0m0 2.8h0m.1-22.1h0m0 1.1h0m0 2.2h0m0 9.7h0m0 4.7h0m0 4.3h0m0 5.7h0m.1-35.1h0m0 7.1h0m0 .2h0m0 3.8h0m0 17.9h0m0 1.2h0m0 .3h0m0 2.6h0m.1-27.8h0m0 5.2h0m0 13.9h0m0 3.2h0m0 .6h0m0 2.4h0m.1-28.8h0m0 5.5h0m0 2.4h0m0 .9h0m0 .4h0m0 1.6h0m0 16.6h0m0 .9h0m0 .6h0m0 .8h0m.1-25.9h0m0 4.4h0m0 1.7h0m0 .2h0m0 1h0m0 2.4h0m0 3.6h0m0 7.5h0m.1-18.7h0m0 3.6h0m0 16.2h0m0 .5h0m.1-21.2h0m0 0h0m0 2.1h0m0 0h0m0 1.1h0m0 .7h0m0 17.7h0m0 1h0m0 .5h0m.1-30.4h0m0 7.6h0m0 8.9h0m0 2.3h0m.1-16.6h0m0 3.6h0m0 4.6h0m0 1.3h0m0 1.1h0m0 14.4h0m.1-23.6h0m0 9.7h0m0 11.7h0m0 .4h0m0 .9h0m0 4.3h0m0 0h0m.1-28.5h0m0 3.3h0m0 6.1h0m0 .1h0m0 .8h0m0 1.8h0m0 .1h0m0 2.8h0m0 1.5h0m0 4.9h0m0 6.1h0m0 .9h0m0 .2h0m.1-30.3h0m0 6.3h0m0 .3h0m0 3.4h0m0 1.3h0m0 1h0m0 7.9h0m.1-9.1h0m0 1.3h0m0 .3h0m.1-13.9h0m0 11.6h0m0 .3h0m0 1.7h0m0 5.9h0m0 1h0m.1-11.7h0m0 9.8h0m0 .4h0m0 0h0m.1-13.9h0m0 .3h0m0 .4h0m0 1.8h0m0 1.1h0m0 2.3h0m0 4.3h0m0 11.6h0m0 .7h0m0 1.4h0m.1-20.3h0m0 3.2h0m0 .5h0m0 .2h0m0 16.1h0m.1-21.1h0m0 2.1h0m0 2.3h0m0 .1h0m0 1.4h0m0 9.4h0m0 .3h0m0 3.2h0m0 1.9h0m0 .7h0m0 8.2h0m.1-28.2h0m0 .9h0m0 1.2h0m0 2.7h0m0 2.8h0m0 3.4h0m0 8h0m0 3.1h0m0 2h0m.1-24.1h0m0 1.4h0m0 .7h0m0 5.3h0m0 .4h0m0 9.9h0m0 .8h0m0 1.5h0m.1-23.9h0m0 1.1h0m0 1.9h0m0 1.2h0m0 1.6h0m0 2.2h0m0 1h0m.1-14.8h0m0 8.4h0m0 .6h0m0 4.6h0m0 6.2h0m0 1.3h0m0 8.9h0m0 3h0m0 6.9h0m.1-32h0m0 .2h0m0 1.4h0m0 .4h0m0 1.7h0m0 .1h0m0 8.5h0m0 8.5h0m0 5.8h0m.1-27.7h0m0 1h0m0 .8h0m0 .6h0m0 0h0m0 2.1h0m0 1.6h0m0 .4h0m0 .1h0m0 4.1h0m.1-12.4h0m0 2.2h0m0 1.2h0m0 .6h0m0 .3h0m0 2.9h0m0 1h0m0 3.8h0m0 6.9h0m0 4.8h0m.1-15.4h0m0 0h0m0 4.8h0m0 8h0m0 2.2h0m.1-21h0m0 .3h0m0 2.6h0m0 3.5h0m0 5.2h0m0 8.7h0m.1-19.1h0m0 1.7h0m0 2.3h0m0 .5h0m0 6.4h0m0 9.2h0m0 .5h0m0 .1h0m0 3.5h0m.1-34.9h0m0 8.9h0m0 1.6h0m0 1.3h0m0 5h0m0 2.4h0m0 12.3h0m.1-19.9h0m0 1.9h0m0 .8h0m.1-8.3h0m0 .2h0m0 6.5h0m0 2.5h0m0 .5h0m0 .1h0m0 8.5h0m0 7.8h0m.1-22.8h0m0 1.3h0m0 3.1h0m0 5.3h0m0 4.6h0m0 5.5h0m0 6h0m.1-24.9h0m0 .3h0m0 2.6h0m0 .5h0m0 0h0m0 4.1h0m0 18.4h0m.1-28.8h0m0 2.6h0m0 1.5h0m0 3.7h0m0 .9h0m0 15.3h0m0 .8h0m0 .5h0m0 1.7h0m.1-22.3h0m0 16.1h0m0 1h0m0 0h0m0 1.2h0m.1-19.9h0m0 3.9h0m0 6.6h0m0 4.3h0m0 .7h0m0 1.1h0m0 3.4h0m0 1.3h0m0 1.1h0m.1-22.7h0m0 3.6h0m0 1.5h0m0 21.4h0m.1-27.2h0m0 1.2h0m0 2.6h0m0 18.2h0m.1-24.7h0m0 3.3h0m0 1.3h0m0 .7h0m0 1.2h0m0 8.9h0m0 3.9h0m0 3.8h0m0 .3h0m.1-19h0m0 .5h0m0 1.4h0m0 .4h0m0 1.9h0m0 14h0m0 2.8h0m.1-22.8h0m0 2.8h0m0 .4h0m0 4.2h0m0 16.3h0m.1-34.7h0m0 8.8h0m0 1.7h0m0 1.2h0m0 3.6h0m0 1.7h0m.1-1.9h0m0 3.5h0m0 10h0m0 .1h0m0 1.2h0m0 3.4h0m.1-20.5h0m0 .4h0m0 .2h0m0 2.4h0m0 2.3h0m0 .7h0m0 12h0m0 1h0m0 3.7h0m.1-22.4h0m0 .5h0m0 .8h0m0 2h0m0 2.8h0m0 10.4h0m0 3.5h0m.1-19.4h0m0 2h0m0 1.3h0m0 .1h0m0 3h0m0 13.9h0m.1-18.8h0m0 8.1h0m0 7.3h0m0 1.4h0m0 .5h0m0 6.2h0m.1-28.3h0m0 2h0m0 1.5h0m0 0h0m0 3.6h0m0 12.6h0m.1-17.7h0m0 4.8h0m0 3.8h0m0 11.6h0m0 1.2h0m.1-26.7h0m0 4.6h0m0 1.1h0m0 10.2h0m0 11.6h0m.1-20.1h0m0 4.5h0m0 8.8h0m0 .9h0m0 4h0m.1-24.3h0m0 3h0m0 19.2h0m0 1.4h0m0 .8h0m0 2.6h0m0 1.6h0m.1-29.9h0m0 7.7h0m0 .6h0m0 1.4h0m0 .3h0m0 14h0m0 3.3h0m0 1.4h0m.1-30.3h0m0 2.3h0m0 .8h0m0 1.9h0m0 4.8h0m0 1h0m0 1.1h0m0 6h0m0 17.1h0m.1-29h0m0 1.5h0m0 .7h0m0 .7h0m0 2.9h0m0 5h0m0 2.7h0m0 12.2h0m.1-28.1h0m0 2.1h0m0 .3h0m0 3.5h0m.1-.4h0m0 9h0m0 10.9h0m0 3.1h0m0 .3h0m.1-23.5h0m0 2.9h0m0 .3h0m0 .5h0m0 0h0m0 12.7h0m.1-25.2h0m0 3.5h0m0 1.3h0m0 3.4h0m0 2.5h0m0 8.1h0m0 10.5h0m0 2h0m0 1.2h0m0 .2h0m.1-26.2h0m0 6.3h0m0 1.6h0m0 7.8h0m0 1.3h0m.1-15.8h0m0 1.4h0m0 .3h0m0 .2h0m.1-8.5h0m0 3.1h0m0 3.3h0m0 2.9h0m0 4.2h0m0 9.7h0m.1-22h0m0 3.4h0m0 .3h0m0 1h0m0 2.6h0m0 .1h0m.1-11.8h0m0 3.2h0m0 3h0m0 2.6h0m0 .6h0m0 1.7h0m0 .2h0m0 2.7h0m0 2.5h0m0 10.5h0m.1-24.3h0m0 5.6h0m0 1.8h0m0 5.1h0m0 15.2h0m.1-23.5h0m0 3.8h0m0 1h0m0 4.7h0m.1-9.7h0m0 3.6h0m0 .3h0m0 3.5h0m0 3.1h0m0 1.6h0m0 13.7h0m.1-24.1h0m0 0h0m0 2.8h0m0 .1h0m0 .2h0m0 .4h0m0 .9h0m0 .7h0m0 8.1h0m0 .2h0m0 9h0m.1-23.6h0m0 4h0m0 1.2h0m0 14.5h0m.1-19.7h0m0 2.6h0m0 6.5h0m0 4.5h0m0 15.3h0m.1-30.8h0m0 1.3h0m0 .5h0m.1 2.7h0m0 3.1h0m0 .9h0m0 12h0m.1-16.4h0m0 1.1h0m0 9.3h0m0 1.9h0m.1-13.8h0m0 20.9h0m.1-17.6h0m.1-3.6h0m0 3.6h0m0 11.1h0m.1-20.5h0m0 10.8h0m0 10.2h0m.1-17.1h0m0 .4h0m0 3h0m0 1.9h0m0 .2h0m0 .4h0m0 .8h0m0 1.5h0m0 .2h0m0 2.1h0m0 2.4h0m0 5.4h0m0 1h0m0 2.4h0m.1-18.4h0m0 1.6h0m0 .6h0m0 8.6h0m0 10.5h0m.1-27.2h0m0 2.4h0m0 2.7h0m0 1.6h0m0 6.1h0m0 7h0m0 4.5h0m0 3.3h0m.1-24.5h0m0 3.2h0m0 1.4h0m0 1h0m0 16.5h0m.1-23.9h0m0 3.1h0m0 1.4h0m0 6.1h0m0 5.2h0m.1-15.8h0m0 1.7h0m0 .8h0m0 4.9h0m0 2.4h0m0 13.6h0m0 3.2h0m0 2.4h0m.1-32.4h0m0 2.7h0m0 1.1h0m0 15.9h0m0 2.9h0m.1-20h0m0 6.7h0m0 1.7h0m.1-11.5h0m0 3.4h0m0 0h0m0 4h0m0 2.2h0m0 1.7h0m0 9h0m.1-12.3h0m0 1.6h0m0 1.7h0m0 10.3h0m.1-12.7h0m0 4.2h0m0 2.2h0m0 10h0m.1-18.6h0m0 2.5h0m0 18.1h0m.1-28.4h0m0 12.9h0m0 4.2h0m0 6.2h0m0 9.7h0m.1-24.5h0m0 3.3h0m0 18.8h0m.1-20h0m0 1.4h0m.1-12.4h0m0 11.6h0m0 1.3h0m0 1.8h0m0 .4h0m.1-12.6h0m0 7.3h0m0 1.1h0m0 .3h0m0 .4h0m0 .3h0m.1-9.1h0m0 17.4h0m.1-19.6h0m0 8.2h0m0 1.3h0m.1-10.3h0m0 11.8h0m0 .6h0m0 2.2h0m.1-8h0m0 16.6h0m.1-23.6h0m0 8.7h0m0 1.6h0m0 3.2h0m0 2h0m0 4.6h0m0 12.7h0m.1-22.5h0m0 6.1h0m0 13.6h0m0 2.1h0m0 .9h0m.1-33h0m.2 4.9h0m0 3.9h0m0 2.4h0m0 1.3h0m.1-.8h0m0 2h0m.1-10.7h0m0 6.8h0m0 .5h0m.1-3.7h0m0 6.6h0m0 2.1h0m0 2.6h0m0 3.6h0m0 4.4h0m.1-16.9h0m0 .6h0m0 11.9h0m0 1.3h0m0 7.7h0m.1-7.3h0m0 6.8h0m.1-24h0m0 4.4h0m.1 .3h0m0 6.4h0m0 5.8h0m.1-3.1h0m.1-8.3h0m.1 3.6h0m.1-15.7h0m0 9.9h0m0 .7h0m0 8.7h0m0 10.9h0m.1-27.7h0m0 7.4h0m0 5h0m.1-2.8h0m0 .9h0m0 6h0m.1-11.8h0m0 1.7h0m.1 .8h0m0 8.6h0m0 5.4h0m.1-10.5h0m0 1.4h0m0 .1h0m0 .9h0m0 4.2h0m.1-11.4h0m0 3.8h0m.1-8.8h0m0 10.9h0m.1-11.9h0m0 1.6h0m0 5.4h0m0 3.6h0m0 12.1h0m0 1.8h0m.1-22.5h0m0 .3h0m0 7h0m.1-.1h0m0 9.9h0m0 8.4h0m.1-29.8h0m0 12.5h0m0 8.9h0m.2-13.2h0m0 3.1h0m.2 .8h0m0 6.1h0m.1-9h0m0 1.8h0m0 1h0m.1-5.4h0m0 10h0m0 .5h0m0 7.1h0m0 5.1h0m0 1.2h0m.1-20.4h0m0 .7h0m0 5.6h0m0 12.5h0m0 3.8h0m.2-29h0m0 3h0m0 1.5h0m0 7.3h0m0 7.1h0m.2-12.1h0m0 13.6h0m0 .7h0m.1-21.3h0m0 5.8h0m0 2.3h0m0 5.5h0m0 11.4h0m.1-20.7h0m0 5.3h0m.2-2.8h0m0 2.1h0m.1-4.7h0m0 4.3h0m0 7.4h0m0 7.6h0m.1-14.5h0m.2 5h0m0 1.3h0m0 4.7h0m.1-12h0m0 5h0m0 11.8h0m.1-34.2h0m0 18.3h0m0 .8h0m0 9.8h0m.1-11.3h0m0 6.1h0m0 14h0m.1-28h0m0 5.2h0m0 .7h0m0 7.4h0m0 2.9h0m.1-13.1h0m0 11.5h0m.1-12.6h0m.1-7.7h0m0 5.8h0m0 31.7h0m.1-23.3h0m.1-2.4h0m0 .7h0m0 8.9h0m0 4.7h0m0 .6h0m0 .7h0m.1-23.3h0m0 13.8h0m0 .4h0m.1-3.6h0m.1 4.5h0m0 3.7h0m.1-16.8h0m0 5.3h0m0 1.5h0m0 4.2h0m.2 2.3h0m.1-12.6h0m0 12h0m0 1.1h0m.1-10.2h0m0 .1h0m0 8h0m0 2h0m0 10.3h0m.1-25h0m0 2.2h0m0 .6h0m0 3.1h0m0 11.1h0m0 1.1h0m.1-24.4h0m.1 16.2h0m0 .3h0m0 6.7h0m.1-7.7h0m.1-7.4h0m0 5.4h0m0 4.8h0m0 6.3h0m.1-5.4h0m.1 2.9h0m0 2.8h0m.1-14.1h0m0 14.7h0m0 .2h0m.1-2h0m.1-13.4h0m0 1.7h0m0 1.4h0m.1-5.3h0m0 3.4h0m.1-.1h0m0 3.9h0m0 13.8h0m.1-11.3h0m.1-3.1h0m0 4.4h0m0 2.7h0m.1-7.6h0m0 6h0m.1-14.5h0m.1-1h0m0 6.7h0m0 1.5h0m0 4.7h0m0 12.4h0m.1-12.9h0m0 2h0m.1-7.6h0m0 1.4h0m.1-1.3h0m0 7.7h0m0 .7h0m0 5.6h0m0 .5h0m.1-12.6h0m.2 6.6h0m.1-9.9h0m0 2.5h0m0 14h0m.2 2.1h0m.1-16h0m0 4.2h0m.1-26.7h0m0 11.8h0m0 10.2h0m0 1.3h0m.1-13.6h0m0 17.1h0m0 2.2h0m0 4.8h0m0 1.8h0m.1-16.3h0m0 2.6h0m.1 3.4h0m0 1.4h0m0 16.1h0m.1-13.5h0m.1 .3h0m.1-3.7h0m.1-.1h0m.1-6.3h0m0 3.2h0m0 3.4h0m0 7h0m.3-4.9h0m0 8.6h0m.1-1.2h0m.1-16h0m0 .5h0m0 4h0m0 3.2h0m0 4h0m0 1.5h0m0 2.1h0m0 1.2h0m.1-13h0m0 4.1h0m0 9.1h0m.1-7.3h0m0 2.3h0m0 7.3h0m.1-23.6h0m0 11.6h0m0 .8h0m0 .5h0m.1-4.6h0m0 6.8h0m0 2h0m.1-5.6h0m0 .3h0m.1 2.4h0m.1-7.1h0m0 2.1h0m0 13.5h0m.1-18.5h0m0 2.9h0m.1 1.8h0m0 3h0m.1-6.7h0m0 1.8h0m0 5.5h0m0 6.7h0m.1-13.5h0m.1 5.5h0m0 3.1h0m.1 10.7h0m.1-16.6h0m.1-.5h0m0 5h0m0 4.5h0m.1-6.2h0m.1-5.9h0m0 1h0m0 14.3h0m.1-15.9h0m0 4h0m.2 3h0m0 .1h0m.1-3.1h0m0 5.4h0m0 2.7h0m.1-5.3h0m0 12.8h0m.1-20.7h0m0 8.9h0m0 .1h0m.1-4.7h0m.1 4.5h0m0 10.9h0m.1-18.9h0m0 5h0m.1-6.6h0m.1 9.2h0m0 1.5h0m0 3.1h0m.1-16.1h0m0 10.6h0m0 7.2h0m.1-14.9h0m0 3.9h0m.1 4.1h0m.1 11.5h0m.1-14.2h0m0 4.5h0m.1-.4h0m0 2.3h0m.1-14.2h0m0 16h0m.1-15.3h0m0 11.9h0m0 2.8h0m.1-4.3h0m.1-7.3h0m0 7.3h0m0 2.2h0m.2 .8h0m0 5.7h0m.1-13.3h0m0 3h0m.1 9.7h0m.1-5.8h0m0 4.4h0m.1-10h0m0 6.5h0m.1-15.6h0m.1 9.6h0m.1 1h0m0 4h0m0 4.1h0m.1-8.4h0m0 5.2h0m0 6.8h0m.1-20.9h0m0 6.7h0m.4-.6h0m.2 7.1h0m0 .4h0m.1 3.8h0m0 3.3h0m.1-15.6h0m0 1.8h0m0 .4h0m.1 3.9h0m.1 11.6h0m.1-45.8h0m0 17.2h0m0 7.6h0m.1 2.1h0m.1-5.1h0m0 7.2h0m0 .4h0m0 1.2h0m.2-5.4h0m.1 9.9h0m0 4.9h0m.1-11.7h0m.1 5.1h0m.1-2.4h0m0 2.2h0m.1 .7h0m0 4.8h0m.4-1.5h0m0 .7h0m0 .3h0m.1 .8h0m.1-8.7h0m0 6.7h0m.1 .5h0m.1-2.2h0m0 9.6h0m.2-21.7h0m0 12.5h0m.1-9h0m0 18.6h0m.1-23h0m.4 9h0m0 1.1h0m.1-4h0m0 4.7h0m.1-6.7h0m.1 11h0m0 4.3h0m.1-10.9h0m.1-1.1h0m0 8h0m.1-12.8h0m.1 3.7h0m0 42.4h0m.4-38.3h0m.1-3.7h0m0 1.1h0m.1-.4h0m.1-1.3h0m0 2.5h0m.1-7.1h0m0 9.6h0m.1-.8h0m.2 .4h0m0 .1h0m0 6.2h0m.1-11.2h0m0 6.1h0m0 1.7h0m.1-4.6h0m0 2h0m0 6.5h0m.1-16.5h0m0 19h0m.2-16.5h0m0 3.3h0m0 6.4h0m0 4.7h0m.2-14.7h0m0 19.2h0m.1-21.9h0m0 8.4h0m0 1.2h0m0 1.4h0m0 2.2h0m0 4.1h0m.1-5.6h0m.1-16.9h0m0 18.1h0m.1 7h0m.1-8.1h0m.1-2.1h0m.1-2.9h0m0 .9h0m.2-3h0m0 7.5h0m.3-1.2h0m.1-1.1h0m0 .8h0m.1-4.2h0m0 1.1h0m0 .9h0m0 0h0m.2 4.8h0m.1-10h0m.2 10.5h0m.1-2h0m.1-14.2h0m0 11.1h0m0 2.5h0m.1-.6h0m0 3.3h0m.2-7.4h0m.1-2.2h0m0 1.3h0m.1-2.7h0m.3 3.9h0m0 6.1h0m.1-6.1h0m.1 6.2h0m.1-5.5h0m.1-6.9h0m0 4.8h0m0 3.4h0m.2-4.8h0m0 4.5h0m0 1.8h0m.1 3.6h0m.2-12.9h0m0 6.5h0m.1 3.6h0m.3 2.9h0m0 1h0m.1-10.2h0m0 8.8h0m.1-2.2h0m.1-1.8h0m0 .5h0m0 1.7h0m0 2.6h0m.1-8.6h0m.1 3.8h0m.1-13.4h0m.1 12.1h0m0 .7h0m.1-7.7h0m0 19.2h0m.1-11.1h0m0 .4h0m.1-4.5h0m.2 .1h0m0 .5h0m0 3h0m0 .5h0m.2-.1h0m0 1.6h0m0 .9h0m0 2h0m.1-4.5h0m0 1.4h0m.2-2.5h0m.1-1h0m0 1h0m0 2.1h0m.2 .3h0m0 .8h0m.1 9.1h0m.1-9.1h0m.1 1.7h0m0 4.1h0m.2-7.7h0m0 1.1h0m.1-8h0m0 3.3h0m0 3.9h0m0 .5h0m0 4.4h0m.1-3.5h0m.2-2.1h0m0 8.9h0m.1-6h0m0 4.7h0m.1-9.1h0m0 7.6h0m.1-6.3h0m0 8.8h0m.2-9.3h0m.1-2.3h0m0 6.9h0m.1 2.1h0m.1-9.8h0m0 5.3h0m.1-7.2h0m.1 .1h0m.1 6.8h0m.3-12.8h0m0 6.8h0m.1 8.9h0m.1-8.8h0m0 .8h0m.1-16.5h0m.1 23.6h0m0 2.9h0m.1-6.8h0m0 4.2h0m.1-2h0m0 2.2h0m0 2.9h0m.1-7.9h0m.1 6.4h0m.1-1.9h0m.3 1.2h0m.2-2.8h0m0 5.3h0m.3-8.1h0m.2 .9h0m.3 2h0m.1 4.6h0m.2-8.4h0m.1-1.5h0m0 4.7h0m0 5.2h0m.1-8.6h0m0 3h0m.2-2.7h0m.1 3.5h0m0 1.4h0m.1-3.1h0m0 4.9h0m.1-4h0m0 3.1h0m.1-3.7h0m.2-.3h0m0 .4h0m0 3.2h0m.4-3.9h0m0 2.6h0m0 1.9h0m.2-8.1h0m.1 .9h0m0 6.8h0m.1-7.2h0m0 10.7h0m.1-3.1h0m0 3.3h0m.1-9.1h0m0 19.5h0m.1-25.1h0m0 3.6h0m.3 9.2h0m.1-5.1h0m0 6.4h0m.2-3.1h0m.1 6.5h0m.1-8.4h0m0 4.3h0m0 .9h0m.4-9.7h0m.1 1.4h0m0 9.4h0m.1-4.3h0m.3 2h0m0 .4h0m0 8.6h0m.2-9.8h0m.1-.7h0m.1-8.8h0m0 4.6h0m.1-.1h0m.1-4.6h0m0 4.2h0m0 6.6h0m0 .5h0m.2-12.7h0m.1 8h0m.1 .5h0m.2 1.8h0m.1-.6h0m.1-6.2h0m0 9.4h0m.2-14.1h0m.1 5.9h0m0 7.5h0m.1-1h0m.1-9.5h0m0 11.6h0m.1-9.4h0m0 4.6h0m.1 2.7h0m.2 1.2h0m0 2.1h0m.1-7.3h0m.1 2.6h0m.1-.3h0m.1-2.1h0m0 2.7h0m.2-.2h0m0 1.6h0m.2-1.6h0m.1-10.3h0m0 1.6h0m.1 18.3h0m.1-10.7h0m0 3.5h0m.2-14.3h0m.2 25.9h0m.1-17.1h0m0 3.8h0m.1-12.2h0m0 4.4h0m0 8.5h0m.2-3.9h0m0 6h0m.1-.9h0m0 2.5h0m.1-13.8h0m.1 3.3h0m.2-3.7h0m.6 2.8h0m0 4.9h0m0 5.8h0m.1-9.8h0m.1 16.5h0m.2-7.9h0m0 .7h0m.1-13.4h0m0 46.9h0m.2-36.9h0m.2-3.3h0m.8 3h0m0 3.2h0m.1 .7h0m.3 .2h0m.3-4.7h0m.7-3.8h0m.3-14.8h0m0 20.2h0m0 1.7h0m.1-4.8h0m.2 1.2h0m0 9.2h0m.1-5.2h0m.2-8.1h0m0 .6h0m0 2.1h0m.3-1.1h0m.1 3.3h0m.1-.1h0m.2 2h0m.1 3.6h0m.5-9.8h0m.6-.1h0m.7 1.8h0m.1 5.9h0m.2-2.8h0m.1 6.7h0m.1-7.6h0m.1-5.6h0m.4 1.9h0m0 8.9h0m.1 1.5h0m0 3.1h0m.1-11.5h0m.6-4.5h0m.1 18h0m.4-.8h0m.5-4.6h0m.1 .7h0m.1-1.5h0m.5-13.8h0m0 6.7h0m.1 4.2h0m.6-5.4h0m.3 7.7h0m.2-9.2h0m.6-4.2h0m.2-14.3h0m.7 30.8h0m.1-7.6h0m.3-1.3h0m.5-.3h0m.3 2.1h0m.5-6.6h0m0 35.5h0m.5-25.3h0m.4-9.9h0m1.5 3.6h0m.8-5.4h0m1.6 1h0m.5 .2h0m6.1 9.9h0" stroke="#333" stroke-width="0.9" stroke-linecap="square" fill="none" filter="url(#bl)"/>
<path d="M385.4 241.9V319M379.4 288.2H481.5" stroke="#777" stroke-width="0.8"/>
<path d="M365 332.4V300" stroke="#000" stroke-width="1.3"/>
<path d="M361.5 301L365 293L368.5 301z" fill="#000"/>
<path d="M365 332.4H396.3" stroke="#000" stroke-width="1.3"/>
<path d="M395.3 328.9L403.3 332.4L395.3 335.9z" fill="#000"/>
<text transform="translate(357.6 326.2) rotate(-90)" font-family='"Liberation Serif", serif' font-size="12">Cy5</text>
<text x="367.9" y="348.3" font-family='"Liberation Serif", serif' font-size="11.2">Forward Scatter</text>
</svg>
</body></html>
